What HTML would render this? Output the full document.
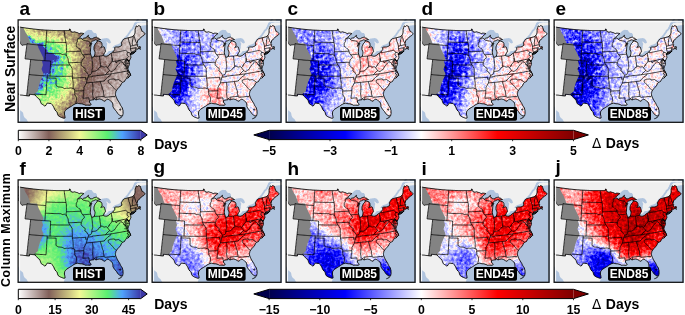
<!DOCTYPE html>
<html><head><meta charset="utf-8"><style>
html,body{margin:0;padding:0;background:#fff;width:685px;height:315px;overflow:hidden}
svg{display:block}
rect.fgc,.fg rect{width:1px;height:1px}
text{font-family:"Liberation Sans",Arial,sans-serif;font-weight:bold}
</style></head><body>
<svg width="685" height="315" viewBox="0 0 685 315"><defs><clipPath id="pclip"><rect x="0" y="0" width="130" height="104"/></clipPath>
<clipPath id="usclip"><path d="M-23.7 4.8 L-22.7 4.5 L-21.7 4.2 L-20.7 3.9 L-19.6 3.5 L-18.7 3.8 L-17.7 4.0 L-16.7 4.3 L-15.7 4.5 L-14.7 4.7 L-13.8 5.0 L-12.8 5.2 L-11.8 5.4 L-10.8 5.6 L-9.8 5.9 L-8.8 6.1 L-7.8 6.3 L-6.8 6.5 L-5.9 6.7 L-4.9 6.9 L-3.9 7.1 L-2.9 7.3 L-1.9 7.4 L-0.9 7.6 L0.1 7.8 L1.1 8.0 L2.1 8.1 L3.1 8.3 L4.1 8.5 L5.1 8.6 L6.1 8.8 L7.1 8.9 L8.1 9.1 L9.1 9.2 L10.1 9.3 L11.1 9.5 L12.1 9.6 L13.1 9.7 L14.1 9.8 L15.1 10.0 L16.1 10.1 L17.1 10.2 L18.1 10.3 L19.1 10.4 L20.1 10.5 L21.2 10.6 L22.2 10.7 L23.2 10.8 L24.2 10.8 L25.2 10.9 L26.2 11.0 L27.2 11.1 L28.2 11.1 L29.2 11.2 L30.2 11.2 L31.2 11.3 L32.2 11.3 L33.3 11.4 L34.3 11.4 L35.3 11.5 L36.3 11.5 L37.3 11.5 L38.3 11.6 L39.3 11.6 L40.3 11.6 L41.3 11.6 L42.4 11.6 L43.4 11.6 L44.4 11.6 L45.4 11.6 L46.4 11.6 L47.4 11.6 L48.4 11.6 L49.4 11.6 L50.4 11.5 L51.5 11.5 L51.4 10.0 L52.3 10.3 L52.6 11.4 L52.9 12.6 L53.9 12.9 L55.0 13.3 L55.7 13.0 L56.5 12.8 L57.4 13.1 L58.3 13.4 L59.0 13.5 L59.6 13.7 L60.4 14.2 L61.2 14.7 L62.0 14.4 L62.8 14.1 L63.7 14.2 L64.6 14.3 L65.2 14.4 L65.9 14.6 L65.1 15.2 L64.2 15.9 L63.3 16.7 L62.5 17.6 L61.7 18.2 L61.0 18.8 L60.4 19.3 L59.7 19.9 L60.5 19.8 L61.3 19.8 L62.1 19.3 L62.8 18.9 L63.6 19.6 L64.3 20.3 L64.9 19.8 L65.5 19.3 L66.3 19.1 L67.1 19.0 L67.9 18.9 L68.6 18.0 L69.3 17.2 L69.9 16.7 L70.5 16.3 L70.2 17.1 L69.9 17.9 L70.7 18.2 L71.5 18.5 L72.2 19.8 L72.9 19.8 L73.6 19.8 L74.3 19.8 L75.2 19.2 L76.1 18.7 L76.8 18.5 L77.6 18.3 L78.4 18.1 L79.0 18.6 L79.6 19.1 L80.2 18.8 L81.0 19.9 L81.7 20.2 L82.5 20.5 L81.7 20.7 L80.9 20.8 L80.2 21.1 L79.6 21.4 L78.5 21.1 L77.4 20.8 L76.8 21.2 L76.1 21.5 L75.4 21.8 L74.6 22.0 L74.1 22.4 L73.6 22.7 L72.9 23.9 L72.2 25.2 L71.8 26.3 L71.4 27.4 L71.8 26.8 L72.3 26.1 L73.0 25.2 L73.8 24.3 L73.3 25.5 L72.9 26.7 L72.8 27.6 L72.7 28.6 L72.6 29.8 L72.5 30.9 L72.4 32.0 L72.2 33.1 L72.4 34.1 L72.6 35.1 L73.0 36.2 L73.3 37.3 L73.9 38.3 L74.4 38.2 L75.0 38.1 L75.7 37.7 L76.3 37.2 L76.7 35.6 L76.9 34.6 L77.0 33.5 L76.8 32.7 L76.6 32.0 L76.2 31.1 L75.9 30.2 L76.0 29.2 L76.0 28.2 L76.2 27.3 L76.5 26.5 L77.0 25.4 L77.6 24.4 L78.3 23.7 L79.0 23.0 L79.4 21.7 L80.1 22.0 L80.8 22.2 L81.9 22.6 L83.1 23.0 L83.5 23.7 L83.9 24.5 L84.0 25.6 L84.1 26.8 L83.4 27.6 L82.8 28.5 L83.4 28.3 L84.1 28.1 L84.6 27.9 L85.1 27.6 L85.7 27.9 L86.3 28.2 L86.6 29.2 L86.9 30.2 L87.3 31.3 L87.4 32.8 L86.9 33.4 L86.4 33.9 L86.0 35.0 L85.2 36.5 L86.0 36.8 L86.9 37.1 L87.5 37.2 L88.1 37.3 L89.1 37.0 L90.2 36.6 L91.1 35.8 L92.0 35.0 L92.6 34.6 L93.3 34.2 L93.8 33.8 L94.3 33.4 L95.1 32.8 L96.0 31.6 L96.8 30.4 L97.0 30.0 L96.4 28.7 L97.1 28.4 L97.8 28.0 L98.6 28.0 L99.5 28.0 L100.3 28.0 L101.3 27.7 L102.2 27.4 L103.1 26.8 L103.9 26.2 L103.6 24.7 L103.1 23.9 L103.7 23.2 L104.2 22.4 L104.7 21.6 L105.2 20.7 L105.9 20.2 L106.6 19.7 L107.5 19.5 L108.4 19.3 L109.3 19.0 L110.2 18.8 L111.2 18.6 L112.1 18.3 L113.1 18.1 L114.0 17.8 L115.0 17.6 L115.4 16.9 L115.8 16.2 L116.4 15.6 L116.8 14.4 L117.1 13.2 L117.1 11.7 L117.1 10.2 L117.7 8.5 L118.3 6.9 L119.4 7.6 L120.0 7.1 L120.7 6.6 L121.5 6.9 L122.3 7.2 L122.7 8.6 L123.2 10.0 L123.6 11.3 L123.8 12.2 L124.8 12.3 L125.6 13.1 L126.3 13.9 L127.0 14.7 L126.6 15.6 L125.7 16.5 L125.0 16.9 L124.3 17.3 L123.7 17.7 L123.1 18.1 L122.5 19.0 L122.0 19.6 L121.4 20.2 L120.8 20.5 L120.2 20.9 L119.6 21.9 L119.3 23.2 L119.1 24.0 L119.0 24.8 L119.8 25.6 L119.3 25.9 L119.1 26.9 L120.0 27.3 L120.5 28.1 L121.0 28.7 L121.5 27.5 L121.9 27.3 L122.4 27.8 L122.4 28.8 L121.6 29.2 L120.8 29.6 L120.0 29.6 L119.5 30.2 L118.8 30.6 L118.3 31.0 L117.7 31.4 L117.1 31.6 L116.5 31.9 L115.6 32.3 L114.7 32.6 L113.9 33.2 L113.1 33.8 L112.5 34.5 L112.4 35.5 L112.7 36.6 L112.8 37.7 L112.9 38.7 L112.4 39.7 L111.9 40.7 L111.2 42.3 L110.4 41.4 L109.0 40.2 L109.6 41.2 L110.3 42.1 L110.9 42.9 L111.4 44.1 L111.3 45.0 L111.2 45.9 L110.5 47.6 L110.2 48.6 L109.8 49.5 L109.9 50.3 L110.0 50.4 L110.7 51.8 L111.3 53.0 L112.0 54.2 L112.4 55.2 L112.8 56.2 L112.1 56.6 L111.4 57.1 L110.8 58.0 L110.2 58.9 L109.3 59.2 L108.4 59.4 L107.8 60.3 L107.2 61.1 L106.5 62.5 L105.6 62.9 L104.7 63.2 L104.2 63.7 L103.7 64.3 L103.2 65.2 L102.8 66.2 L102.0 67.2 L101.2 68.2 L100.4 69.0 L99.6 69.8 L99.1 70.6 L98.5 71.3 L97.9 72.4 L97.7 73.4 L97.4 74.4 L97.5 75.5 L97.6 76.6 L98.1 77.7 L98.5 78.8 L99.0 79.8 L99.5 80.9 L100.3 82.1 L101.1 83.3 L101.5 84.0 L101.9 84.7 L102.3 85.6 L102.7 86.5 L103.5 87.7 L104.3 88.9 L104.6 90.2 L105.0 91.5 L105.0 92.9 L105.1 94.4 L104.9 95.4 L104.6 96.4 L103.8 96.7 L103.0 97.1 L101.8 96.3 L100.8 95.5 L99.8 94.7 L99.3 93.8 L98.8 92.9 L98.2 92.3 L97.6 91.6 L96.7 90.4 L95.8 89.2 L95.3 88.3 L94.9 87.4 L94.9 86.3 L94.8 85.1 L94.5 84.2 L94.2 83.3 L93.5 82.8 L92.8 82.4 L92.0 81.5 L91.2 80.7 L90.5 80.5 L89.8 80.2 L89.2 80.4 L88.5 80.7 L87.8 81.4 L87.1 82.0 L85.8 82.2 L85.0 81.2 L84.3 80.9 L83.6 80.6 L82.6 80.3 L81.6 80.0 L80.7 80.2 L79.9 80.3 L79.2 80.5 L78.4 80.8 L77.7 80.7 L77.0 80.5 L76.6 79.4 L76.3 80.2 L75.4 80.8 L74.1 80.9 L73.3 81.1 L72.5 81.3 L71.6 81.9 L71.3 83.0 L72.5 84.4 L73.2 85.6 L72.0 86.3 L71.0 86.2 L69.9 86.1 L69.3 86.2 L68.5 86.2 L67.6 86.3 L66.3 85.6 L65.1 85.2 L63.9 84.8 L62.9 84.8 L61.9 84.7 L60.8 84.5 L59.6 84.2 L58.8 84.4 L58.0 84.6 L57.3 84.8 L56.2 85.4 L55.1 86.0 L54.3 86.6 L53.5 87.2 L52.3 87.9 L51.2 88.6 L50.0 89.3 L48.9 90.1 L48.2 90.7 L47.5 91.3 L46.6 92.8 L46.5 93.9 L46.4 95.1 L46.7 96.2 L46.9 97.3 L47.0 98.2 L47.1 99.0 L45.9 99.3 L45.1 99.0 L44.2 98.7 L43.2 98.3 L42.2 97.9 L41.3 97.4 L40.5 96.9 L40.0 96.0 L39.5 95.0 L39.3 94.1 L39.1 93.1 L38.5 92.6 L37.8 92.0 L37.2 91.0 L36.5 90.1 L36.1 88.9 L35.6 87.8 L34.9 86.8 L34.3 85.8 L33.7 85.1 L33.0 84.4 L32.1 84.4 L30.9 84.3 L29.8 84.1 L28.8 84.5 L28.4 85.4 L28.0 86.3 L26.7 87.0 L25.9 86.4 L25.1 85.8 L24.2 85.3 L23.3 84.7 L22.9 83.8 L22.3 82.2 L22.1 81.5 L21.8 80.7 L21.0 80.1 L20.3 79.6 L19.1 78.2 L18.5 77.6 L17.9 77.1 L16.9 75.8 L15.8 75.7 L14.8 75.6 L13.7 75.5 L12.6 75.4 L11.5 75.3 L11.5 76.2 L11.4 77.0 L10.2 76.9 L9.1 76.8 L7.9 76.6 L6.8 76.5 L5.6 76.4 L4.5 76.2 L3.4 76.1 L2.2 76.0 L1.1 75.4 L-0.0 74.8 L-1.2 74.2 L-2.3 73.6 L-3.4 72.9 L-4.5 72.3 L-5.6 71.7 L-6.8 71.1 L-7.9 70.5 L-9.0 69.9 L-8.5 69.0 L-9.8 69.0 L-11.1 68.9 L-12.3 68.7 L-13.6 68.6 L-14.8 68.5 L-16.1 68.4 L-17.0 66.8 L-17.9 65.2 L-18.8 63.6 L-19.7 61.9 L-20.5 60.3 L-21.4 58.7 L-22.2 57.1 L-23.1 55.5 L-23.9 53.8 L-24.7 52.2 L-25.5 50.6 L-26.3 48.9 L-27.1 47.3 L-27.8 45.7 L-28.6 44.0 L-29.3 42.4 L-30.0 40.7 L-30.8 39.1 L-31.5 37.4 L-32.2 35.8Z"/></clipPath>
<g id="water" fill="#b0c4de"><path d="M47.1 99.0 L46.7 100.1 L46.3 101.2 L45.9 102.7 L45.6 104.2 L45.4 105.2 L45.2 106.3 L45.1 107.3 L45.0 108.5 L45.0 109.8 L45.0 111.0 L44.9 112.3 L44.9 113.7 L44.9 115.2 L44.9 116.6 L44.9 118.1 L44.9 119.5 L44.9 121.0 L44.9 122.4 L44.9 123.9 L44.9 125.3 L44.9 126.8 L44.9 128.3 L44.9 129.7 L46.4 130.0 L47.9 130.2 L49.4 130.4 L50.9 130.7 L52.4 130.9 L53.9 131.1 L55.4 131.3 L57.0 131.5 L58.5 131.7 L60.0 131.9 L61.5 132.0 L63.0 132.2 L64.5 132.4 L66.0 132.6 L67.5 132.7 L69.1 132.9 L70.6 133.0 L72.1 133.1 L73.6 133.3 L75.2 133.4 L76.7 133.5 L78.2 133.6 L79.8 133.7 L81.3 133.8 L82.8 133.9 L84.4 134.0 L85.9 134.1 L87.4 134.2 L89.0 134.2 L90.5 134.3 L92.0 134.4 L93.6 134.4 L95.1 134.0 L96.5 133.6 L98.0 133.2 L99.4 132.8 L100.9 132.3 L102.3 131.9 L103.8 131.5 L105.2 131.0 L106.7 130.6 L108.1 130.1 L109.5 129.7 L111.0 129.2 L112.4 128.7 L113.8 128.2 L115.3 127.8 L116.7 127.3 L118.1 126.8 L119.5 126.3 L121.0 125.8 L122.4 125.3 L123.8 124.8 L125.2 124.2 L126.6 123.7 L128.0 123.2 L129.4 122.6 L130.8 122.1 L132.2 121.6 L133.6 121.0 L135.0 120.5 L136.3 119.9 L137.7 119.3 L139.1 118.8 L140.5 118.2 L141.8 117.6 L143.2 117.0 L144.6 116.4 L145.9 115.8 L147.3 115.2 L148.3 113.4 L149.2 111.5 L150.2 109.6 L151.1 107.8 L152.0 105.9 L152.9 104.1 L153.8 102.2 L154.7 100.4 L155.5 98.5 L156.4 96.7 L157.2 94.8 L158.1 93.0 L158.9 91.1 L159.7 89.3 L160.5 87.4 L161.3 85.6 L162.0 83.7 L162.8 81.9 L163.5 80.0 L164.3 78.2 L165.0 76.3 L165.7 74.5 L166.4 72.6 L167.1 70.8 L167.8 68.9 L168.4 67.1 L169.1 65.3 L169.7 63.4 L170.3 61.6 L171.0 59.7 L171.6 57.9 L171.0 56.5 L170.4 55.1 L169.8 53.7 L169.2 52.4 L168.6 51.0 L168.1 49.6 L167.5 48.2 L166.9 46.9 L166.3 45.5 L165.7 44.1 L165.2 42.7 L164.6 41.4 L164.0 40.0 L163.4 38.6 L162.8 37.2 L162.2 35.8 L161.7 34.5 L161.1 33.1 L160.5 31.7 L159.9 30.3 L159.3 29.0 L158.8 27.6 L158.2 26.2 L157.6 24.8 L157.0 23.4 L156.4 22.1 L155.8 20.7 L155.2 19.3 L154.7 17.9 L154.1 16.5 L153.5 15.1 L152.9 13.7 L152.3 12.4 L151.7 11.0 L150.5 10.0 L149.2 9.1 L148.0 8.1 L146.7 7.1 L145.5 6.2 L144.3 5.2 L143.1 4.2 L142.1 4.4 L141.1 4.5 L140.1 4.7 L139.2 4.8 L138.2 5.0 L137.2 5.1 L136.2 5.2 L135.3 5.4 L134.3 5.5 L133.3 5.6 L132.3 5.8 L131.4 5.9 L130.4 6.0 L129.4 6.1 L128.5 6.2 L127.5 6.3 L126.6 6.3 L125.6 6.4 L124.8 6.6 L123.9 6.8 L123.1 7.0 L122.3 7.2 L122.7 8.6 L123.2 10.0 L123.6 11.3 L123.8 12.2 L124.8 12.3 L125.6 13.1 L126.3 13.9 L125.5 14.4 L124.7 15.0 L123.9 15.5 L123.0 16.1 L122.3 17.3 L121.6 18.6 L120.8 19.8 L120.1 21.0 L119.3 22.3 L118.5 23.5 L117.7 24.7 L117.0 25.9 L116.2 27.2 L115.2 27.8 L114.3 28.5 L113.4 29.2 L112.4 29.9 L111.5 30.6 L110.5 31.3 L109.6 32.0 L108.6 32.6 L107.6 33.3 L106.7 34.0 L105.7 34.7 L104.7 35.3 L103.7 36.0 L103.2 37.5 L102.6 39.1 L102.0 40.7 L101.4 42.3 L100.7 43.8 L100.1 45.4 L99.5 46.9 L98.8 48.5 L98.2 50.1 L97.5 51.6 L96.8 53.2 L96.1 54.7 L95.4 56.3 L94.7 57.8 L94.0 59.4 L93.3 60.9 L92.2 61.6 L91.1 62.2 L90.0 62.8 L88.9 63.4 L87.8 64.0 L86.7 64.6 L85.6 65.2 L84.5 65.8 L83.3 66.4 L82.2 67.0 L81.1 67.6 L80.0 68.2 L78.8 68.8 L77.7 69.4 L76.5 69.9 L75.4 70.5 L74.2 71.1 L73.1 71.6 L71.9 72.2 L70.7 72.7 L69.6 73.3 L68.4 74.1 L67.3 74.9 L66.2 75.6 L65.0 76.4 L63.9 77.2 L62.7 78.0 L61.5 78.8 L60.4 79.5 L59.2 80.3 L58.0 81.1 L56.8 81.8 L55.6 82.6 L54.4 83.3 L53.2 84.1 L52.0 84.8 L50.8 85.5 L50.1 86.9 L49.4 88.3 L48.7 89.6 L48.0 91.0 L47.3 92.3 L46.6 93.7 L45.9 95.1Z"/><path d="M113.9 10.5 L114.5 9.7 L115.1 8.9 L115.7 8.0 L116.5 7.0 L117.3 6.0 L118.0 5.4 L118.7 4.7 L119.4 4.1 L120.4 3.9 L121.3 3.7 L122.3 3.5 L123.2 3.3 L124.2 3.4 L125.1 3.4 L126.0 3.4 L127.0 3.4 L127.9 3.4 L128.9 3.3 L129.9 3.1 L130.9 2.9 L131.9 2.7 L132.9 2.5 L133.9 2.3 L134.9 2.1 L135.8 1.9 L136.8 1.7 L137.8 1.5 L138.7 1.3 L139.7 1.1 L140.7 0.8 L141.7 0.6 L141.1 -0.8 L140.5 -2.1 L140.0 -3.5 L139.4 -4.9 L138.9 -6.3 L138.3 -7.7 L137.8 -9.1 L137.2 -10.5 L136.7 -11.9 L136.1 -13.3 L135.5 -14.7 L135.0 -16.1 L134.4 -17.5 L133.6 -17.1 L132.7 -16.8 L131.8 -16.5 L131.0 -16.1 L130.1 -15.8 L129.2 -15.5 L128.3 -15.2 L127.5 -14.8 L126.6 -14.5 L125.7 -14.2 L124.8 -13.9 L124.0 -13.6 L123.1 -13.3 L122.2 -13.0 L121.3 -12.7 L120.4 -12.4 L119.6 -12.1 L120.0 -10.7 L120.5 -9.3 L120.9 -7.9 L121.4 -6.6 L121.8 -5.2 L122.3 -3.8 L122.7 -2.4 L123.1 -1.1 L123.6 0.3 L124.0 1.7 L123.0 1.7 L122.0 1.7 L121.0 1.7 L120.0 1.7 L119.3 2.1 L118.5 2.5 L117.7 2.9 L117.0 3.2 L116.4 4.3 L115.8 5.5 L115.3 6.6 L114.7 7.9 L114.1 9.3Z"/><path d="M59.7 19.9 L60.5 19.8 L61.3 19.8 L62.1 19.3 L62.8 18.9 L63.6 19.6 L64.3 20.3 L64.9 19.8 L65.5 19.3 L66.3 19.1 L67.1 19.0 L67.9 18.9 L68.6 18.0 L69.3 17.2 L69.9 16.7 L70.5 16.3 L70.2 17.1 L69.9 17.9 L70.7 18.2 L71.5 18.5 L72.2 19.8 L72.9 19.8 L73.6 19.8 L74.3 19.8 L75.2 19.2 L76.1 18.7 L76.8 18.5 L77.6 18.3 L78.4 18.1 L79.0 18.6 L79.6 19.1 L79.2 18.3 L78.8 17.5 L79.1 15.9 L78.5 15.0 L77.9 14.1 L76.8 13.9 L75.7 13.8 L74.6 12.4 L73.6 11.1 L72.7 11.0 L71.8 10.9 L71.0 10.8 L70.0 11.1 L69.0 11.4 L68.2 12.1 L67.4 12.7 L66.6 13.4 L65.9 14.6 L65.1 15.2 L64.2 15.9 L63.3 16.7 L62.5 17.6 L61.7 18.2 L61.0 18.8Z"/><path d="M79.4 21.7 L78.4 21.3 L77.4 20.8 L76.8 21.2 L76.1 21.5 L75.4 21.8 L74.6 22.0 L74.1 22.4 L73.6 22.7 L72.9 23.9 L72.2 25.2 L71.8 26.3 L71.4 27.4 L71.8 26.8 L72.3 26.1 L73.0 25.2 L73.8 24.3 L73.3 25.5 L72.9 26.7 L72.8 27.6 L72.7 28.6 L72.6 29.8 L72.5 30.9 L72.4 32.0 L72.2 33.1 L72.4 34.1 L72.6 35.1 L73.0 36.2 L73.3 37.3 L73.9 38.3 L74.4 38.2 L75.0 38.1 L75.7 37.7 L76.3 37.2 L76.7 35.6 L76.9 34.6 L77.0 33.5 L76.8 32.7 L76.6 32.0 L76.2 31.1 L75.9 30.2 L76.0 29.2 L76.0 28.2 L76.2 27.3 L76.5 26.5 L77.0 25.4 L77.6 24.4 L78.3 23.7 L79.0 23.0Z"/><path d="M79.6 21.4 L80.2 21.1 L80.9 20.8 L81.7 20.7 L82.5 20.5 L83.2 20.2 L84.0 19.8 L84.8 19.6 L85.7 19.4 L86.6 19.2 L87.5 19.2 L88.4 19.1 L89.4 19.2 L90.4 19.4 L91.2 20.3 L92.1 21.2 L92.5 22.3 L93.0 23.4 L92.4 24.0 L91.8 24.6 L91.1 24.3 L90.4 24.0 L89.6 23.3 L88.9 22.5 L88.2 22.7 L88.7 23.7 L89.3 24.8 L89.0 26.0 L88.7 27.2 L88.8 28.7 L88.1 30.4 L87.3 31.3 L86.9 30.2 L86.6 29.2 L86.3 28.2 L85.7 27.9 L85.1 27.6 L84.6 27.9 L84.1 28.1 L83.4 28.3 L82.8 28.5 L83.4 27.6 L84.1 26.8 L84.0 25.6 L83.9 24.5 L83.5 23.7 L83.1 23.0 L81.9 22.6 L80.8 22.2 L80.1 22.0 L79.4 21.7Z"/><path d="M85.2 36.5 L86.0 36.8 L86.9 37.1 L87.5 37.2 L88.1 37.3 L89.1 37.0 L90.2 36.6 L91.1 35.8 L92.0 35.0 L92.6 34.6 L93.3 34.2 L93.8 33.8 L94.3 33.4 L95.1 32.8 L96.0 31.6 L96.8 30.4 L97.0 30.0 L96.0 30.4 L95.1 30.9 L94.2 31.5 L93.5 31.7 L92.9 32.0 L91.8 32.0 L90.6 32.1 L90.1 32.9 L89.5 33.6 L88.6 34.4 L87.7 35.1 L86.9 35.1 L86.0 35.1Z"/><path d="M96.4 28.7 L97.1 28.4 L97.8 28.0 L98.6 28.0 L99.5 28.0 L100.3 28.0 L101.3 27.7 L102.2 27.4 L103.1 26.8 L103.9 26.2 L103.6 24.7 L103.1 23.9 L102.3 23.9 L101.5 24.4 L100.8 24.8 L100.0 25.2 L99.2 25.4 L98.3 25.7 L97.4 26.0 L96.6 26.5 L95.9 26.9 L95.2 27.4 L94.3 28.9 L95.0 29.0 L95.7 29.1Z"/><path d="M101.7 90.3 L102.3 90.0 L102.9 90.5 L102.6 91.1 L101.9 91.1Z"/><path d="M103.1 23.9 L103.7 23.2 L104.2 22.4 L104.7 21.6 L105.2 20.7 L105.9 20.2 L106.6 19.7 L107.4 18.9 L108.2 18.0 L108.7 17.5 L109.3 16.9 L110.0 16.0 L110.6 15.0 L111.3 14.0 L112.0 13.0 L112.6 11.9 L113.3 11.3 L114.0 10.6 L114.7 9.8 L115.4 8.9 L115.9 7.9 L116.4 6.8 L116.9 5.7 L117.4 4.5 L118.1 3.3 L118.8 2.1 L119.4 1.2 L120.0 0.4 L120.7 -0.5 L121.4 -1.0 L122.1 -1.5 L122.8 -2.0 L123.6 -2.4 L124.4 -2.7 L125.2 -3.0" fill="none" stroke="#b0c4de" stroke-width="1.8"/></g>
<path id="west" d="M-32.3 -12.5 L-31.4 -12.2 L-30.5 -11.9 L-29.6 -11.6 L-28.7 -11.3 L-27.7 -11.0 L-26.8 -10.7 L-25.9 -10.4 L-24.9 -10.1 L-24.0 -9.9 L-23.1 -9.6 L-22.1 -9.3 L-21.2 -9.1 L-20.3 -8.8 L-19.3 -8.6 L-18.4 -8.3 L-17.5 -8.1 L-16.5 -7.8 L-15.6 -7.6 L-14.7 -7.3 L-13.7 -7.1 L-12.8 -6.9 L-11.8 -6.7 L-10.9 -6.4 L-9.9 -6.2 L-9.0 -6.0 L-8.0 -5.8 L-7.1 -5.6 L-6.1 -5.4 L-5.2 -5.2 L-4.2 -5.0 L-3.3 -4.8 L-2.3 -4.6 L-1.4 -4.4 L-0.4 -4.3 L0.5 -4.1 L0.2 -2.6 L-0.0 -1.2 L-0.3 0.3 L-0.5 1.7 L-0.8 3.2 L-1.1 4.6 L-1.3 6.1 L-1.6 7.5 L-1.8 8.8 L-2.1 10.1 L-2.3 11.4 L-2.0 12.5 L-1.8 13.6 L-1.3 14.0 L-0.9 14.5 L-0.2 15.8 L0.5 17.1 L1.1 17.8 L0.6 19.2 L0.4 20.3 L0.1 21.3 L0.8 21.6 L1.5 21.9 L2.0 23.2 L2.5 24.4 L3.2 25.4 L4.0 26.4 L4.7 26.2 L5.4 26.0 L6.2 25.9 L7.1 25.8 L7.9 25.8 L9.0 24.7 L8.8 26.1 L8.6 27.5 L8.5 28.9 L8.3 30.2 L8.1 31.6 L7.9 33.0 L7.7 34.4 L7.6 35.7 L7.4 37.1 L7.2 38.5 L7.0 39.8 L8.0 39.9 L8.9 40.1 L9.9 40.2 L10.8 40.3 L11.7 40.4 L12.7 40.5 L12.5 42.0 L12.4 43.4 L12.2 44.9 L12.0 46.3 L11.9 47.8 L11.7 49.2 L11.6 50.7 L11.4 52.1 L11.2 53.6 L11.1 55.0 L10.9 56.5 L10.8 57.9 L10.6 59.4 L10.4 60.8 L10.3 62.3 L10.1 63.7 L10.0 65.1 L9.8 66.6 L9.6 68.0 L9.5 69.5 L9.3 70.9 L9.2 72.4 L9.0 73.8 L8.8 75.3 L8.7 76.7 L8.5 78.2 L8.4 79.7 L8.2 81.1 L8.0 82.6 L7.9 84.1 L7.7 85.5 L7.5 87.0 L7.4 88.5 L7.2 89.9 L7.1 91.4 L6.9 92.9 L6.7 94.4 L6.6 95.8 L6.4 97.3 L6.2 98.8 L6.1 100.3 L5.9 101.8 L5.7 103.2 L5.6 104.7 L5.4 106.2 L5.2 107.7 L5.1 109.2 L4.9 110.7 L4.8 112.2 L4.6 113.7 L4.4 115.2 L4.3 116.7 L4.1 118.2 L3.9 119.7 L2.5 119.6 L1.0 119.4 L-0.4 119.2 L-1.8 119.0 L-3.2 118.8 L-4.7 118.7 L-6.1 118.5 L-7.5 118.3 L-9.0 118.1 L-10.4 117.8 L-11.8 117.6 L-13.3 117.4 L-14.7 117.2 L-16.1 116.9 L-17.5 116.7 L-18.9 116.4 L-20.4 116.2 L-21.8 115.9 L-23.2 115.7 L-24.6 115.4 L-26.0 115.1 L-27.5 114.9 L-28.9 114.6 L-30.3 114.3 L-31.7 114.0 L-33.1 113.7 L-34.5 113.4 L-35.9 113.1 L-37.3 112.7 L-38.8 112.4 L-40.2 112.1 L-41.6 111.7 L-43.0 111.4 L-44.4 111.1 L-45.8 110.7 L-47.2 110.3 L-48.6 110.0 L-50.0 109.6 L-51.4 109.2 L-52.7 108.9 L-54.1 108.5 L-55.5 108.1 L-56.9 107.7 L-58.3 107.3 L-59.7 106.9 L-61.1 106.5 L-62.5 106.0 L-63.8 105.6 L-65.2 105.2 L-66.6 104.8 L-68.0 104.3 L-69.3 103.9 L-70.7 103.4Z" fill="#f0f0f0"/>
<path id="gulfcal" d="M-9.4 72.4 L-8.5 73.1 L-7.6 73.9 L-6.7 74.4 L-5.7 74.9 L-5.1 75.6 L-4.4 76.3 L-4.1 77.3 L-3.8 78.3 L-3.5 79.7 L-3.2 81.0 L-2.8 82.0 L-2.5 83.0 L-2.2 84.0 L-1.9 85.0 L-1.1 85.9 L-0.3 86.8 L0.4 87.8 L1.1 88.9 L1.6 90.1 L2.1 91.3 L3.1 92.1 L4.0 92.8 L4.9 93.6 L5.2 94.6 L5.4 95.6 L5.6 96.7 L6.3 98.3 L7.3 99.2 L8.4 100.1 L9.1 101.3 L9.8 102.5 L10.9 103.8 L12.1 105.0 L12.9 106.1 L13.7 107.2 L14.6 108.3 L15.1 109.9 L15.6 111.5 L16.1 113.1 L16.6 114.7 L17.1 116.3 L17.6 117.9 L18.1 119.5 L18.7 121.0 L17.2 120.9 L15.8 120.8 L14.3 120.7 L12.9 120.6 L11.5 120.5 L10.0 120.3 L8.6 120.2 L7.2 120.1 L5.7 119.9 L4.3 119.8 L2.9 119.6 L1.4 119.4 L-0.0 119.3 L-1.4 119.1 L-2.9 118.9 L-4.3 118.7 L-5.7 118.5 L-7.2 118.3 L-8.6 118.1 L-10.0 117.9 L-11.4 117.7 L-12.9 117.5 L-14.3 117.2 L-15.7 117.0 L-17.1 116.8 L-18.5 116.5 L-20.0 116.3 L-21.4 116.0 L-22.8 115.8 L-24.2 115.5 L-25.6 115.2 L-27.1 114.9 L-28.5 114.6 L-29.9 114.4 L-31.3 114.1 L-32.7 113.8 L-34.1 113.5 L-35.5 113.1 L-35.2 111.7 L-34.8 110.2 L-34.5 108.7 L-34.2 107.2 L-33.9 105.7 L-33.5 104.2 L-33.2 102.7 L-32.9 101.3 L-32.5 99.8 L-32.2 98.3 L-31.9 96.8 L-31.5 95.4 L-31.2 93.9 L-30.9 92.4 L-30.6 91.0 L-30.2 89.5 L-29.9 88.0 L-29.6 86.6 L-29.3 85.1 L-28.9 83.7 L-28.6 82.2 L-28.3 80.8 L-28.0 79.3 L-27.6 77.8 L-27.3 76.4 L-27.0 74.9 L-26.7 73.5 L-26.3 72.0 L-26.0 70.6 L-25.7 69.1 L-25.4 67.7 L-25.0 66.2 L-24.7 64.8Z" fill="#b0c4de"/>
<path id="mask" d="M5.2 0.0 L5.7 9.5 L7.6 13.5 L9.5 16.4 L11.0 20.2 L12.4 24.3 L19.0 24.6 L20.5 29.0 L22.9 33.8 L25.2 38.5 L25.5 40.5 L24.0 42.0 L25.0 46.0 L23.5 50.0 L25.5 55.0 L25.2 56.0 L21.9 63.5 L20.5 68.3 L20.0 72.0 L16.7 75.0 L16.0 75.9 L16.0 95.0 L-5.0 95.0 L-5.0 0.0Z" fill="#838383"/>
<path id="usoutline" d="M-23.7 4.8 L-22.7 4.5 L-21.7 4.2 L-20.7 3.9 L-19.6 3.5 L-18.7 3.8 L-17.7 4.0 L-16.7 4.3 L-15.7 4.5 L-14.7 4.7 L-13.8 5.0 L-12.8 5.2 L-11.8 5.4 L-10.8 5.6 L-9.8 5.9 L-8.8 6.1 L-7.8 6.3 L-6.8 6.5 L-5.9 6.7 L-4.9 6.9 L-3.9 7.1 L-2.9 7.3 L-1.9 7.4 L-0.9 7.6 L0.1 7.8 L1.1 8.0 L2.1 8.1 L3.1 8.3 L4.1 8.5 L5.1 8.6 L6.1 8.8 L7.1 8.9 L8.1 9.1 L9.1 9.2 L10.1 9.3 L11.1 9.5 L12.1 9.6 L13.1 9.7 L14.1 9.8 L15.1 10.0 L16.1 10.1 L17.1 10.2 L18.1 10.3 L19.1 10.4 L20.1 10.5 L21.2 10.6 L22.2 10.7 L23.2 10.8 L24.2 10.8 L25.2 10.9 L26.2 11.0 L27.2 11.1 L28.2 11.1 L29.2 11.2 L30.2 11.2 L31.2 11.3 L32.2 11.3 L33.3 11.4 L34.3 11.4 L35.3 11.5 L36.3 11.5 L37.3 11.5 L38.3 11.6 L39.3 11.6 L40.3 11.6 L41.3 11.6 L42.4 11.6 L43.4 11.6 L44.4 11.6 L45.4 11.6 L46.4 11.6 L47.4 11.6 L48.4 11.6 L49.4 11.6 L50.4 11.5 L51.5 11.5 L51.4 10.0 L52.3 10.3 L52.6 11.4 L52.9 12.6 L53.9 12.9 L55.0 13.3 L55.7 13.0 L56.5 12.8 L57.4 13.1 L58.3 13.4 L59.0 13.5 L59.6 13.7 L60.4 14.2 L61.2 14.7 L62.0 14.4 L62.8 14.1 L63.7 14.2 L64.6 14.3 L65.2 14.4 L65.9 14.6 L65.1 15.2 L64.2 15.9 L63.3 16.7 L62.5 17.6 L61.7 18.2 L61.0 18.8 L60.4 19.3 L59.7 19.9 L60.5 19.8 L61.3 19.8 L62.1 19.3 L62.8 18.9 L63.6 19.6 L64.3 20.3 L64.9 19.8 L65.5 19.3 L66.3 19.1 L67.1 19.0 L67.9 18.9 L68.6 18.0 L69.3 17.2 L69.9 16.7 L70.5 16.3 L70.2 17.1 L69.9 17.9 L70.7 18.2 L71.5 18.5 L72.2 19.8 L72.9 19.8 L73.6 19.8 L74.3 19.8 L75.2 19.2 L76.1 18.7 L76.8 18.5 L77.6 18.3 L78.4 18.1 L79.0 18.6 L79.6 19.1 L80.2 18.8 L81.0 19.9 L81.7 20.2 L82.5 20.5 L81.7 20.7 L80.9 20.8 L80.2 21.1 L79.6 21.4 L78.5 21.1 L77.4 20.8 L76.8 21.2 L76.1 21.5 L75.4 21.8 L74.6 22.0 L74.1 22.4 L73.6 22.7 L72.9 23.9 L72.2 25.2 L71.8 26.3 L71.4 27.4 L71.8 26.8 L72.3 26.1 L73.0 25.2 L73.8 24.3 L73.3 25.5 L72.9 26.7 L72.8 27.6 L72.7 28.6 L72.6 29.8 L72.5 30.9 L72.4 32.0 L72.2 33.1 L72.4 34.1 L72.6 35.1 L73.0 36.2 L73.3 37.3 L73.9 38.3 L74.4 38.2 L75.0 38.1 L75.7 37.7 L76.3 37.2 L76.7 35.6 L76.9 34.6 L77.0 33.5 L76.8 32.7 L76.6 32.0 L76.2 31.1 L75.9 30.2 L76.0 29.2 L76.0 28.2 L76.2 27.3 L76.5 26.5 L77.0 25.4 L77.6 24.4 L78.3 23.7 L79.0 23.0 L79.4 21.7 L80.1 22.0 L80.8 22.2 L81.9 22.6 L83.1 23.0 L83.5 23.7 L83.9 24.5 L84.0 25.6 L84.1 26.8 L83.4 27.6 L82.8 28.5 L83.4 28.3 L84.1 28.1 L84.6 27.9 L85.1 27.6 L85.7 27.9 L86.3 28.2 L86.6 29.2 L86.9 30.2 L87.3 31.3 L87.4 32.8 L86.9 33.4 L86.4 33.9 L86.0 35.0 L85.2 36.5 L86.0 36.8 L86.9 37.1 L87.5 37.2 L88.1 37.3 L89.1 37.0 L90.2 36.6 L91.1 35.8 L92.0 35.0 L92.6 34.6 L93.3 34.2 L93.8 33.8 L94.3 33.4 L95.1 32.8 L96.0 31.6 L96.8 30.4 L97.0 30.0 L96.4 28.7 L97.1 28.4 L97.8 28.0 L98.6 28.0 L99.5 28.0 L100.3 28.0 L101.3 27.7 L102.2 27.4 L103.1 26.8 L103.9 26.2 L103.6 24.7 L103.1 23.9 L103.7 23.2 L104.2 22.4 L104.7 21.6 L105.2 20.7 L105.9 20.2 L106.6 19.7 L107.5 19.5 L108.4 19.3 L109.3 19.0 L110.2 18.8 L111.2 18.6 L112.1 18.3 L113.1 18.1 L114.0 17.8 L115.0 17.6 L115.4 16.9 L115.8 16.2 L116.4 15.6 L116.8 14.4 L117.1 13.2 L117.1 11.7 L117.1 10.2 L117.7 8.5 L118.3 6.9 L119.4 7.6 L120.0 7.1 L120.7 6.6 L121.5 6.9 L122.3 7.2 L122.7 8.6 L123.2 10.0 L123.6 11.3 L123.8 12.2 L124.8 12.3 L125.6 13.1 L126.3 13.9 L127.0 14.7 L126.6 15.6 L125.7 16.5 L125.0 16.9 L124.3 17.3 L123.7 17.7 L123.1 18.1 L122.5 19.0 L122.0 19.6 L121.4 20.2 L120.8 20.5 L120.2 20.9 L119.6 21.9 L119.3 23.2 L119.1 24.0 L119.0 24.8 L119.8 25.6 L119.3 25.9 L119.1 26.9 L120.0 27.3 L120.5 28.1 L121.0 28.7 L121.5 27.5 L121.9 27.3 L122.4 27.8 L122.4 28.8 L121.6 29.2 L120.8 29.6 L120.0 29.6 L119.5 30.2 L118.8 30.6 L118.3 31.0 L117.7 31.4 L117.1 31.6 L116.5 31.9 L115.6 32.3 L114.7 32.6 L113.9 33.2 L113.1 33.8 L112.5 34.5 L112.4 35.5 L112.7 36.6 L112.8 37.7 L112.9 38.7 L112.4 39.7 L111.9 40.7 L111.2 42.3 L110.4 41.4 L109.0 40.2 L109.6 41.2 L110.3 42.1 L110.9 42.9 L111.4 44.1 L111.3 45.0 L111.2 45.9 L110.5 47.6 L110.2 48.6 L109.8 49.5 L109.9 50.3 L110.0 50.4 L110.7 51.8 L111.3 53.0 L112.0 54.2 L112.4 55.2 L112.8 56.2 L112.1 56.6 L111.4 57.1 L110.8 58.0 L110.2 58.9 L109.3 59.2 L108.4 59.4 L107.8 60.3 L107.2 61.1 L106.5 62.5 L105.6 62.9 L104.7 63.2 L104.2 63.7 L103.7 64.3 L103.2 65.2 L102.8 66.2 L102.0 67.2 L101.2 68.2 L100.4 69.0 L99.6 69.8 L99.1 70.6 L98.5 71.3 L97.9 72.4 L97.7 73.4 L97.4 74.4 L97.5 75.5 L97.6 76.6 L98.1 77.7 L98.5 78.8 L99.0 79.8 L99.5 80.9 L100.3 82.1 L101.1 83.3 L101.5 84.0 L101.9 84.7 L102.3 85.6 L102.7 86.5 L103.5 87.7 L104.3 88.9 L104.6 90.2 L105.0 91.5 L105.0 92.9 L105.1 94.4 L104.9 95.4 L104.6 96.4 L103.8 96.7 L103.0 97.1 L101.8 96.3 L100.8 95.5 L99.8 94.7 L99.3 93.8 L98.8 92.9 L98.2 92.3 L97.6 91.6 L96.7 90.4 L95.8 89.2 L95.3 88.3 L94.9 87.4 L94.9 86.3 L94.8 85.1 L94.5 84.2 L94.2 83.3 L93.5 82.8 L92.8 82.4 L92.0 81.5 L91.2 80.7 L90.5 80.5 L89.8 80.2 L89.2 80.4 L88.5 80.7 L87.8 81.4 L87.1 82.0 L85.8 82.2 L85.0 81.2 L84.3 80.9 L83.6 80.6 L82.6 80.3 L81.6 80.0 L80.7 80.2 L79.9 80.3 L79.2 80.5 L78.4 80.8 L77.7 80.7 L77.0 80.5 L76.6 79.4 L76.3 80.2 L75.4 80.8 L74.1 80.9 L73.3 81.1 L72.5 81.3 L71.6 81.9 L71.3 83.0 L72.5 84.4 L73.2 85.6 L72.0 86.3 L71.0 86.2 L69.9 86.1 L69.3 86.2 L68.5 86.2 L67.6 86.3 L66.3 85.6 L65.1 85.2 L63.9 84.8 L62.9 84.8 L61.9 84.7 L60.8 84.5 L59.6 84.2 L58.8 84.4 L58.0 84.6 L57.3 84.8 L56.2 85.4 L55.1 86.0 L54.3 86.6 L53.5 87.2 L52.3 87.9 L51.2 88.6 L50.0 89.3 L48.9 90.1 L48.2 90.7 L47.5 91.3 L46.6 92.8 L46.5 93.9 L46.4 95.1 L46.7 96.2 L46.9 97.3 L47.0 98.2 L47.1 99.0 L45.9 99.3 L45.1 99.0 L44.2 98.7 L43.2 98.3 L42.2 97.9 L41.3 97.4 L40.5 96.9 L40.0 96.0 L39.5 95.0 L39.3 94.1 L39.1 93.1 L38.5 92.6 L37.8 92.0 L37.2 91.0 L36.5 90.1 L36.1 88.9 L35.6 87.8 L34.9 86.8 L34.3 85.8 L33.7 85.1 L33.0 84.4 L32.1 84.4 L30.9 84.3 L29.8 84.1 L28.8 84.5 L28.4 85.4 L28.0 86.3 L26.7 87.0 L25.9 86.4 L25.1 85.8 L24.2 85.3 L23.3 84.7 L22.9 83.8 L22.3 82.2 L22.1 81.5 L21.8 80.7 L21.0 80.1 L20.3 79.6 L19.1 78.2 L18.5 77.6 L17.9 77.1 L16.9 75.8 L15.8 75.7 L14.8 75.6 L13.7 75.5 L12.6 75.4 L11.5 75.3 L11.5 76.2 L11.4 77.0 L10.2 76.9 L9.1 76.8 L7.9 76.6 L6.8 76.5 L5.6 76.4 L4.5 76.2 L3.4 76.1 L2.2 76.0 L1.1 75.4 L-0.0 74.8 L-1.2 74.2 L-2.3 73.6 L-3.4 72.9 L-4.5 72.3 L-5.6 71.7 L-6.8 71.1 L-7.9 70.5 L-9.0 69.9 L-8.5 69.0 L-9.8 69.0 L-11.1 68.9 L-12.3 68.7 L-13.6 68.6 L-14.8 68.5 L-16.1 68.4 L-17.0 66.8 L-17.9 65.2 L-18.8 63.6 L-19.7 61.9 L-20.5 60.3 L-21.4 58.7 L-22.2 57.1 L-23.1 55.5 L-23.9 53.8 L-24.7 52.2 L-25.5 50.6 L-26.3 48.9 L-27.1 47.3 L-27.8 45.7 L-28.6 44.0 L-29.3 42.4 L-30.0 40.7 L-30.8 39.1 L-31.5 37.4 L-32.2 35.8Z M112.4 35.5 L113.4 35.2 L114.3 34.9 L115.2 34.6 L116.1 33.9 L117.0 33.1 L117.8 32.3 L117.1 32.8 L116.3 33.2 L115.5 33.4 L114.6 33.7 L113.8 33.9 L112.9 34.6Z M101.7 90.3 L102.3 90.0 L102.9 90.5 L102.6 91.1 L101.9 91.1Z M104.7 96.6 L104.1 97.5 L103.2 98.4 L101.9 99.2 L101.1 99.5 L100.3 99.8"/>
<path id="coastx" d="M108.9 50.3 L108.4 49.2 L108.5 48.1 L108.0 46.6 L107.3 45.6 L107.4 44.5 L106.7 43.1 L107.1 41.8 L107.5 41.0 L107.8 40.9 L107.7 42.1 L107.7 42.8 L107.8 43.6 L108.3 44.5 L108.7 45.3 L109.3 46.4 L109.6 47.8 L109.7 49.4 L109.8 50.1 M108.1 46.6 L107.5 46.4 L106.8 46.1 L105.8 45.6 M108.9 50.3 L108.3 50.0 L107.6 49.8 L106.4 49.7 M108.2 48.1 L106.8 47.7 M111.1 42.9 L110.1 41.9 L109.0 40.6 L108.9 39.5 M111.2 42.3 L110.6 41.4 L109.6 40.9 M109.9 50.5 L109.3 52.1 L110.6 53.4 L109.7 54.0 L108.9 54.5 L110.0 55.1 L111.1 55.6 L110.4 56.3 L109.8 57.0 L109.2 57.8 L108.5 58.5 M110.5 51.9 L111.0 52.7 L111.4 53.6 L112.1 54.6 L112.4 55.4 L112.8 56.2 L112.1 56.6 L111.4 57.1 L110.8 58.0 L110.2 58.9 M112.4 35.5 L113.4 35.2 L114.3 34.9 L115.2 34.6 L116.1 33.9 L117.0 33.1 L117.8 32.3 L117.1 32.8 L116.3 33.2 L115.5 33.4 L114.6 33.7 L113.8 33.9 L112.9 34.6 L112.4 35.5 M120.8 29.6 L121.8 29.8 L122.8 30.0 L122.0 30.4"/>
<path id="borders" d="M28.8 11.2 L28.7 12.6 L28.6 14.0 L28.5 15.4 L28.4 16.8 L28.3 18.2 L28.3 19.6 L28.2 21.0 L28.1 22.4 L28.0 23.8 L27.9 25.2 L27.8 26.5 M27.8 26.5 L26.8 26.5 L25.7 26.4 L24.7 26.3 L23.6 26.3 L22.6 26.2 L21.5 26.1 L20.5 26.0 L19.4 25.9 L18.4 25.8 L17.4 25.7 L16.3 25.6 L15.3 25.5 L14.2 25.4 L13.2 25.3 L12.1 25.1 L11.1 25.0 L10.0 24.9 L9.0 24.7 M9.0 24.7 L7.9 25.8 L7.1 25.8 L6.2 25.9 L5.4 26.0 L4.7 26.2 L4.0 26.4 L3.2 25.4 L2.5 24.4 L2.0 23.2 L1.5 21.9 L0.8 21.6 L0.1 21.3 L0.4 20.3 L0.6 19.2 L1.1 17.8 L0.5 17.1 L-0.2 15.8 L-0.9 14.5 L-1.3 14.0 L-1.8 13.6 L-2.0 12.5 L-2.3 11.4 L-2.1 10.1 L-1.8 8.8 L-1.6 7.5 M27.8 26.5 L27.8 27.9 L27.7 29.3 L27.6 30.7 L27.5 32.1 L27.4 33.5 L27.3 34.8 L27.3 36.2 L27.2 37.6 L27.1 39.0 L27.0 40.4 L26.9 41.7 M26.9 41.7 L25.8 41.7 L24.7 41.6 L23.6 41.5 L22.5 41.4 L21.4 41.3 L20.3 41.3 L19.2 41.2 L18.1 41.1 L17.0 41.0 L15.8 40.8 L14.7 40.7 L13.6 40.6 L12.5 40.5 L11.4 40.4 L10.3 40.2 L9.2 40.1 L8.1 40.0 L7.0 39.8 L7.2 38.5 L7.4 37.1 L7.6 35.7 L7.7 34.4 L7.9 33.0 L8.1 31.6 L8.3 30.2 L8.5 28.9 L8.6 27.5 L8.8 26.1 L9.0 24.7 M28.1 23.0 L29.1 23.0 L30.2 23.1 L31.2 23.1 L32.3 23.2 L33.3 23.2 L34.4 23.3 L35.4 23.3 L36.5 23.3 L37.5 23.4 L38.6 23.4 L39.6 23.4 L40.7 23.4 L41.7 23.4 L42.8 23.4 L43.8 23.4 L44.9 23.4 L45.9 23.4 L47.0 23.4 L48.0 23.4 M48.0 23.4 L47.8 22.3 L47.5 21.3 L47.4 20.3 L47.2 19.3 L47.0 18.0 L46.8 16.6 L46.6 15.1 L46.4 13.6 L46.3 12.6 L46.2 11.6 M48.0 23.4 L48.2 24.6 L48.4 25.9 L48.4 27.2 L48.4 28.6 L48.4 30.0 L48.4 31.4 L48.5 32.7 M48.5 32.7 L48.3 33.7 L48.1 34.6 L48.3 35.6 L48.5 36.5 M27.4 34.2 L28.5 34.2 L29.6 34.3 L30.7 34.3 L31.8 34.4 L32.9 34.4 L34.0 34.5 L35.1 34.5 L36.2 34.6 L37.3 34.6 L38.4 34.6 L39.5 34.6 L40.6 34.6 L41.7 34.7 L42.8 34.7 L43.5 35.1 L44.2 35.6 L45.3 35.4 L46.4 35.2 L47.1 35.7 L47.8 36.2 L48.5 36.5 M48.5 36.5 L48.9 37.5 L49.3 38.4 L50.1 39.9 L50.2 41.1 L50.3 42.2 L50.5 43.0 L50.6 43.8 L51.3 44.8 L52.0 45.9 M52.0 45.9 L50.9 46.0 L49.7 46.0 L48.6 46.0 L47.4 46.0 L46.3 46.0 L45.1 46.0 L44.0 46.0 L42.8 46.0 L41.7 46.0 L40.5 46.0 L39.4 46.0 L38.2 46.0 L37.1 45.9 L35.9 45.9 L34.8 45.9 L33.6 45.8 L32.5 45.8 M32.5 45.8 L32.5 44.5 L32.6 43.3 L32.6 42.0 L31.7 42.0 L30.7 41.9 L29.8 41.9 L28.8 41.8 L27.9 41.8 L26.9 41.7 M32.5 45.8 L32.4 47.2 L32.4 48.6 L32.3 50.0 L32.2 51.5 L32.2 52.9 L32.1 54.3 L32.1 55.7 L32.0 57.1 M32.0 57.1 L33.2 57.1 L34.4 57.2 L35.5 57.2 L36.7 57.3 L37.9 57.3 L39.1 57.3 L40.2 57.3 L41.4 57.3 L42.6 57.3 L43.8 57.3 L44.9 57.3 L46.1 57.3 L47.3 57.3 L48.5 57.3 L49.7 57.3 L50.8 57.3 L52.0 57.2 L53.2 57.2 L54.4 57.2 M54.4 59.1 L54.4 58.1 L54.4 57.2 L54.3 55.9 L54.3 54.5 L54.3 53.2 L54.2 51.9 L54.2 50.6 L54.1 49.3 L53.2 47.8 L52.6 46.7 L52.0 45.9 M12.7 40.5 L12.5 41.9 L12.4 43.2 L12.2 44.6 L12.1 46.0 L11.9 47.3 L11.8 48.7 L11.6 50.1 L11.5 51.4 L11.3 52.8 L11.2 54.2 L11.0 55.5 L12.2 55.6 L13.4 55.8 L14.5 55.9 L15.7 56.0 L16.8 56.1 L18.0 56.2 L19.2 56.3 L20.3 56.4 L21.5 56.5 L22.7 56.6 L23.8 56.7 L25.0 56.7 L26.2 56.8 L27.3 56.9 L28.5 56.9 L29.7 57.0 L30.8 57.1 L32.0 57.1 M11.0 55.5 L10.9 56.9 L10.7 58.3 L10.6 59.8 L10.4 61.2 L10.2 62.6 L10.1 64.0 L9.9 65.4 L9.8 66.8 L9.6 68.2 L9.5 69.7 L9.3 71.1 L9.2 72.5 L9.0 73.9 L8.8 75.3 L8.7 76.7 M29.2 57.0 L29.1 57.9 L29.1 58.9 L29.0 60.3 L28.9 61.7 L28.8 63.1 L28.7 64.5 L28.6 65.9 L28.6 67.3 L28.5 68.7 L28.4 70.1 L28.3 71.5 L28.2 72.9 L28.1 74.3 L28.0 75.8 L26.8 75.7 L25.5 75.6 L24.2 75.5 L23.0 75.5 L21.7 75.4 L20.5 75.3 L19.2 75.2 L17.9 75.1 L16.7 75.0 L16.9 75.8 M29.1 58.9 L30.2 58.9 L31.3 59.0 L32.5 59.0 L33.6 59.0 L34.7 59.1 L35.9 59.1 L37.0 59.1 L38.1 59.2 L38.1 60.6 L38.1 62.1 L38.1 63.5 L38.0 65.0 L38.0 66.5 L38.6 66.8 L39.2 67.2 L40.5 67.9 L41.4 68.0 L42.3 68.1 L43.1 68.2 L43.9 68.3 L44.7 68.6 L45.4 69.0 L46.7 69.6 L47.6 69.4 L48.6 69.2 L49.5 69.2 L50.4 69.3 L51.2 69.2 L52.0 69.0 L52.8 69.0 L53.6 69.1 L54.4 69.4 L55.2 69.8 M55.2 69.8 L55.2 68.5 L55.2 67.1 L55.2 65.8 L55.2 64.5 L55.1 63.2 L54.9 61.8 L54.7 60.4 L54.4 59.1 M55.2 69.8 L55.9 69.9 L56.6 70.1 L56.7 71.5 L56.7 73.0 L56.8 74.5 L56.8 76.0 L57.7 77.0 L58.1 77.9 L58.5 78.9 L58.5 79.8 L58.5 80.8 L58.3 81.9 L58.1 83.0 L57.9 83.8 L57.8 84.6 M56.7 72.1 L57.8 72.0 L59.0 72.0 L60.1 71.9 L61.3 71.9 L62.4 71.8 L63.5 71.8 L64.7 71.7 L65.8 71.7 M59.7 19.9 L59.2 20.3 L59.3 21.3 L59.4 22.4 L58.8 23.4 L58.3 24.4 L58.3 25.5 L58.2 26.7 L58.4 27.6 L59.1 28.0 L59.7 28.3 L60.3 28.9 L61.0 29.6 L61.9 30.2 L62.7 30.8 L63.0 32.1 M63.0 32.1 L61.9 32.2 L60.9 32.3 L59.9 32.3 L58.8 32.4 L57.8 32.4 L56.8 32.5 L55.7 32.5 L54.7 32.6 L53.6 32.6 L52.6 32.6 L51.6 32.7 L50.5 32.7 L49.5 32.7 L48.5 32.7 M63.0 32.1 L63.2 33.1 L63.4 34.0 L64.1 34.9 L64.7 35.8 M64.7 35.8 L65.7 35.7 L66.7 35.7 L67.7 35.6 L68.7 35.5 L69.7 35.4 L70.7 35.3 L71.7 35.2 L72.6 35.1 M64.3 20.3 L65.1 21.0 L66.0 21.3 L66.9 21.5 L67.9 21.8 L68.8 21.9 L69.7 22.0 L70.6 22.1 L71.6 23.3 L71.9 24.3 L72.2 25.2 M64.7 35.8 L65.4 36.5 L66.1 37.2 L66.4 38.3 L65.5 39.6 L64.8 40.2 L64.1 40.8 L64.0 41.6 L63.9 42.3 L63.2 43.9 M63.2 43.9 L62.3 43.2 L61.2 43.3 L60.1 43.3 L59.1 43.4 L58.0 43.5 L57.0 43.5 L55.9 43.6 L54.8 43.6 L53.8 43.7 L52.7 43.7 L51.7 43.7 L50.6 43.8 M63.2 43.9 L63.1 45.4 L64.0 46.9 L64.7 47.6 L65.5 48.3 L66.3 48.8 L67.1 49.3 L67.2 50.4 L66.8 52.0 L67.8 52.6 L68.9 53.3 L69.2 54.2 L69.6 55.1 L70.8 56.2 M70.8 56.2 L70.2 57.7 L69.9 58.1 L69.7 59.1 L69.4 60.1 M54.4 59.1 L55.5 59.0 L56.7 59.0 L57.8 58.9 L58.9 58.9 L60.0 58.8 L61.2 58.7 L62.3 58.7 L63.4 58.6 L64.6 58.5 L65.7 58.5 L66.8 58.4 L67.9 58.3 L67.7 59.3 L67.4 60.2 L68.4 60.1 L69.4 60.1 M69.4 60.1 L69.1 61.0 L68.8 62.0 L68.7 63.0 L68.5 63.9 L67.8 65.1 L67.2 66.3 L66.6 67.3 L66.0 68.2 L66.0 69.4 L65.9 70.5 L65.8 71.7 L65.8 72.8 L65.8 73.9 L65.6 75.3 L65.3 76.6 L65.1 77.9 L64.9 79.3 L66.1 79.2 L67.3 79.1 L68.5 79.0 L69.7 78.9 L70.9 78.8 L71.0 80.3 L71.3 81.1 L71.6 81.9 M68.5 63.9 L69.7 63.8 L70.9 63.7 L72.1 63.6 L73.3 63.5 L74.5 63.4 L75.6 63.3 L76.8 63.1 L78.0 63.0 L79.2 62.9 L80.4 62.7 L81.6 62.6 L82.7 62.4 L83.9 62.3 L85.1 62.1 L86.3 62.0 M86.3 62.0 L87.0 60.7 L87.7 60.2 L88.4 59.6 L89.2 58.7 L90.0 57.8 L90.9 57.4 L91.7 57.0 L92.5 55.9 L93.2 54.8 M110.5 51.7 L109.3 51.9 L108.2 52.2 L107.0 52.4 L105.9 52.6 L104.8 52.8 L103.6 53.1 L102.5 53.3 L101.3 53.5 L100.2 53.7 L99.0 53.9 L97.9 54.1 L96.7 54.3 L95.5 54.5 L94.4 54.7 L93.2 54.8 L92.2 55.0 L91.2 55.2 L90.3 55.3 L89.3 55.5 L88.3 55.6 L87.3 55.8 M87.3 55.8 L86.1 55.9 L84.9 56.0 L83.7 56.2 L82.5 56.3 L81.3 56.4 L80.1 56.5 L78.9 56.6 L77.8 56.8 L76.6 56.9 L75.4 57.0 L74.2 57.1 L74.3 57.7 L73.2 57.8 L72.1 57.9 L71.0 58.0 L69.9 58.1 M70.8 56.2 L71.7 55.9 L72.7 55.6 L73.2 54.8 L73.7 54.0 L73.8 52.9 L74.4 52.6 L75.1 52.3 L75.9 52.3 L76.8 52.2 L77.4 52.1 L78.0 52.0 L78.8 51.4 L79.7 50.7 L80.5 50.2 L80.8 49.4 L81.2 48.6 L82.0 48.3 L82.9 48.0 L82.7 46.9 L83.5 47.1 L84.3 47.2 L85.2 47.7 L86.2 48.1 L87.2 47.9 L88.2 47.6 L88.8 48.1 L89.5 48.6 L90.1 49.4 L90.7 50.3 L91.8 51.5 L90.8 52.3 L89.9 53.1 L89.0 54.0 L88.2 54.9 L87.3 55.8 M73.7 37.8 L73.9 39.1 L74.0 40.4 L74.2 41.7 L74.3 43.0 L74.4 44.3 L74.6 45.6 L74.7 46.9 L74.7 47.7 L74.7 48.6 L74.3 49.8 L74.0 50.9 L73.9 51.9 L73.8 52.9 M75.7 37.6 L76.7 37.5 L77.6 37.4 L78.6 37.3 L79.5 37.3 L80.5 37.2 L81.4 37.1 L82.4 36.9 L83.3 36.8 L84.3 36.6 L85.2 36.5 M81.4 37.1 L81.6 38.5 L81.8 39.9 L82.0 41.3 L82.1 42.7 L82.3 44.1 L82.5 45.5 L82.7 46.9 M93.2 34.2 L93.5 35.6 L93.7 37.0 L94.0 38.5 L94.2 39.9 L94.5 41.3 L94.7 42.7 L95.7 42.5 L96.7 42.3 L97.7 42.1 M94.1 39.2 L94.1 40.5 L93.9 41.7 L93.8 42.9 L93.2 43.7 L92.7 44.4 L92.2 44.8 L91.6 45.2 L91.7 46.3 L90.7 46.5 L90.6 47.6 L89.5 48.6 M97.7 42.1 L97.9 43.1 L98.0 44.0 L98.6 43.5 L99.2 42.9 L100.0 42.4 L100.8 42.0 L101.6 41.8 L102.3 41.7 L103.0 42.6 M103.0 42.6 L102.1 43.6 L101.4 44.2 L100.8 44.9 L100.1 45.6 L99.1 46.9 L98.6 47.6 L98.2 48.2 L97.6 49.3 L97.0 50.4 L96.2 50.9 L95.4 51.4 L94.9 51.8 L94.3 52.2 L93.6 52.4 L92.9 52.6 L91.8 51.5 M103.0 42.6 L103.8 43.3 L104.4 43.5 L105.1 43.6 L105.5 44.1 L105.8 45.6 L106.4 45.8 L107.1 46.1 L108.2 46.8 M90.0 61.5 L91.1 60.9 L92.3 60.3 L93.2 60.2 L94.2 60.1 L95.1 60.0 L96.1 59.9 L96.6 60.0 L97.1 61.1 L98.2 60.9 L99.3 60.7 L100.4 60.5 L101.8 61.4 L103.2 62.3 L104.6 63.3 M90.0 61.5 L90.2 62.4 L90.5 63.3 L91.3 64.1 L92.1 64.9 L93.5 66.2 L94.7 67.6 L95.5 68.6 L96.3 69.6 L97.1 70.4 L97.9 71.2 L98.5 71.3 M82.3 62.5 L82.7 63.8 L83.1 65.1 L83.5 66.4 L83.9 67.7 L84.2 69.1 L84.6 70.4 L85.0 71.2 L85.4 72.0 L85.4 73.1 L85.4 74.3 L85.6 75.2 L85.9 76.2 L86.1 77.2 L86.7 78.3 L87.9 78.2 L89.2 78.1 L90.4 78.0 L91.6 77.9 L92.9 77.7 L94.1 77.6 L95.3 77.5 L95.9 77.3 L95.9 78.2 L96.8 77.5 L97.6 76.6 M86.1 77.2 L84.9 77.4 L83.7 77.5 L82.5 77.7 L81.3 77.8 L80.1 77.9 L79.0 78.1 L77.8 78.2 L78.4 79.6 L78.4 80.8 M74.4 63.4 L74.6 64.6 L74.8 65.9 L75.0 67.1 L75.0 68.4 L74.9 69.8 L74.8 71.1 L74.8 72.4 L74.7 73.8 L74.6 75.1 L74.8 76.5 L75.0 77.9 L75.2 79.3 L75.4 80.7 M97.7 42.1 L98.7 41.9 L99.8 41.7 L100.8 41.5 L101.9 41.3 L102.9 41.1 L104.0 40.9 L105.0 40.6 L106.1 40.4 L107.1 40.2 L108.2 40.0 L108.9 39.4 M108.2 40.0 L108.4 41.1 L108.7 42.3 L109.0 43.5 L109.2 44.6 L110.3 44.4 L111.4 44.1 M108.9 39.4 L109.4 38.9 L109.9 38.5 L110.7 37.5 L109.9 36.9 L109.1 36.3 L109.0 34.8 L109.8 33.2 L108.5 32.0 L107.5 31.3 L106.5 31.5 L105.5 31.7 L104.5 31.9 L103.4 32.2 L102.4 32.4 L101.4 32.6 L100.4 32.8 L99.4 33.0 L98.4 33.2 L97.4 33.4 L96.3 33.6 L95.3 33.8 L95.1 32.8 M109.8 33.2 L111.0 33.6 L112.1 34.1 L112.5 34.4 M113.1 33.8 L113.4 33.3 L113.1 32.2 L112.8 31.0 L112.5 29.9 L112.5 28.5 L112.5 27.1 L112.2 26.1 L111.9 25.0 L111.6 24.0 L111.0 22.6 L110.7 21.3 L110.4 20.1 L110.2 18.8 M112.5 29.9 L113.4 29.6 L114.4 29.4 L115.3 29.2 L116.2 29.0 L117.2 28.8 L117.4 30.1 L117.7 31.4 M117.2 28.8 L118.3 28.5 L118.7 29.6 L119.5 30.2 M112.5 27.1 L113.2 27.0 L114.0 26.8 L114.7 26.6 L115.7 26.4 L116.8 26.2 L117.9 25.9 L118.4 25.4 L119.0 24.9 M114.7 26.6 L114.5 25.6 L114.3 24.5 L114.4 23.3 L114.5 22.1 L114.7 20.5 L115.0 19.6 L115.3 18.7 L115.0 17.6 M119.1 24.0 L118.4 23.2 L117.7 22.4 L117.4 21.2 L117.0 19.9 L116.6 18.7 L116.2 17.4 L115.8 16.2"/><linearGradient id="gterr" x1="0" x2="1" y1="0" y2="0"><stop offset="0.0" stop-color="#ffffff"/><stop offset="0.025" stop-color="#f2efee"/><stop offset="0.05" stop-color="#e6dfde"/><stop offset="0.075" stop-color="#dacfce"/><stop offset="0.1" stop-color="#cdbfbd"/><stop offset="0.125" stop-color="#c0b0ac"/><stop offset="0.15" stop-color="#b4a09c"/><stop offset="0.175" stop-color="#a8908c"/><stop offset="0.2" stop-color="#9b807b"/><stop offset="0.225" stop-color="#8e706a"/><stop offset="0.25" stop-color="#82605a"/><stop offset="0.275" stop-color="#8d6f60"/><stop offset="0.3" stop-color="#987e66"/><stop offset="0.325" stop-color="#a48e6c"/><stop offset="0.35" stop-color="#af9d72"/><stop offset="0.375" stop-color="#baac78"/><stop offset="0.4" stop-color="#c5bb7e"/><stop offset="0.425" stop-color="#d0ca84"/><stop offset="0.45" stop-color="#dcda8a"/><stop offset="0.475" stop-color="#e7e990"/><stop offset="0.5" stop-color="#f2f896"/><stop offset="0.525" stop-color="#e1f792"/><stop offset="0.55" stop-color="#d1f68e"/><stop offset="0.575" stop-color="#c0f58a"/><stop offset="0.6" stop-color="#aff585"/><stop offset="0.625" stop-color="#9ef481"/><stop offset="0.65" stop-color="#8ef37d"/><stop offset="0.675" stop-color="#7df279"/><stop offset="0.7" stop-color="#6cf175"/><stop offset="0.725" stop-color="#5bf071"/><stop offset="0.75" stop-color="#57e389"/><stop offset="0.775" stop-color="#55d2a8"/><stop offset="0.8" stop-color="#53c2c7"/><stop offset="0.825" stop-color="#51b1e6"/><stop offset="0.85" stop-color="#4fa1fc"/><stop offset="0.875" stop-color="#4c8fee"/><stop offset="0.9" stop-color="#497ee0"/><stop offset="0.925" stop-color="#466cd2"/><stop offset="0.95" stop-color="#425bc4"/><stop offset="0.975" stop-color="#3f49b6"/><stop offset="1.0" stop-color="#3c38a8"/></linearGradient><linearGradient id="gseis" x1="0" x2="1" y1="0" y2="0"><stop offset="0.0" stop-color="#00004c"/><stop offset="0.05" stop-color="#000070"/><stop offset="0.1" stop-color="#000094"/><stop offset="0.15" stop-color="#0000b7"/><stop offset="0.2" stop-color="#0000db"/><stop offset="0.25" stop-color="#0000ff"/><stop offset="0.3" stop-color="#3333ff"/><stop offset="0.35" stop-color="#6666ff"/><stop offset="0.4" stop-color="#9999ff"/><stop offset="0.45" stop-color="#ccccff"/><stop offset="0.5" stop-color="#ffffff"/><stop offset="0.55" stop-color="#ffcccc"/><stop offset="0.6" stop-color="#ff9999"/><stop offset="0.65" stop-color="#ff6666"/><stop offset="0.7" stop-color="#ff3333"/><stop offset="0.75" stop-color="#ff0000"/><stop offset="0.8" stop-color="#e50000"/><stop offset="0.85" stop-color="#cc0000"/><stop offset="0.9" stop-color="#b20000"/><stop offset="0.95" stop-color="#990000"/><stop offset="1.0" stop-color="#7f0000"/></linearGradient><filter id="c0" x="-20" y="-20" width="170" height="144" filterUnits="userSpaceOnUse" color-interpolation-filters="sRGB"><feTurbulence type="fractalNoise" baseFrequency="0.35" numOctaves="2" seed="3" result="nz"/><feColorMatrix in="nz" type="matrix" values="1 0 0 0 0 1 0 0 0 0 1 0 0 0 0 0 0 0 0 1" result="ng"/><feComposite in="SourceGraphic" in2="ng" operator="arithmetic" k1="0.6000" k2="0.7000" k3="0.0800" k4="-0.0400" result="v"/><feComponentTransfer in="v"><feFuncR type="table" tableValues="1.000 0.939 0.877 0.816 0.755 0.694 0.632 0.571 0.510 0.565 0.620 0.675 0.729 0.784 0.839 0.894 0.949 0.867 0.785 0.703 0.621 0.539 0.457 0.375 0.340 0.331 0.323 0.314 0.299 0.283 0.267 0.251 0.235 0.235 0.235 0.235 0.235 0.235 0.235 0.235 0.235"/><feFuncG type="table" tableValues="1.000 0.922 0.844 0.766 0.688 0.610 0.532 0.454 0.376 0.451 0.525 0.600 0.675 0.749 0.824 0.898 0.973 0.968 0.964 0.960 0.955 0.951 0.947 0.943 0.889 0.808 0.727 0.646 0.561 0.476 0.390 0.305 0.220 0.220 0.220 0.220 0.220 0.220 0.220 0.220 0.220"/><feFuncB type="table" tableValues="1.000 0.919 0.838 0.757 0.676 0.596 0.515 0.434 0.353 0.382 0.412 0.441 0.471 0.500 0.529 0.559 0.588 0.568 0.548 0.527 0.507 0.487 0.467 0.447 0.537 0.689 0.842 0.994 0.934 0.865 0.796 0.728 0.659 0.659 0.659 0.659 0.659 0.659 0.659 0.659 0.659"/></feComponentTransfer></filter><filter id="c1" x="-20" y="-20" width="170" height="144" filterUnits="userSpaceOnUse" color-interpolation-filters="sRGB"><feTurbulence type="fractalNoise" baseFrequency="0.33" numOctaves="2" seed="11" result="nz"/><feColorMatrix in="nz" type="matrix" values="1 0 0 0 0 1 0 0 0 0 1 0 0 0 0 0 0 0 0 1" result="ng"/><feTurbulence type="fractalNoise" baseFrequency="0.33" numOctaves="2" seed="61" result="nz2"/><feColorMatrix in="nz2" type="matrix" values="1 0 0 0 0 1 0 0 0 0 1 0 0 0 0 0 0 0 0 1" result="ng2"/><feComposite in="SourceGraphic" in2="ng" operator="arithmetic" k1="2.0000" k2="0.0000" k3="-1.0000" k4="0.5000" result="p"/><feComposite in="p" in2="ng2" operator="arithmetic" k1="0" k2="1" k3="0.2200" k4="-0.1100" result="v"/><feComponentTransfer in="v"><feFuncR type="table" tableValues="0.000 0.000 0.000 0.000 0.000 0.000 0.000 0.000 0.000 0.000 0.000 0.000 0.000 0.125 0.250 0.375 0.500 0.625 0.750 0.875 1.000 1.000 1.000 1.000 1.000 1.000 1.000 1.000 1.000 0.937 0.875 0.812 0.749 0.686 0.624 0.561 0.498 0.498 0.498 0.498 0.498"/><feFuncG type="table" tableValues="0.000 0.000 0.000 0.000 0.000 0.000 0.000 0.000 0.000 0.000 0.000 0.000 0.000 0.125 0.250 0.375 0.500 0.625 0.750 0.875 1.000 0.875 0.750 0.625 0.500 0.375 0.250 0.125 0.000 0.000 0.000 0.000 0.000 0.000 0.000 0.000 0.000 0.000 0.000 0.000 0.000"/><feFuncB type="table" tableValues="0.298 0.298 0.298 0.298 0.298 0.386 0.474 0.561 0.649 0.737 0.825 0.912 1.000 1.000 1.000 1.000 1.000 1.000 1.000 1.000 1.000 0.875 0.750 0.625 0.500 0.375 0.250 0.125 0.000 0.000 0.000 0.000 0.000 0.000 0.000 0.000 0.000 0.000 0.000 0.000 0.000"/></feComponentTransfer></filter><filter id="c2" x="-20" y="-20" width="170" height="144" filterUnits="userSpaceOnUse" color-interpolation-filters="sRGB"><feTurbulence type="fractalNoise" baseFrequency="0.33" numOctaves="2" seed="12" result="nz"/><feColorMatrix in="nz" type="matrix" values="1 0 0 0 0 1 0 0 0 0 1 0 0 0 0 0 0 0 0 1" result="ng"/><feTurbulence type="fractalNoise" baseFrequency="0.33" numOctaves="2" seed="62" result="nz2"/><feColorMatrix in="nz2" type="matrix" values="1 0 0 0 0 1 0 0 0 0 1 0 0 0 0 0 0 0 0 1" result="ng2"/><feComposite in="SourceGraphic" in2="ng" operator="arithmetic" k1="2.0000" k2="0.0000" k3="-1.0000" k4="0.5000" result="p"/><feComposite in="p" in2="ng2" operator="arithmetic" k1="0" k2="1" k3="0.2200" k4="-0.1100" result="v"/><feComponentTransfer in="v"><feFuncR type="table" tableValues="0.000 0.000 0.000 0.000 0.000 0.000 0.000 0.000 0.000 0.000 0.000 0.000 0.000 0.125 0.250 0.375 0.500 0.625 0.750 0.875 1.000 1.000 1.000 1.000 1.000 1.000 1.000 1.000 1.000 0.937 0.875 0.812 0.749 0.686 0.624 0.561 0.498 0.498 0.498 0.498 0.498"/><feFuncG type="table" tableValues="0.000 0.000 0.000 0.000 0.000 0.000 0.000 0.000 0.000 0.000 0.000 0.000 0.000 0.125 0.250 0.375 0.500 0.625 0.750 0.875 1.000 0.875 0.750 0.625 0.500 0.375 0.250 0.125 0.000 0.000 0.000 0.000 0.000 0.000 0.000 0.000 0.000 0.000 0.000 0.000 0.000"/><feFuncB type="table" tableValues="0.298 0.298 0.298 0.298 0.298 0.386 0.474 0.561 0.649 0.737 0.825 0.912 1.000 1.000 1.000 1.000 1.000 1.000 1.000 1.000 1.000 0.875 0.750 0.625 0.500 0.375 0.250 0.125 0.000 0.000 0.000 0.000 0.000 0.000 0.000 0.000 0.000 0.000 0.000 0.000 0.000"/></feComponentTransfer></filter><filter id="c3" x="-20" y="-20" width="170" height="144" filterUnits="userSpaceOnUse" color-interpolation-filters="sRGB"><feTurbulence type="fractalNoise" baseFrequency="0.33" numOctaves="2" seed="13" result="nz"/><feColorMatrix in="nz" type="matrix" values="1 0 0 0 0 1 0 0 0 0 1 0 0 0 0 0 0 0 0 1" result="ng"/><feTurbulence type="fractalNoise" baseFrequency="0.33" numOctaves="2" seed="63" result="nz2"/><feColorMatrix in="nz2" type="matrix" values="1 0 0 0 0 1 0 0 0 0 1 0 0 0 0 0 0 0 0 1" result="ng2"/><feComposite in="SourceGraphic" in2="ng" operator="arithmetic" k1="2.0000" k2="0.0000" k3="-1.0000" k4="0.5000" result="p"/><feComposite in="p" in2="ng2" operator="arithmetic" k1="0" k2="1" k3="0.2200" k4="-0.1100" result="v"/><feComponentTransfer in="v"><feFuncR type="table" tableValues="0.000 0.000 0.000 0.000 0.000 0.000 0.000 0.000 0.000 0.000 0.000 0.000 0.000 0.125 0.250 0.375 0.500 0.625 0.750 0.875 1.000 1.000 1.000 1.000 1.000 1.000 1.000 1.000 1.000 0.937 0.875 0.812 0.749 0.686 0.624 0.561 0.498 0.498 0.498 0.498 0.498"/><feFuncG type="table" tableValues="0.000 0.000 0.000 0.000 0.000 0.000 0.000 0.000 0.000 0.000 0.000 0.000 0.000 0.125 0.250 0.375 0.500 0.625 0.750 0.875 1.000 0.875 0.750 0.625 0.500 0.375 0.250 0.125 0.000 0.000 0.000 0.000 0.000 0.000 0.000 0.000 0.000 0.000 0.000 0.000 0.000"/><feFuncB type="table" tableValues="0.298 0.298 0.298 0.298 0.298 0.386 0.474 0.561 0.649 0.737 0.825 0.912 1.000 1.000 1.000 1.000 1.000 1.000 1.000 1.000 1.000 0.875 0.750 0.625 0.500 0.375 0.250 0.125 0.000 0.000 0.000 0.000 0.000 0.000 0.000 0.000 0.000 0.000 0.000 0.000 0.000"/></feComponentTransfer></filter><filter id="c4" x="-20" y="-20" width="170" height="144" filterUnits="userSpaceOnUse" color-interpolation-filters="sRGB"><feTurbulence type="fractalNoise" baseFrequency="0.33" numOctaves="2" seed="14" result="nz"/><feColorMatrix in="nz" type="matrix" values="1 0 0 0 0 1 0 0 0 0 1 0 0 0 0 0 0 0 0 1" result="ng"/><feTurbulence type="fractalNoise" baseFrequency="0.33" numOctaves="2" seed="64" result="nz2"/><feColorMatrix in="nz2" type="matrix" values="1 0 0 0 0 1 0 0 0 0 1 0 0 0 0 0 0 0 0 1" result="ng2"/><feComposite in="SourceGraphic" in2="ng" operator="arithmetic" k1="2.0000" k2="0.0000" k3="-1.0000" k4="0.5000" result="p"/><feComposite in="p" in2="ng2" operator="arithmetic" k1="0" k2="1" k3="0.2200" k4="-0.1100" result="v"/><feComponentTransfer in="v"><feFuncR type="table" tableValues="0.000 0.000 0.000 0.000 0.000 0.000 0.000 0.000 0.000 0.000 0.000 0.000 0.000 0.125 0.250 0.375 0.500 0.625 0.750 0.875 1.000 1.000 1.000 1.000 1.000 1.000 1.000 1.000 1.000 0.937 0.875 0.812 0.749 0.686 0.624 0.561 0.498 0.498 0.498 0.498 0.498"/><feFuncG type="table" tableValues="0.000 0.000 0.000 0.000 0.000 0.000 0.000 0.000 0.000 0.000 0.000 0.000 0.000 0.125 0.250 0.375 0.500 0.625 0.750 0.875 1.000 0.875 0.750 0.625 0.500 0.375 0.250 0.125 0.000 0.000 0.000 0.000 0.000 0.000 0.000 0.000 0.000 0.000 0.000 0.000 0.000"/><feFuncB type="table" tableValues="0.298 0.298 0.298 0.298 0.298 0.386 0.474 0.561 0.649 0.737 0.825 0.912 1.000 1.000 1.000 1.000 1.000 1.000 1.000 1.000 1.000 0.875 0.750 0.625 0.500 0.375 0.250 0.125 0.000 0.000 0.000 0.000 0.000 0.000 0.000 0.000 0.000 0.000 0.000 0.000 0.000"/></feComponentTransfer></filter><filter id="c5" x="-20" y="-20" width="170" height="144" filterUnits="userSpaceOnUse" color-interpolation-filters="sRGB"><feTurbulence type="fractalNoise" baseFrequency="0.35" numOctaves="2" seed="5" result="nz"/><feColorMatrix in="nz" type="matrix" values="1 0 0 0 0 1 0 0 0 0 1 0 0 0 0 0 0 0 0 1" result="ng"/><feComposite in="SourceGraphic" in2="ng" operator="arithmetic" k1="0.1800" k2="0.9100" k3="0.0300" k4="-0.0150" result="v"/><feComponentTransfer in="v"><feFuncR type="table" tableValues="1.000 0.939 0.877 0.816 0.755 0.694 0.632 0.571 0.510 0.565 0.620 0.675 0.729 0.784 0.839 0.894 0.949 0.867 0.785 0.703 0.621 0.539 0.457 0.375 0.340 0.331 0.323 0.314 0.299 0.283 0.267 0.251 0.235 0.235 0.235 0.235 0.235 0.235 0.235 0.235 0.235"/><feFuncG type="table" tableValues="1.000 0.922 0.844 0.766 0.688 0.610 0.532 0.454 0.376 0.451 0.525 0.600 0.675 0.749 0.824 0.898 0.973 0.968 0.964 0.960 0.955 0.951 0.947 0.943 0.889 0.808 0.727 0.646 0.561 0.476 0.390 0.305 0.220 0.220 0.220 0.220 0.220 0.220 0.220 0.220 0.220"/><feFuncB type="table" tableValues="1.000 0.919 0.838 0.757 0.676 0.596 0.515 0.434 0.353 0.382 0.412 0.441 0.471 0.500 0.529 0.559 0.588 0.568 0.548 0.527 0.507 0.487 0.467 0.447 0.537 0.689 0.842 0.994 0.934 0.865 0.796 0.728 0.659 0.659 0.659 0.659 0.659 0.659 0.659 0.659 0.659"/></feComponentTransfer></filter><filter id="c6" x="-20" y="-20" width="170" height="144" filterUnits="userSpaceOnUse" color-interpolation-filters="sRGB"><feTurbulence type="fractalNoise" baseFrequency="0.35" numOctaves="2" seed="21" result="nz"/><feColorMatrix in="nz" type="matrix" values="1 0 0 0 0 1 0 0 0 0 1 0 0 0 0 0 0 0 0 1" result="ng"/><feTurbulence type="fractalNoise" baseFrequency="0.35" numOctaves="2" seed="71" result="nz2"/><feColorMatrix in="nz2" type="matrix" values="1 0 0 0 0 1 0 0 0 0 1 0 0 0 0 0 0 0 0 1" result="ng2"/><feComposite in="SourceGraphic" in2="ng" operator="arithmetic" k1="1.0000" k2="0.5000" k3="-0.5000" k4="0.2500" result="p"/><feComposite in="p" in2="ng2" operator="arithmetic" k1="0" k2="1" k3="0.2000" k4="-0.1000" result="v"/><feComponentTransfer in="v"><feFuncR type="table" tableValues="0.000 0.000 0.000 0.000 0.000 0.000 0.000 0.000 0.000 0.000 0.000 0.000 0.000 0.125 0.250 0.375 0.500 0.625 0.750 0.875 1.000 1.000 1.000 1.000 1.000 1.000 1.000 1.000 1.000 0.937 0.875 0.812 0.749 0.686 0.624 0.561 0.498 0.498 0.498 0.498 0.498"/><feFuncG type="table" tableValues="0.000 0.000 0.000 0.000 0.000 0.000 0.000 0.000 0.000 0.000 0.000 0.000 0.000 0.125 0.250 0.375 0.500 0.625 0.750 0.875 1.000 0.875 0.750 0.625 0.500 0.375 0.250 0.125 0.000 0.000 0.000 0.000 0.000 0.000 0.000 0.000 0.000 0.000 0.000 0.000 0.000"/><feFuncB type="table" tableValues="0.298 0.298 0.298 0.298 0.298 0.386 0.474 0.561 0.649 0.737 0.825 0.912 1.000 1.000 1.000 1.000 1.000 1.000 1.000 1.000 1.000 0.875 0.750 0.625 0.500 0.375 0.250 0.125 0.000 0.000 0.000 0.000 0.000 0.000 0.000 0.000 0.000 0.000 0.000 0.000 0.000"/></feComponentTransfer></filter><filter id="c7" x="-20" y="-20" width="170" height="144" filterUnits="userSpaceOnUse" color-interpolation-filters="sRGB"><feTurbulence type="fractalNoise" baseFrequency="0.35" numOctaves="2" seed="22" result="nz"/><feColorMatrix in="nz" type="matrix" values="1 0 0 0 0 1 0 0 0 0 1 0 0 0 0 0 0 0 0 1" result="ng"/><feTurbulence type="fractalNoise" baseFrequency="0.35" numOctaves="2" seed="72" result="nz2"/><feColorMatrix in="nz2" type="matrix" values="1 0 0 0 0 1 0 0 0 0 1 0 0 0 0 0 0 0 0 1" result="ng2"/><feComposite in="SourceGraphic" in2="ng" operator="arithmetic" k1="1.0000" k2="0.5000" k3="-0.5000" k4="0.2500" result="p"/><feComposite in="p" in2="ng2" operator="arithmetic" k1="0" k2="1" k3="0.2000" k4="-0.1000" result="v"/><feComponentTransfer in="v"><feFuncR type="table" tableValues="0.000 0.000 0.000 0.000 0.000 0.000 0.000 0.000 0.000 0.000 0.000 0.000 0.000 0.125 0.250 0.375 0.500 0.625 0.750 0.875 1.000 1.000 1.000 1.000 1.000 1.000 1.000 1.000 1.000 0.937 0.875 0.812 0.749 0.686 0.624 0.561 0.498 0.498 0.498 0.498 0.498"/><feFuncG type="table" tableValues="0.000 0.000 0.000 0.000 0.000 0.000 0.000 0.000 0.000 0.000 0.000 0.000 0.000 0.125 0.250 0.375 0.500 0.625 0.750 0.875 1.000 0.875 0.750 0.625 0.500 0.375 0.250 0.125 0.000 0.000 0.000 0.000 0.000 0.000 0.000 0.000 0.000 0.000 0.000 0.000 0.000"/><feFuncB type="table" tableValues="0.298 0.298 0.298 0.298 0.298 0.386 0.474 0.561 0.649 0.737 0.825 0.912 1.000 1.000 1.000 1.000 1.000 1.000 1.000 1.000 1.000 0.875 0.750 0.625 0.500 0.375 0.250 0.125 0.000 0.000 0.000 0.000 0.000 0.000 0.000 0.000 0.000 0.000 0.000 0.000 0.000"/></feComponentTransfer></filter><filter id="c8" x="-20" y="-20" width="170" height="144" filterUnits="userSpaceOnUse" color-interpolation-filters="sRGB"><feTurbulence type="fractalNoise" baseFrequency="0.35" numOctaves="2" seed="23" result="nz"/><feColorMatrix in="nz" type="matrix" values="1 0 0 0 0 1 0 0 0 0 1 0 0 0 0 0 0 0 0 1" result="ng"/><feTurbulence type="fractalNoise" baseFrequency="0.35" numOctaves="2" seed="73" result="nz2"/><feColorMatrix in="nz2" type="matrix" values="1 0 0 0 0 1 0 0 0 0 1 0 0 0 0 0 0 0 0 1" result="ng2"/><feComposite in="SourceGraphic" in2="ng" operator="arithmetic" k1="1.0000" k2="0.5000" k3="-0.5000" k4="0.2500" result="p"/><feComposite in="p" in2="ng2" operator="arithmetic" k1="0" k2="1" k3="0.2000" k4="-0.1000" result="v"/><feComponentTransfer in="v"><feFuncR type="table" tableValues="0.000 0.000 0.000 0.000 0.000 0.000 0.000 0.000 0.000 0.000 0.000 0.000 0.000 0.125 0.250 0.375 0.500 0.625 0.750 0.875 1.000 1.000 1.000 1.000 1.000 1.000 1.000 1.000 1.000 0.937 0.875 0.812 0.749 0.686 0.624 0.561 0.498 0.498 0.498 0.498 0.498"/><feFuncG type="table" tableValues="0.000 0.000 0.000 0.000 0.000 0.000 0.000 0.000 0.000 0.000 0.000 0.000 0.000 0.125 0.250 0.375 0.500 0.625 0.750 0.875 1.000 0.875 0.750 0.625 0.500 0.375 0.250 0.125 0.000 0.000 0.000 0.000 0.000 0.000 0.000 0.000 0.000 0.000 0.000 0.000 0.000"/><feFuncB type="table" tableValues="0.298 0.298 0.298 0.298 0.298 0.386 0.474 0.561 0.649 0.737 0.825 0.912 1.000 1.000 1.000 1.000 1.000 1.000 1.000 1.000 1.000 0.875 0.750 0.625 0.500 0.375 0.250 0.125 0.000 0.000 0.000 0.000 0.000 0.000 0.000 0.000 0.000 0.000 0.000 0.000 0.000"/></feComponentTransfer></filter><filter id="c9" x="-20" y="-20" width="170" height="144" filterUnits="userSpaceOnUse" color-interpolation-filters="sRGB"><feTurbulence type="fractalNoise" baseFrequency="0.35" numOctaves="2" seed="24" result="nz"/><feColorMatrix in="nz" type="matrix" values="1 0 0 0 0 1 0 0 0 0 1 0 0 0 0 0 0 0 0 1" result="ng"/><feTurbulence type="fractalNoise" baseFrequency="0.35" numOctaves="2" seed="74" result="nz2"/><feColorMatrix in="nz2" type="matrix" values="1 0 0 0 0 1 0 0 0 0 1 0 0 0 0 0 0 0 0 1" result="ng2"/><feComposite in="SourceGraphic" in2="ng" operator="arithmetic" k1="1.0000" k2="0.5000" k3="-0.5000" k4="0.2500" result="p"/><feComposite in="p" in2="ng2" operator="arithmetic" k1="0" k2="1" k3="0.2000" k4="-0.1000" result="v"/><feComponentTransfer in="v"><feFuncR type="table" tableValues="0.000 0.000 0.000 0.000 0.000 0.000 0.000 0.000 0.000 0.000 0.000 0.000 0.000 0.125 0.250 0.375 0.500 0.625 0.750 0.875 1.000 1.000 1.000 1.000 1.000 1.000 1.000 1.000 1.000 0.937 0.875 0.812 0.749 0.686 0.624 0.561 0.498 0.498 0.498 0.498 0.498"/><feFuncG type="table" tableValues="0.000 0.000 0.000 0.000 0.000 0.000 0.000 0.000 0.000 0.000 0.000 0.000 0.000 0.125 0.250 0.375 0.500 0.625 0.750 0.875 1.000 0.875 0.750 0.625 0.500 0.375 0.250 0.125 0.000 0.000 0.000 0.000 0.000 0.000 0.000 0.000 0.000 0.000 0.000 0.000 0.000"/><feFuncB type="table" tableValues="0.298 0.298 0.298 0.298 0.298 0.386 0.474 0.561 0.649 0.737 0.825 0.912 1.000 1.000 1.000 1.000 1.000 1.000 1.000 1.000 1.000 0.875 0.750 0.625 0.500 0.375 0.250 0.125 0.000 0.000 0.000 0.000 0.000 0.000 0.000 0.000 0.000 0.000 0.000 0.000 0.000"/></feComponentTransfer></filter><filter id="b1" x="-20" y="-20" width="170" height="144" filterUnits="userSpaceOnUse" color-interpolation-filters="sRGB"><feGaussianBlur stdDeviation="1"/></filter><filter id="b1.5" x="-20" y="-20" width="170" height="144" filterUnits="userSpaceOnUse" color-interpolation-filters="sRGB"><feGaussianBlur stdDeviation="1.5"/></filter><filter id="b2" x="-20" y="-20" width="170" height="144" filterUnits="userSpaceOnUse" color-interpolation-filters="sRGB"><feGaussianBlur stdDeviation="2"/></filter><filter id="b2.5" x="-20" y="-20" width="170" height="144" filterUnits="userSpaceOnUse" color-interpolation-filters="sRGB"><feGaussianBlur stdDeviation="2.5"/></filter><filter id="b3" x="-20" y="-20" width="170" height="144" filterUnits="userSpaceOnUse" color-interpolation-filters="sRGB"><feGaussianBlur stdDeviation="3"/></filter><filter id="b4" x="-20" y="-20" width="170" height="144" filterUnits="userSpaceOnUse" color-interpolation-filters="sRGB"><feGaussianBlur stdDeviation="4"/></filter><filter id="b5" x="-20" y="-20" width="170" height="144" filterUnits="userSpaceOnUse" color-interpolation-filters="sRGB"><feGaussianBlur stdDeviation="5"/></filter></defs>
<g transform="translate(18 19)"><g clip-path="url(#pclip)">
<rect width="130" height="104" fill="#f0f0f0"/>
<use href="#water"/>
<g clip-path="url(#usclip)"><g filter="url(#c0)"><g filter="url(#b4)"><g class="fg" transform="scale(10)"><rect x="-1" y="-1" width="1" height="1" fill="#666666"/><rect x="0" y="-1" width="1" height="1" fill="#666666"/><rect x="1" y="-1" width="1" height="1" fill="#5c5c5c"/><rect x="2" y="-1" width="1" height="1" fill="#4c4c4c"/><rect x="3" y="-1" width="1" height="1" fill="#4f4f4f"/><rect x="4" y="-1" width="1" height="1" fill="#454545"/><rect x="5" y="-1" width="1" height="1" fill="#424242"/><rect x="6" y="-1" width="1" height="1" fill="#3d3d3d"/><rect x="7" y="-1" width="1" height="1" fill="#333333"/><rect x="8" y="-1" width="1" height="1" fill="#333333"/><rect x="9" y="-1" width="1" height="1" fill="#333333"/><rect x="10" y="-1" width="1" height="1" fill="#141414"/><rect x="11" y="-1" width="1" height="1" fill="#141414"/><rect x="12" y="-1" width="1" height="1" fill="#141414"/><rect x="13" y="-1" width="1" height="1" fill="#141414"/><rect x="-1" y="0" width="1" height="1" fill="#666666"/><rect x="0" y="0" width="1" height="1" fill="#666666"/><rect x="1" y="0" width="1" height="1" fill="#5c5c5c"/><rect x="2" y="0" width="1" height="1" fill="#4c4c4c"/><rect x="3" y="0" width="1" height="1" fill="#4f4f4f"/><rect x="4" y="0" width="1" height="1" fill="#454545"/><rect x="5" y="0" width="1" height="1" fill="#424242"/><rect x="6" y="0" width="1" height="1" fill="#3d3d3d"/><rect x="7" y="0" width="1" height="1" fill="#333333"/><rect x="8" y="0" width="1" height="1" fill="#333333"/><rect x="9" y="0" width="1" height="1" fill="#333333"/><rect x="10" y="0" width="1" height="1" fill="#141414"/><rect x="11" y="0" width="1" height="1" fill="#141414"/><rect x="12" y="0" width="1" height="1" fill="#141414"/><rect x="13" y="0" width="1" height="1" fill="#141414"/><rect x="-1" y="1" width="1" height="1" fill="#666666"/><rect x="0" y="1" width="1" height="1" fill="#666666"/><rect x="1" y="1" width="1" height="1" fill="#5c5c5c"/><rect x="2" y="1" width="1" height="1" fill="#4c4c4c"/><rect x="3" y="1" width="1" height="1" fill="#4f4f4f"/><rect x="4" y="1" width="1" height="1" fill="#454545"/><rect x="5" y="1" width="1" height="1" fill="#424242"/><rect x="6" y="1" width="1" height="1" fill="#3d3d3d"/><rect x="7" y="1" width="1" height="1" fill="#333333"/><rect x="8" y="1" width="1" height="1" fill="#333333"/><rect x="9" y="1" width="1" height="1" fill="#1a1a1a"/><rect x="10" y="1" width="1" height="1" fill="#171717"/><rect x="11" y="1" width="1" height="1" fill="#141414"/><rect x="12" y="1" width="1" height="1" fill="#141414"/><rect x="13" y="1" width="1" height="1" fill="#141414"/><rect x="-1" y="2" width="1" height="1" fill="#666666"/><rect x="0" y="2" width="1" height="1" fill="#666666"/><rect x="1" y="2" width="1" height="1" fill="#7a7a7a"/><rect x="2" y="2" width="1" height="1" fill="#999999"/><rect x="3" y="2" width="1" height="1" fill="#8f8f8f"/><rect x="4" y="2" width="1" height="1" fill="#6e6e6e"/><rect x="5" y="2" width="1" height="1" fill="#4f4f4f"/><rect x="6" y="2" width="1" height="1" fill="#474747"/><rect x="7" y="2" width="1" height="1" fill="#333333"/><rect x="8" y="2" width="1" height="1" fill="#1a1a1a"/><rect x="9" y="2" width="1" height="1" fill="#1a1a1a"/><rect x="10" y="2" width="1" height="1" fill="#171717"/><rect x="11" y="2" width="1" height="1" fill="#141414"/><rect x="12" y="2" width="1" height="1" fill="#141414"/><rect x="13" y="2" width="1" height="1" fill="#141414"/><rect x="-1" y="3" width="1" height="1" fill="#7a7a7a"/><rect x="0" y="3" width="1" height="1" fill="#7a7a7a"/><rect x="1" y="3" width="1" height="1" fill="#7a7a7a"/><rect x="2" y="3" width="1" height="1" fill="#b2b2b2"/><rect x="3" y="3" width="1" height="1" fill="#999999"/><rect x="4" y="3" width="1" height="1" fill="#8c8c8c"/><rect x="5" y="3" width="1" height="1" fill="#5c5c5c"/><rect x="6" y="3" width="1" height="1" fill="#424242"/><rect x="7" y="3" width="1" height="1" fill="#2e2e2e"/><rect x="8" y="3" width="1" height="1" fill="#262626"/><rect x="9" y="3" width="1" height="1" fill="#1f1f1f"/><rect x="10" y="3" width="1" height="1" fill="#1a1a1a"/><rect x="11" y="3" width="1" height="1" fill="#141414"/><rect x="12" y="3" width="1" height="1" fill="#141414"/><rect x="13" y="3" width="1" height="1" fill="#141414"/><rect x="-1" y="4" width="1" height="1" fill="#bfbfbf"/><rect x="0" y="4" width="1" height="1" fill="#bfbfbf"/><rect x="1" y="4" width="1" height="1" fill="#bfbfbf"/><rect x="2" y="4" width="1" height="1" fill="#bfbfbf"/><rect x="3" y="4" width="1" height="1" fill="#a1a1a1"/><rect x="4" y="4" width="1" height="1" fill="#999999"/><rect x="5" y="4" width="1" height="1" fill="#5c5c5c"/><rect x="6" y="4" width="1" height="1" fill="#3d3d3d"/><rect x="7" y="4" width="1" height="1" fill="#303030"/><rect x="8" y="4" width="1" height="1" fill="#2b2b2b"/><rect x="9" y="4" width="1" height="1" fill="#242424"/><rect x="10" y="4" width="1" height="1" fill="#1c1c1c"/><rect x="11" y="4" width="1" height="1" fill="#171717"/><rect x="12" y="4" width="1" height="1" fill="#171717"/><rect x="13" y="4" width="1" height="1" fill="#171717"/><rect x="-1" y="5" width="1" height="1" fill="#b2b2b2"/><rect x="0" y="5" width="1" height="1" fill="#b2b2b2"/><rect x="1" y="5" width="1" height="1" fill="#b2b2b2"/><rect x="2" y="5" width="1" height="1" fill="#b2b2b2"/><rect x="3" y="5" width="1" height="1" fill="#9e9e9e"/><rect x="4" y="5" width="1" height="1" fill="#949494"/><rect x="5" y="5" width="1" height="1" fill="#575757"/><rect x="6" y="5" width="1" height="1" fill="#383838"/><rect x="7" y="5" width="1" height="1" fill="#2e2e2e"/><rect x="8" y="5" width="1" height="1" fill="#292929"/><rect x="9" y="5" width="1" height="1" fill="#1f1f1f"/><rect x="10" y="5" width="1" height="1" fill="#1a1a1a"/><rect x="11" y="5" width="1" height="1" fill="#1a1a1a"/><rect x="12" y="5" width="1" height="1" fill="#171717"/><rect x="13" y="5" width="1" height="1" fill="#171717"/><rect x="-1" y="6" width="1" height="1" fill="#737373"/><rect x="0" y="6" width="1" height="1" fill="#737373"/><rect x="1" y="6" width="1" height="1" fill="#737373"/><rect x="2" y="6" width="1" height="1" fill="#999999"/><rect x="3" y="6" width="1" height="1" fill="#999999"/><rect x="4" y="6" width="1" height="1" fill="#8a8a8a"/><rect x="5" y="6" width="1" height="1" fill="#575757"/><rect x="6" y="6" width="1" height="1" fill="#363636"/><rect x="7" y="6" width="1" height="1" fill="#303030"/><rect x="8" y="6" width="1" height="1" fill="#242424"/><rect x="9" y="6" width="1" height="1" fill="#1c1c1c"/><rect x="10" y="6" width="1" height="1" fill="#1a1a1a"/><rect x="11" y="6" width="1" height="1" fill="#1a1a1a"/><rect x="12" y="6" width="1" height="1" fill="#1a1a1a"/><rect x="13" y="6" width="1" height="1" fill="#1a1a1a"/><rect x="-1" y="7" width="1" height="1" fill="#737373"/><rect x="0" y="7" width="1" height="1" fill="#737373"/><rect x="1" y="7" width="1" height="1" fill="#737373"/><rect x="2" y="7" width="1" height="1" fill="#858585"/><rect x="3" y="7" width="1" height="1" fill="#858585"/><rect x="4" y="7" width="1" height="1" fill="#6e6e6e"/><rect x="5" y="7" width="1" height="1" fill="#4a4a4a"/><rect x="6" y="7" width="1" height="1" fill="#333333"/><rect x="7" y="7" width="1" height="1" fill="#292929"/><rect x="8" y="7" width="1" height="1" fill="#1c1c1c"/><rect x="9" y="7" width="1" height="1" fill="#171717"/><rect x="10" y="7" width="1" height="1" fill="#171717"/><rect x="11" y="7" width="1" height="1" fill="#1a1a1a"/><rect x="12" y="7" width="1" height="1" fill="#1a1a1a"/><rect x="13" y="7" width="1" height="1" fill="#1a1a1a"/><rect x="-1" y="8" width="1" height="1" fill="#737373"/><rect x="0" y="8" width="1" height="1" fill="#737373"/><rect x="1" y="8" width="1" height="1" fill="#737373"/><rect x="2" y="8" width="1" height="1" fill="#737373"/><rect x="3" y="8" width="1" height="1" fill="#666666"/><rect x="4" y="8" width="1" height="1" fill="#4c4c4c"/><rect x="5" y="8" width="1" height="1" fill="#3b3b3b"/><rect x="6" y="8" width="1" height="1" fill="#303030"/><rect x="7" y="8" width="1" height="1" fill="#212121"/><rect x="8" y="8" width="1" height="1" fill="#141414"/><rect x="9" y="8" width="1" height="1" fill="#0f0f0f"/><rect x="10" y="8" width="1" height="1" fill="#0f0f0f"/><rect x="11" y="8" width="1" height="1" fill="#0a0a0a"/><rect x="12" y="8" width="1" height="1" fill="#0a0a0a"/><rect x="13" y="8" width="1" height="1" fill="#0a0a0a"/><rect x="-1" y="9" width="1" height="1" fill="#737373"/><rect x="0" y="9" width="1" height="1" fill="#737373"/><rect x="1" y="9" width="1" height="1" fill="#737373"/><rect x="2" y="9" width="1" height="1" fill="#737373"/><rect x="3" y="9" width="1" height="1" fill="#666666"/><rect x="4" y="9" width="1" height="1" fill="#383838"/><rect x="5" y="9" width="1" height="1" fill="#333333"/><rect x="6" y="9" width="1" height="1" fill="#333333"/><rect x="7" y="9" width="1" height="1" fill="#212121"/><rect x="8" y="9" width="1" height="1" fill="#141414"/><rect x="9" y="9" width="1" height="1" fill="#0b0b0b"/><rect x="10" y="9" width="1" height="1" fill="#0a0a0a"/><rect x="11" y="9" width="1" height="1" fill="#0a0a0a"/><rect x="12" y="9" width="1" height="1" fill="#0a0a0a"/><rect x="13" y="9" width="1" height="1" fill="#0a0a0a"/><rect x="-1" y="10" width="1" height="1" fill="#737373"/><rect x="0" y="10" width="1" height="1" fill="#737373"/><rect x="1" y="10" width="1" height="1" fill="#737373"/><rect x="2" y="10" width="1" height="1" fill="#737373"/><rect x="3" y="10" width="1" height="1" fill="#383838"/><rect x="4" y="10" width="1" height="1" fill="#383838"/><rect x="5" y="10" width="1" height="1" fill="#333333"/><rect x="6" y="10" width="1" height="1" fill="#333333"/><rect x="7" y="10" width="1" height="1" fill="#333333"/><rect x="8" y="10" width="1" height="1" fill="#0b0b0b"/><rect x="9" y="10" width="1" height="1" fill="#0b0b0b"/><rect x="10" y="10" width="1" height="1" fill="#0a0a0a"/><rect x="11" y="10" width="1" height="1" fill="#0a0a0a"/><rect x="12" y="10" width="1" height="1" fill="#0a0a0a"/><rect x="13" y="10" width="1" height="1" fill="#0a0a0a"/><rect x="-1" y="11" width="1" height="1" fill="#737373"/><rect x="0" y="11" width="1" height="1" fill="#737373"/><rect x="1" y="11" width="1" height="1" fill="#737373"/><rect x="2" y="11" width="1" height="1" fill="#737373"/><rect x="3" y="11" width="1" height="1" fill="#383838"/><rect x="4" y="11" width="1" height="1" fill="#383838"/><rect x="5" y="11" width="1" height="1" fill="#333333"/><rect x="6" y="11" width="1" height="1" fill="#333333"/><rect x="7" y="11" width="1" height="1" fill="#333333"/><rect x="8" y="11" width="1" height="1" fill="#0b0b0b"/><rect x="9" y="11" width="1" height="1" fill="#0b0b0b"/><rect x="10" y="11" width="1" height="1" fill="#0a0a0a"/><rect x="11" y="11" width="1" height="1" fill="#0a0a0a"/><rect x="12" y="11" width="1" height="1" fill="#0a0a0a"/><rect x="13" y="11" width="1" height="1" fill="#0a0a0a"/></g></g><g filter="url(#b1.5)"><path d="M6 15 11 16 16 21 19 24.5 14 25.5 9 22 5 19Z" fill="#b2b2b2"/></g><g filter="url(#b1.5)"><path d="M17 24.5 24 25 27 29 28 34 33 35 39 37 40 41 34 43 32 48 32 55 24 55 21 45 22 40 19 33 15 28Z" fill="#ffffff"/></g><g filter="url(#b1.5)"><path d="M24 55 31 55 28 62 25 70 21 75 16 75 18 68 20 60 22 55Z" fill="#b2b2b2"/></g></g><use href="#mask"/></g>
<use href="#west"/><use href="#gulfcal"/>
<use href="#borders" fill="none" stroke="#000" stroke-width="0.75"/>
<use href="#usoutline" fill="none" stroke="#000" stroke-width="0.9"/>
<use href="#coastx" fill="none" stroke="#000" stroke-width="0.8"/>
</g>
<path d="M1.6 2.2V102.4M1.1 2.7H128.2" stroke="#fff" stroke-width="1"/>
<rect x="0.1" y="0.9" width="128.9" height="102.4" fill="none" stroke="#111" stroke-width="1.25"/>
<rect x="55.0" y="88.1" width="32.0" height="13.6" rx="1.6" fill="#000"/>
<text x="57.0" y="99" font-size="12" fill="#fff">HIST</text>
</g>
<text x="19.4" y="14.6" font-size="19" fill="#000">a</text>
<g transform="translate(152 19)"><g clip-path="url(#pclip)">
<rect width="130" height="104" fill="#f0f0f0"/>
<use href="#water"/>
<g clip-path="url(#usclip)"><g filter="url(#c1)"><g filter="url(#b4)"><g class="fg" transform="scale(10)"><rect x="-1" y="-1" width="1" height="1" fill="#838383"/><rect x="0" y="-1" width="1" height="1" fill="#838383"/><rect x="1" y="-1" width="1" height="1" fill="#757575"/><rect x="2" y="-1" width="1" height="1" fill="#6b6b6b"/><rect x="3" y="-1" width="1" height="1" fill="#656565"/><rect x="4" y="-1" width="1" height="1" fill="#6f6f6f"/><rect x="5" y="-1" width="1" height="1" fill="#797979"/><rect x="6" y="-1" width="1" height="1" fill="#757575"/><rect x="7" y="-1" width="1" height="1" fill="#828282"/><rect x="8" y="-1" width="1" height="1" fill="#828282"/><rect x="9" y="-1" width="1" height="1" fill="#828282"/><rect x="10" y="-1" width="1" height="1" fill="#838383"/><rect x="11" y="-1" width="1" height="1" fill="#838383"/><rect x="12" y="-1" width="1" height="1" fill="#838383"/><rect x="13" y="-1" width="1" height="1" fill="#838383"/><rect x="-1" y="0" width="1" height="1" fill="#838383"/><rect x="0" y="0" width="1" height="1" fill="#838383"/><rect x="1" y="0" width="1" height="1" fill="#757575"/><rect x="2" y="0" width="1" height="1" fill="#6b6b6b"/><rect x="3" y="0" width="1" height="1" fill="#656565"/><rect x="4" y="0" width="1" height="1" fill="#6f6f6f"/><rect x="5" y="0" width="1" height="1" fill="#797979"/><rect x="6" y="0" width="1" height="1" fill="#757575"/><rect x="7" y="0" width="1" height="1" fill="#828282"/><rect x="8" y="0" width="1" height="1" fill="#828282"/><rect x="9" y="0" width="1" height="1" fill="#828282"/><rect x="10" y="0" width="1" height="1" fill="#838383"/><rect x="11" y="0" width="1" height="1" fill="#838383"/><rect x="12" y="0" width="1" height="1" fill="#838383"/><rect x="13" y="0" width="1" height="1" fill="#838383"/><rect x="-1" y="1" width="1" height="1" fill="#838383"/><rect x="0" y="1" width="1" height="1" fill="#838383"/><rect x="1" y="1" width="1" height="1" fill="#757575"/><rect x="2" y="1" width="1" height="1" fill="#6b6b6b"/><rect x="3" y="1" width="1" height="1" fill="#656565"/><rect x="4" y="1" width="1" height="1" fill="#6f6f6f"/><rect x="5" y="1" width="1" height="1" fill="#797979"/><rect x="6" y="1" width="1" height="1" fill="#757575"/><rect x="7" y="1" width="1" height="1" fill="#828282"/><rect x="8" y="1" width="1" height="1" fill="#828282"/><rect x="9" y="1" width="1" height="1" fill="#8b8b8b"/><rect x="10" y="1" width="1" height="1" fill="#848484"/><rect x="11" y="1" width="1" height="1" fill="#838383"/><rect x="12" y="1" width="1" height="1" fill="#838383"/><rect x="13" y="1" width="1" height="1" fill="#838383"/><rect x="-1" y="2" width="1" height="1" fill="#838383"/><rect x="0" y="2" width="1" height="1" fill="#838383"/><rect x="1" y="2" width="1" height="1" fill="#797979"/><rect x="2" y="2" width="1" height="1" fill="#6f6f6f"/><rect x="3" y="2" width="1" height="1" fill="#616161"/><rect x="4" y="2" width="1" height="1" fill="#6b6b6b"/><rect x="5" y="2" width="1" height="1" fill="#6f6f6f"/><rect x="6" y="2" width="1" height="1" fill="#737373"/><rect x="7" y="2" width="1" height="1" fill="#808080"/><rect x="8" y="2" width="1" height="1" fill="#8b8b8b"/><rect x="9" y="2" width="1" height="1" fill="#8b8b8b"/><rect x="10" y="2" width="1" height="1" fill="#848484"/><rect x="11" y="2" width="1" height="1" fill="#838383"/><rect x="12" y="2" width="1" height="1" fill="#838383"/><rect x="13" y="2" width="1" height="1" fill="#838383"/><rect x="-1" y="3" width="1" height="1" fill="#797979"/><rect x="0" y="3" width="1" height="1" fill="#797979"/><rect x="1" y="3" width="1" height="1" fill="#797979"/><rect x="2" y="3" width="1" height="1" fill="#616161"/><rect x="3" y="3" width="1" height="1" fill="#656565"/><rect x="4" y="3" width="1" height="1" fill="#6b6b6b"/><rect x="5" y="3" width="1" height="1" fill="#6f6f6f"/><rect x="6" y="3" width="1" height="1" fill="#828282"/><rect x="7" y="3" width="1" height="1" fill="#828282"/><rect x="8" y="3" width="1" height="1" fill="#7b7b7b"/><rect x="9" y="3" width="1" height="1" fill="#797979"/><rect x="10" y="3" width="1" height="1" fill="#838383"/><rect x="11" y="3" width="1" height="1" fill="#838383"/><rect x="12" y="3" width="1" height="1" fill="#838383"/><rect x="13" y="3" width="1" height="1" fill="#838383"/><rect x="-1" y="4" width="1" height="1" fill="#383838"/><rect x="0" y="4" width="1" height="1" fill="#383838"/><rect x="1" y="4" width="1" height="1" fill="#383838"/><rect x="2" y="4" width="1" height="1" fill="#383838"/><rect x="3" y="4" width="1" height="1" fill="#535353"/><rect x="4" y="4" width="1" height="1" fill="#676767"/><rect x="5" y="4" width="1" height="1" fill="#737373"/><rect x="6" y="4" width="1" height="1" fill="#828282"/><rect x="7" y="4" width="1" height="1" fill="#808080"/><rect x="8" y="4" width="1" height="1" fill="#7d7d7d"/><rect x="9" y="4" width="1" height="1" fill="#838383"/><rect x="10" y="4" width="1" height="1" fill="#838383"/><rect x="11" y="4" width="1" height="1" fill="#838383"/><rect x="12" y="4" width="1" height="1" fill="#838383"/><rect x="13" y="4" width="1" height="1" fill="#838383"/><rect x="-1" y="5" width="1" height="1" fill="#383838"/><rect x="0" y="5" width="1" height="1" fill="#383838"/><rect x="1" y="5" width="1" height="1" fill="#383838"/><rect x="2" y="5" width="1" height="1" fill="#383838"/><rect x="3" y="5" width="1" height="1" fill="#535353"/><rect x="4" y="5" width="1" height="1" fill="#6b6b6b"/><rect x="5" y="5" width="1" height="1" fill="#818181"/><rect x="6" y="5" width="1" height="1" fill="#868686"/><rect x="7" y="5" width="1" height="1" fill="#7b7b7b"/><rect x="8" y="5" width="1" height="1" fill="#838383"/><rect x="9" y="5" width="1" height="1" fill="#848484"/><rect x="10" y="5" width="1" height="1" fill="#838383"/><rect x="11" y="5" width="1" height="1" fill="#838383"/><rect x="12" y="5" width="1" height="1" fill="#838383"/><rect x="13" y="5" width="1" height="1" fill="#838383"/><rect x="-1" y="6" width="1" height="1" fill="#4c4c4c"/><rect x="0" y="6" width="1" height="1" fill="#4c4c4c"/><rect x="1" y="6" width="1" height="1" fill="#4c4c4c"/><rect x="2" y="6" width="1" height="1" fill="#2e2e2e"/><rect x="3" y="6" width="1" height="1" fill="#4c4c4c"/><rect x="4" y="6" width="1" height="1" fill="#717171"/><rect x="5" y="6" width="1" height="1" fill="#808080"/><rect x="6" y="6" width="1" height="1" fill="#848484"/><rect x="7" y="6" width="1" height="1" fill="#7d7d7d"/><rect x="8" y="6" width="1" height="1" fill="#828282"/><rect x="9" y="6" width="1" height="1" fill="#848484"/><rect x="10" y="6" width="1" height="1" fill="#848484"/><rect x="11" y="6" width="1" height="1" fill="#838383"/><rect x="12" y="6" width="1" height="1" fill="#838383"/><rect x="13" y="6" width="1" height="1" fill="#838383"/><rect x="-1" y="7" width="1" height="1" fill="#4c4c4c"/><rect x="0" y="7" width="1" height="1" fill="#4c4c4c"/><rect x="1" y="7" width="1" height="1" fill="#4c4c4c"/><rect x="2" y="7" width="1" height="1" fill="#424242"/><rect x="3" y="7" width="1" height="1" fill="#616161"/><rect x="4" y="7" width="1" height="1" fill="#808080"/><rect x="5" y="7" width="1" height="1" fill="#8c8c8c"/><rect x="6" y="7" width="1" height="1" fill="#a7a7a7"/><rect x="7" y="7" width="1" height="1" fill="#828282"/><rect x="8" y="7" width="1" height="1" fill="#828282"/><rect x="9" y="7" width="1" height="1" fill="#828282"/><rect x="10" y="7" width="1" height="1" fill="#828282"/><rect x="11" y="7" width="1" height="1" fill="#828282"/><rect x="12" y="7" width="1" height="1" fill="#838383"/><rect x="13" y="7" width="1" height="1" fill="#838383"/><rect x="-1" y="8" width="1" height="1" fill="#4c4c4c"/><rect x="0" y="8" width="1" height="1" fill="#4c4c4c"/><rect x="1" y="8" width="1" height="1" fill="#4c4c4c"/><rect x="2" y="8" width="1" height="1" fill="#575757"/><rect x="3" y="8" width="1" height="1" fill="#6b6b6b"/><rect x="4" y="8" width="1" height="1" fill="#7b7b7b"/><rect x="5" y="8" width="1" height="1" fill="#838383"/><rect x="6" y="8" width="1" height="1" fill="#8c8c8c"/><rect x="7" y="8" width="1" height="1" fill="#828282"/><rect x="8" y="8" width="1" height="1" fill="#818181"/><rect x="9" y="8" width="1" height="1" fill="#818181"/><rect x="10" y="8" width="1" height="1" fill="#818181"/><rect x="11" y="8" width="1" height="1" fill="#808080"/><rect x="12" y="8" width="1" height="1" fill="#808080"/><rect x="13" y="8" width="1" height="1" fill="#808080"/><rect x="-1" y="9" width="1" height="1" fill="#4c4c4c"/><rect x="0" y="9" width="1" height="1" fill="#4c4c4c"/><rect x="1" y="9" width="1" height="1" fill="#575757"/><rect x="2" y="9" width="1" height="1" fill="#575757"/><rect x="3" y="9" width="1" height="1" fill="#6b6b6b"/><rect x="4" y="9" width="1" height="1" fill="#797979"/><rect x="5" y="9" width="1" height="1" fill="#818181"/><rect x="6" y="9" width="1" height="1" fill="#818181"/><rect x="7" y="9" width="1" height="1" fill="#828282"/><rect x="8" y="9" width="1" height="1" fill="#818181"/><rect x="9" y="9" width="1" height="1" fill="#808080"/><rect x="10" y="9" width="1" height="1" fill="#808080"/><rect x="11" y="9" width="1" height="1" fill="#808080"/><rect x="12" y="9" width="1" height="1" fill="#808080"/><rect x="13" y="9" width="1" height="1" fill="#808080"/><rect x="-1" y="10" width="1" height="1" fill="#575757"/><rect x="0" y="10" width="1" height="1" fill="#575757"/><rect x="1" y="10" width="1" height="1" fill="#575757"/><rect x="2" y="10" width="1" height="1" fill="#575757"/><rect x="3" y="10" width="1" height="1" fill="#797979"/><rect x="4" y="10" width="1" height="1" fill="#797979"/><rect x="5" y="10" width="1" height="1" fill="#818181"/><rect x="6" y="10" width="1" height="1" fill="#818181"/><rect x="7" y="10" width="1" height="1" fill="#818181"/><rect x="8" y="10" width="1" height="1" fill="#808080"/><rect x="9" y="10" width="1" height="1" fill="#808080"/><rect x="10" y="10" width="1" height="1" fill="#808080"/><rect x="11" y="10" width="1" height="1" fill="#808080"/><rect x="12" y="10" width="1" height="1" fill="#808080"/><rect x="13" y="10" width="1" height="1" fill="#808080"/><rect x="-1" y="11" width="1" height="1" fill="#575757"/><rect x="0" y="11" width="1" height="1" fill="#575757"/><rect x="1" y="11" width="1" height="1" fill="#575757"/><rect x="2" y="11" width="1" height="1" fill="#575757"/><rect x="3" y="11" width="1" height="1" fill="#797979"/><rect x="4" y="11" width="1" height="1" fill="#797979"/><rect x="5" y="11" width="1" height="1" fill="#818181"/><rect x="6" y="11" width="1" height="1" fill="#818181"/><rect x="7" y="11" width="1" height="1" fill="#818181"/><rect x="8" y="11" width="1" height="1" fill="#808080"/><rect x="9" y="11" width="1" height="1" fill="#808080"/><rect x="10" y="11" width="1" height="1" fill="#808080"/><rect x="11" y="11" width="1" height="1" fill="#808080"/><rect x="12" y="11" width="1" height="1" fill="#808080"/><rect x="13" y="11" width="1" height="1" fill="#808080"/></g></g></g><use href="#mask"/></g>
<use href="#west"/><use href="#gulfcal"/>
<use href="#borders" fill="none" stroke="#000" stroke-width="0.75"/>
<use href="#usoutline" fill="none" stroke="#000" stroke-width="0.9"/>
<use href="#coastx" fill="none" stroke="#000" stroke-width="0.8"/>
</g>
<path d="M1.6 2.2V102.4M1.1 2.7H128.2" stroke="#fff" stroke-width="1"/>
<rect x="0.1" y="0.9" width="128.9" height="102.4" fill="none" stroke="#111" stroke-width="1.25"/>
<rect x="54.0" y="88.1" width="39.6" height="13.6" rx="1.6" fill="#000"/>
<text x="55.7" y="99" font-size="12" fill="#fff">MID45</text>
</g>
<text x="153.4" y="14.6" font-size="19" fill="#000">b</text>
<g transform="translate(286 19)"><g clip-path="url(#pclip)">
<rect width="130" height="104" fill="#f0f0f0"/>
<use href="#water"/>
<g clip-path="url(#usclip)"><g filter="url(#c2)"><g filter="url(#b4)"><g class="fg" transform="scale(10)"><rect x="-1" y="-1" width="1" height="1" fill="#727272"/><rect x="0" y="-1" width="1" height="1" fill="#727272"/><rect x="1" y="-1" width="1" height="1" fill="#656565"/><rect x="2" y="-1" width="1" height="1" fill="#6c6c6c"/><rect x="3" y="-1" width="1" height="1" fill="#6c6c6c"/><rect x="4" y="-1" width="1" height="1" fill="#727272"/><rect x="5" y="-1" width="1" height="1" fill="#787878"/><rect x="6" y="-1" width="1" height="1" fill="#7c7c7c"/><rect x="7" y="-1" width="1" height="1" fill="#858585"/><rect x="8" y="-1" width="1" height="1" fill="#858585"/><rect x="9" y="-1" width="1" height="1" fill="#858585"/><rect x="10" y="-1" width="1" height="1" fill="#838383"/><rect x="11" y="-1" width="1" height="1" fill="#838383"/><rect x="12" y="-1" width="1" height="1" fill="#838383"/><rect x="13" y="-1" width="1" height="1" fill="#838383"/><rect x="-1" y="0" width="1" height="1" fill="#727272"/><rect x="0" y="0" width="1" height="1" fill="#727272"/><rect x="1" y="0" width="1" height="1" fill="#656565"/><rect x="2" y="0" width="1" height="1" fill="#6c6c6c"/><rect x="3" y="0" width="1" height="1" fill="#6c6c6c"/><rect x="4" y="0" width="1" height="1" fill="#727272"/><rect x="5" y="0" width="1" height="1" fill="#787878"/><rect x="6" y="0" width="1" height="1" fill="#7c7c7c"/><rect x="7" y="0" width="1" height="1" fill="#858585"/><rect x="8" y="0" width="1" height="1" fill="#858585"/><rect x="9" y="0" width="1" height="1" fill="#858585"/><rect x="10" y="0" width="1" height="1" fill="#838383"/><rect x="11" y="0" width="1" height="1" fill="#838383"/><rect x="12" y="0" width="1" height="1" fill="#838383"/><rect x="13" y="0" width="1" height="1" fill="#838383"/><rect x="-1" y="1" width="1" height="1" fill="#727272"/><rect x="0" y="1" width="1" height="1" fill="#727272"/><rect x="1" y="1" width="1" height="1" fill="#656565"/><rect x="2" y="1" width="1" height="1" fill="#6c6c6c"/><rect x="3" y="1" width="1" height="1" fill="#6c6c6c"/><rect x="4" y="1" width="1" height="1" fill="#727272"/><rect x="5" y="1" width="1" height="1" fill="#787878"/><rect x="6" y="1" width="1" height="1" fill="#7c7c7c"/><rect x="7" y="1" width="1" height="1" fill="#858585"/><rect x="8" y="1" width="1" height="1" fill="#858585"/><rect x="9" y="1" width="1" height="1" fill="#949494"/><rect x="10" y="1" width="1" height="1" fill="#858585"/><rect x="11" y="1" width="1" height="1" fill="#838383"/><rect x="12" y="1" width="1" height="1" fill="#838383"/><rect x="13" y="1" width="1" height="1" fill="#838383"/><rect x="-1" y="2" width="1" height="1" fill="#727272"/><rect x="0" y="2" width="1" height="1" fill="#727272"/><rect x="1" y="2" width="1" height="1" fill="#6c6c6c"/><rect x="2" y="2" width="1" height="1" fill="#656565"/><rect x="3" y="2" width="1" height="1" fill="#656565"/><rect x="4" y="2" width="1" height="1" fill="#6c6c6c"/><rect x="5" y="2" width="1" height="1" fill="#787878"/><rect x="6" y="2" width="1" height="1" fill="#858585"/><rect x="7" y="2" width="1" height="1" fill="#858585"/><rect x="8" y="2" width="1" height="1" fill="#949494"/><rect x="9" y="2" width="1" height="1" fill="#949494"/><rect x="10" y="2" width="1" height="1" fill="#858585"/><rect x="11" y="2" width="1" height="1" fill="#858585"/><rect x="12" y="2" width="1" height="1" fill="#858585"/><rect x="13" y="2" width="1" height="1" fill="#858585"/><rect x="-1" y="3" width="1" height="1" fill="#6c6c6c"/><rect x="0" y="3" width="1" height="1" fill="#6c6c6c"/><rect x="1" y="3" width="1" height="1" fill="#6c6c6c"/><rect x="2" y="3" width="1" height="1" fill="#656565"/><rect x="3" y="3" width="1" height="1" fill="#5e5e5e"/><rect x="4" y="3" width="1" height="1" fill="#656565"/><rect x="5" y="3" width="1" height="1" fill="#757575"/><rect x="6" y="3" width="1" height="1" fill="#808080"/><rect x="7" y="3" width="1" height="1" fill="#8a8a8a"/><rect x="8" y="3" width="1" height="1" fill="#8d8d8d"/><rect x="9" y="3" width="1" height="1" fill="#888888"/><rect x="10" y="3" width="1" height="1" fill="#858585"/><rect x="11" y="3" width="1" height="1" fill="#858585"/><rect x="12" y="3" width="1" height="1" fill="#858585"/><rect x="13" y="3" width="1" height="1" fill="#858585"/><rect x="-1" y="4" width="1" height="1" fill="#444444"/><rect x="0" y="4" width="1" height="1" fill="#444444"/><rect x="1" y="4" width="1" height="1" fill="#444444"/><rect x="2" y="4" width="1" height="1" fill="#444444"/><rect x="3" y="4" width="1" height="1" fill="#515151"/><rect x="4" y="4" width="1" height="1" fill="#5e5e5e"/><rect x="5" y="4" width="1" height="1" fill="#707070"/><rect x="6" y="4" width="1" height="1" fill="#858585"/><rect x="7" y="4" width="1" height="1" fill="#8c8c8c"/><rect x="8" y="4" width="1" height="1" fill="#8a8a8a"/><rect x="9" y="4" width="1" height="1" fill="#868686"/><rect x="10" y="4" width="1" height="1" fill="#858585"/><rect x="11" y="4" width="1" height="1" fill="#838383"/><rect x="12" y="4" width="1" height="1" fill="#838383"/><rect x="13" y="4" width="1" height="1" fill="#838383"/><rect x="-1" y="5" width="1" height="1" fill="#444444"/><rect x="0" y="5" width="1" height="1" fill="#444444"/><rect x="1" y="5" width="1" height="1" fill="#444444"/><rect x="2" y="5" width="1" height="1" fill="#444444"/><rect x="3" y="5" width="1" height="1" fill="#515151"/><rect x="4" y="5" width="1" height="1" fill="#5e5e5e"/><rect x="5" y="5" width="1" height="1" fill="#747474"/><rect x="6" y="5" width="1" height="1" fill="#838383"/><rect x="7" y="5" width="1" height="1" fill="#888888"/><rect x="8" y="5" width="1" height="1" fill="#888888"/><rect x="9" y="5" width="1" height="1" fill="#868686"/><rect x="10" y="5" width="1" height="1" fill="#838383"/><rect x="11" y="5" width="1" height="1" fill="#838383"/><rect x="12" y="5" width="1" height="1" fill="#838383"/><rect x="13" y="5" width="1" height="1" fill="#838383"/><rect x="-1" y="6" width="1" height="1" fill="#4a4a4a"/><rect x="0" y="6" width="1" height="1" fill="#4a4a4a"/><rect x="1" y="6" width="1" height="1" fill="#4a4a4a"/><rect x="2" y="6" width="1" height="1" fill="#444444"/><rect x="3" y="6" width="1" height="1" fill="#4a4a4a"/><rect x="4" y="6" width="1" height="1" fill="#5e5e5e"/><rect x="5" y="6" width="1" height="1" fill="#757575"/><rect x="6" y="6" width="1" height="1" fill="#838383"/><rect x="7" y="6" width="1" height="1" fill="#838383"/><rect x="8" y="6" width="1" height="1" fill="#868686"/><rect x="9" y="6" width="1" height="1" fill="#868686"/><rect x="10" y="6" width="1" height="1" fill="#868686"/><rect x="11" y="6" width="1" height="1" fill="#838383"/><rect x="12" y="6" width="1" height="1" fill="#838383"/><rect x="13" y="6" width="1" height="1" fill="#838383"/><rect x="-1" y="7" width="1" height="1" fill="#4a4a4a"/><rect x="0" y="7" width="1" height="1" fill="#4a4a4a"/><rect x="1" y="7" width="1" height="1" fill="#4a4a4a"/><rect x="2" y="7" width="1" height="1" fill="#4a4a4a"/><rect x="3" y="7" width="1" height="1" fill="#555555"/><rect x="4" y="7" width="1" height="1" fill="#6a6a6a"/><rect x="5" y="7" width="1" height="1" fill="#787878"/><rect x="6" y="7" width="1" height="1" fill="#808080"/><rect x="7" y="7" width="1" height="1" fill="#838383"/><rect x="8" y="7" width="1" height="1" fill="#858585"/><rect x="9" y="7" width="1" height="1" fill="#838383"/><rect x="10" y="7" width="1" height="1" fill="#838383"/><rect x="11" y="7" width="1" height="1" fill="#838383"/><rect x="12" y="7" width="1" height="1" fill="#838383"/><rect x="13" y="7" width="1" height="1" fill="#838383"/><rect x="-1" y="8" width="1" height="1" fill="#4a4a4a"/><rect x="0" y="8" width="1" height="1" fill="#4a4a4a"/><rect x="1" y="8" width="1" height="1" fill="#4a4a4a"/><rect x="2" y="8" width="1" height="1" fill="#515151"/><rect x="3" y="8" width="1" height="1" fill="#626262"/><rect x="4" y="8" width="1" height="1" fill="#707070"/><rect x="5" y="8" width="1" height="1" fill="#7a7a7a"/><rect x="6" y="8" width="1" height="1" fill="#808080"/><rect x="7" y="8" width="1" height="1" fill="#838383"/><rect x="8" y="8" width="1" height="1" fill="#818181"/><rect x="9" y="8" width="1" height="1" fill="#808080"/><rect x="10" y="8" width="1" height="1" fill="#808080"/><rect x="11" y="8" width="1" height="1" fill="#808080"/><rect x="12" y="8" width="1" height="1" fill="#808080"/><rect x="13" y="8" width="1" height="1" fill="#808080"/><rect x="-1" y="9" width="1" height="1" fill="#4a4a4a"/><rect x="0" y="9" width="1" height="1" fill="#4a4a4a"/><rect x="1" y="9" width="1" height="1" fill="#515151"/><rect x="2" y="9" width="1" height="1" fill="#515151"/><rect x="3" y="9" width="1" height="1" fill="#626262"/><rect x="4" y="9" width="1" height="1" fill="#787878"/><rect x="5" y="9" width="1" height="1" fill="#7c7c7c"/><rect x="6" y="9" width="1" height="1" fill="#7c7c7c"/><rect x="7" y="9" width="1" height="1" fill="#838383"/><rect x="8" y="9" width="1" height="1" fill="#818181"/><rect x="9" y="9" width="1" height="1" fill="#808080"/><rect x="10" y="9" width="1" height="1" fill="#808080"/><rect x="11" y="9" width="1" height="1" fill="#808080"/><rect x="12" y="9" width="1" height="1" fill="#808080"/><rect x="13" y="9" width="1" height="1" fill="#808080"/><rect x="-1" y="10" width="1" height="1" fill="#515151"/><rect x="0" y="10" width="1" height="1" fill="#515151"/><rect x="1" y="10" width="1" height="1" fill="#515151"/><rect x="2" y="10" width="1" height="1" fill="#515151"/><rect x="3" y="10" width="1" height="1" fill="#787878"/><rect x="4" y="10" width="1" height="1" fill="#787878"/><rect x="5" y="10" width="1" height="1" fill="#7c7c7c"/><rect x="6" y="10" width="1" height="1" fill="#7c7c7c"/><rect x="7" y="10" width="1" height="1" fill="#7c7c7c"/><rect x="8" y="10" width="1" height="1" fill="#808080"/><rect x="9" y="10" width="1" height="1" fill="#808080"/><rect x="10" y="10" width="1" height="1" fill="#808080"/><rect x="11" y="10" width="1" height="1" fill="#808080"/><rect x="12" y="10" width="1" height="1" fill="#808080"/><rect x="13" y="10" width="1" height="1" fill="#808080"/><rect x="-1" y="11" width="1" height="1" fill="#515151"/><rect x="0" y="11" width="1" height="1" fill="#515151"/><rect x="1" y="11" width="1" height="1" fill="#515151"/><rect x="2" y="11" width="1" height="1" fill="#515151"/><rect x="3" y="11" width="1" height="1" fill="#787878"/><rect x="4" y="11" width="1" height="1" fill="#787878"/><rect x="5" y="11" width="1" height="1" fill="#7c7c7c"/><rect x="6" y="11" width="1" height="1" fill="#7c7c7c"/><rect x="7" y="11" width="1" height="1" fill="#7c7c7c"/><rect x="8" y="11" width="1" height="1" fill="#808080"/><rect x="9" y="11" width="1" height="1" fill="#808080"/><rect x="10" y="11" width="1" height="1" fill="#808080"/><rect x="11" y="11" width="1" height="1" fill="#808080"/><rect x="12" y="11" width="1" height="1" fill="#808080"/><rect x="13" y="11" width="1" height="1" fill="#808080"/></g></g></g><use href="#mask"/></g>
<use href="#west"/><use href="#gulfcal"/>
<use href="#borders" fill="none" stroke="#000" stroke-width="0.75"/>
<use href="#usoutline" fill="none" stroke="#000" stroke-width="0.9"/>
<use href="#coastx" fill="none" stroke="#000" stroke-width="0.8"/>
</g>
<path d="M1.6 2.2V102.4M1.1 2.7H128.2" stroke="#fff" stroke-width="1"/>
<rect x="0.1" y="0.9" width="128.9" height="102.4" fill="none" stroke="#111" stroke-width="1.25"/>
<rect x="54.0" y="88.1" width="39.6" height="13.6" rx="1.6" fill="#000"/>
<text x="55.7" y="99" font-size="12" fill="#fff">MID85</text>
</g>
<text x="287.4" y="14.6" font-size="19" fill="#000">c</text>
<g transform="translate(420 19)"><g clip-path="url(#pclip)">
<rect width="130" height="104" fill="#f0f0f0"/>
<use href="#water"/>
<g clip-path="url(#usclip)"><g filter="url(#c3)"><g filter="url(#b4)"><g class="fg" transform="scale(10)"><rect x="-1" y="-1" width="1" height="1" fill="#898989"/><rect x="0" y="-1" width="1" height="1" fill="#898989"/><rect x="1" y="-1" width="1" height="1" fill="#7b7b7b"/><rect x="2" y="-1" width="1" height="1" fill="#717171"/><rect x="3" y="-1" width="1" height="1" fill="#696969"/><rect x="4" y="-1" width="1" height="1" fill="#6d6d6d"/><rect x="5" y="-1" width="1" height="1" fill="#737373"/><rect x="6" y="-1" width="1" height="1" fill="#787878"/><rect x="7" y="-1" width="1" height="1" fill="#858585"/><rect x="8" y="-1" width="1" height="1" fill="#858585"/><rect x="9" y="-1" width="1" height="1" fill="#858585"/><rect x="10" y="-1" width="1" height="1" fill="#898989"/><rect x="11" y="-1" width="1" height="1" fill="#898989"/><rect x="12" y="-1" width="1" height="1" fill="#898989"/><rect x="13" y="-1" width="1" height="1" fill="#898989"/><rect x="-1" y="0" width="1" height="1" fill="#898989"/><rect x="0" y="0" width="1" height="1" fill="#898989"/><rect x="1" y="0" width="1" height="1" fill="#7b7b7b"/><rect x="2" y="0" width="1" height="1" fill="#717171"/><rect x="3" y="0" width="1" height="1" fill="#696969"/><rect x="4" y="0" width="1" height="1" fill="#6d6d6d"/><rect x="5" y="0" width="1" height="1" fill="#737373"/><rect x="6" y="0" width="1" height="1" fill="#787878"/><rect x="7" y="0" width="1" height="1" fill="#858585"/><rect x="8" y="0" width="1" height="1" fill="#858585"/><rect x="9" y="0" width="1" height="1" fill="#858585"/><rect x="10" y="0" width="1" height="1" fill="#898989"/><rect x="11" y="0" width="1" height="1" fill="#898989"/><rect x="12" y="0" width="1" height="1" fill="#898989"/><rect x="13" y="0" width="1" height="1" fill="#898989"/><rect x="-1" y="1" width="1" height="1" fill="#898989"/><rect x="0" y="1" width="1" height="1" fill="#898989"/><rect x="1" y="1" width="1" height="1" fill="#7b7b7b"/><rect x="2" y="1" width="1" height="1" fill="#717171"/><rect x="3" y="1" width="1" height="1" fill="#696969"/><rect x="4" y="1" width="1" height="1" fill="#6d6d6d"/><rect x="5" y="1" width="1" height="1" fill="#737373"/><rect x="6" y="1" width="1" height="1" fill="#787878"/><rect x="7" y="1" width="1" height="1" fill="#858585"/><rect x="8" y="1" width="1" height="1" fill="#858585"/><rect x="9" y="1" width="1" height="1" fill="#8b8b8b"/><rect x="10" y="1" width="1" height="1" fill="#898989"/><rect x="11" y="1" width="1" height="1" fill="#898989"/><rect x="12" y="1" width="1" height="1" fill="#898989"/><rect x="13" y="1" width="1" height="1" fill="#898989"/><rect x="-1" y="2" width="1" height="1" fill="#898989"/><rect x="0" y="2" width="1" height="1" fill="#898989"/><rect x="1" y="2" width="1" height="1" fill="#7b7b7b"/><rect x="2" y="2" width="1" height="1" fill="#6e6e6e"/><rect x="3" y="2" width="1" height="1" fill="#4e4e4e"/><rect x="4" y="2" width="1" height="1" fill="#5c5c5c"/><rect x="5" y="2" width="1" height="1" fill="#6e6e6e"/><rect x="6" y="2" width="1" height="1" fill="#787878"/><rect x="7" y="2" width="1" height="1" fill="#808080"/><rect x="8" y="2" width="1" height="1" fill="#8b8b8b"/><rect x="9" y="2" width="1" height="1" fill="#8b8b8b"/><rect x="10" y="2" width="1" height="1" fill="#898989"/><rect x="11" y="2" width="1" height="1" fill="#898989"/><rect x="12" y="2" width="1" height="1" fill="#898989"/><rect x="13" y="2" width="1" height="1" fill="#898989"/><rect x="-1" y="3" width="1" height="1" fill="#7b7b7b"/><rect x="0" y="3" width="1" height="1" fill="#7b7b7b"/><rect x="1" y="3" width="1" height="1" fill="#7b7b7b"/><rect x="2" y="3" width="1" height="1" fill="#636363"/><rect x="3" y="3" width="1" height="1" fill="#4e4e4e"/><rect x="4" y="3" width="1" height="1" fill="#555555"/><rect x="5" y="3" width="1" height="1" fill="#6a6a6a"/><rect x="6" y="3" width="1" height="1" fill="#777777"/><rect x="7" y="3" width="1" height="1" fill="#808080"/><rect x="8" y="3" width="1" height="1" fill="#878787"/><rect x="9" y="3" width="1" height="1" fill="#898989"/><rect x="10" y="3" width="1" height="1" fill="#898989"/><rect x="11" y="3" width="1" height="1" fill="#898989"/><rect x="12" y="3" width="1" height="1" fill="#898989"/><rect x="13" y="3" width="1" height="1" fill="#898989"/><rect x="-1" y="4" width="1" height="1" fill="#3f3f3f"/><rect x="0" y="4" width="1" height="1" fill="#3f3f3f"/><rect x="1" y="4" width="1" height="1" fill="#3f3f3f"/><rect x="2" y="4" width="1" height="1" fill="#3f3f3f"/><rect x="3" y="4" width="1" height="1" fill="#464646"/><rect x="4" y="4" width="1" height="1" fill="#555555"/><rect x="5" y="4" width="1" height="1" fill="#6d6d6d"/><rect x="6" y="4" width="1" height="1" fill="#767676"/><rect x="7" y="4" width="1" height="1" fill="#7d7d7d"/><rect x="8" y="4" width="1" height="1" fill="#838383"/><rect x="9" y="4" width="1" height="1" fill="#878787"/><rect x="10" y="4" width="1" height="1" fill="#858585"/><rect x="11" y="4" width="1" height="1" fill="#858585"/><rect x="12" y="4" width="1" height="1" fill="#858585"/><rect x="13" y="4" width="1" height="1" fill="#858585"/><rect x="-1" y="5" width="1" height="1" fill="#3f3f3f"/><rect x="0" y="5" width="1" height="1" fill="#3f3f3f"/><rect x="1" y="5" width="1" height="1" fill="#3f3f3f"/><rect x="2" y="5" width="1" height="1" fill="#3f3f3f"/><rect x="3" y="5" width="1" height="1" fill="#4e4e4e"/><rect x="4" y="5" width="1" height="1" fill="#5c5c5c"/><rect x="5" y="5" width="1" height="1" fill="#777777"/><rect x="6" y="5" width="1" height="1" fill="#767676"/><rect x="7" y="5" width="1" height="1" fill="#7b7b7b"/><rect x="8" y="5" width="1" height="1" fill="#858585"/><rect x="9" y="5" width="1" height="1" fill="#898989"/><rect x="10" y="5" width="1" height="1" fill="#858585"/><rect x="11" y="5" width="1" height="1" fill="#858585"/><rect x="12" y="5" width="1" height="1" fill="#858585"/><rect x="13" y="5" width="1" height="1" fill="#858585"/><rect x="-1" y="6" width="1" height="1" fill="#4e4e4e"/><rect x="0" y="6" width="1" height="1" fill="#4e4e4e"/><rect x="1" y="6" width="1" height="1" fill="#4e4e4e"/><rect x="2" y="6" width="1" height="1" fill="#464646"/><rect x="3" y="6" width="1" height="1" fill="#4e4e4e"/><rect x="4" y="6" width="1" height="1" fill="#6a6a6a"/><rect x="5" y="6" width="1" height="1" fill="#838383"/><rect x="6" y="6" width="1" height="1" fill="#7b7b7b"/><rect x="7" y="6" width="1" height="1" fill="#838383"/><rect x="8" y="6" width="1" height="1" fill="#878787"/><rect x="9" y="6" width="1" height="1" fill="#898989"/><rect x="10" y="6" width="1" height="1" fill="#898989"/><rect x="11" y="6" width="1" height="1" fill="#858585"/><rect x="12" y="6" width="1" height="1" fill="#858585"/><rect x="13" y="6" width="1" height="1" fill="#858585"/><rect x="-1" y="7" width="1" height="1" fill="#4e4e4e"/><rect x="0" y="7" width="1" height="1" fill="#4e4e4e"/><rect x="1" y="7" width="1" height="1" fill="#4e4e4e"/><rect x="2" y="7" width="1" height="1" fill="#4e4e4e"/><rect x="3" y="7" width="1" height="1" fill="#555555"/><rect x="4" y="7" width="1" height="1" fill="#6e6e6e"/><rect x="5" y="7" width="1" height="1" fill="#8b8b8b"/><rect x="6" y="7" width="1" height="1" fill="#898989"/><rect x="7" y="7" width="1" height="1" fill="#898989"/><rect x="8" y="7" width="1" height="1" fill="#898989"/><rect x="9" y="7" width="1" height="1" fill="#858585"/><rect x="10" y="7" width="1" height="1" fill="#858585"/><rect x="11" y="7" width="1" height="1" fill="#858585"/><rect x="12" y="7" width="1" height="1" fill="#858585"/><rect x="13" y="7" width="1" height="1" fill="#858585"/><rect x="-1" y="8" width="1" height="1" fill="#4e4e4e"/><rect x="0" y="8" width="1" height="1" fill="#4e4e4e"/><rect x="1" y="8" width="1" height="1" fill="#4e4e4e"/><rect x="2" y="8" width="1" height="1" fill="#555555"/><rect x="3" y="8" width="1" height="1" fill="#5c5c5c"/><rect x="4" y="8" width="1" height="1" fill="#747474"/><rect x="5" y="8" width="1" height="1" fill="#898989"/><rect x="6" y="8" width="1" height="1" fill="#898989"/><rect x="7" y="8" width="1" height="1" fill="#898989"/><rect x="8" y="8" width="1" height="1" fill="#858585"/><rect x="9" y="8" width="1" height="1" fill="#858585"/><rect x="10" y="8" width="1" height="1" fill="#858585"/><rect x="11" y="8" width="1" height="1" fill="#838383"/><rect x="12" y="8" width="1" height="1" fill="#838383"/><rect x="13" y="8" width="1" height="1" fill="#838383"/><rect x="-1" y="9" width="1" height="1" fill="#4e4e4e"/><rect x="0" y="9" width="1" height="1" fill="#4e4e4e"/><rect x="1" y="9" width="1" height="1" fill="#555555"/><rect x="2" y="9" width="1" height="1" fill="#555555"/><rect x="3" y="9" width="1" height="1" fill="#5c5c5c"/><rect x="4" y="9" width="1" height="1" fill="#787878"/><rect x="5" y="9" width="1" height="1" fill="#808080"/><rect x="6" y="9" width="1" height="1" fill="#808080"/><rect x="7" y="9" width="1" height="1" fill="#898989"/><rect x="8" y="9" width="1" height="1" fill="#858585"/><rect x="9" y="9" width="1" height="1" fill="#858585"/><rect x="10" y="9" width="1" height="1" fill="#838383"/><rect x="11" y="9" width="1" height="1" fill="#838383"/><rect x="12" y="9" width="1" height="1" fill="#838383"/><rect x="13" y="9" width="1" height="1" fill="#838383"/><rect x="-1" y="10" width="1" height="1" fill="#555555"/><rect x="0" y="10" width="1" height="1" fill="#555555"/><rect x="1" y="10" width="1" height="1" fill="#555555"/><rect x="2" y="10" width="1" height="1" fill="#555555"/><rect x="3" y="10" width="1" height="1" fill="#787878"/><rect x="4" y="10" width="1" height="1" fill="#787878"/><rect x="5" y="10" width="1" height="1" fill="#808080"/><rect x="6" y="10" width="1" height="1" fill="#808080"/><rect x="7" y="10" width="1" height="1" fill="#808080"/><rect x="8" y="10" width="1" height="1" fill="#858585"/><rect x="9" y="10" width="1" height="1" fill="#858585"/><rect x="10" y="10" width="1" height="1" fill="#838383"/><rect x="11" y="10" width="1" height="1" fill="#838383"/><rect x="12" y="10" width="1" height="1" fill="#838383"/><rect x="13" y="10" width="1" height="1" fill="#838383"/><rect x="-1" y="11" width="1" height="1" fill="#555555"/><rect x="0" y="11" width="1" height="1" fill="#555555"/><rect x="1" y="11" width="1" height="1" fill="#555555"/><rect x="2" y="11" width="1" height="1" fill="#555555"/><rect x="3" y="11" width="1" height="1" fill="#787878"/><rect x="4" y="11" width="1" height="1" fill="#787878"/><rect x="5" y="11" width="1" height="1" fill="#808080"/><rect x="6" y="11" width="1" height="1" fill="#808080"/><rect x="7" y="11" width="1" height="1" fill="#808080"/><rect x="8" y="11" width="1" height="1" fill="#858585"/><rect x="9" y="11" width="1" height="1" fill="#858585"/><rect x="10" y="11" width="1" height="1" fill="#838383"/><rect x="11" y="11" width="1" height="1" fill="#838383"/><rect x="12" y="11" width="1" height="1" fill="#838383"/><rect x="13" y="11" width="1" height="1" fill="#838383"/></g></g></g><use href="#mask"/></g>
<use href="#west"/><use href="#gulfcal"/>
<use href="#borders" fill="none" stroke="#000" stroke-width="0.75"/>
<use href="#usoutline" fill="none" stroke="#000" stroke-width="0.9"/>
<use href="#coastx" fill="none" stroke="#000" stroke-width="0.8"/>
</g>
<path d="M1.6 2.2V102.4M1.1 2.7H128.2" stroke="#fff" stroke-width="1"/>
<rect x="0.1" y="0.9" width="128.9" height="102.4" fill="none" stroke="#111" stroke-width="1.25"/>
<rect x="54.0" y="88.1" width="43.0" height="13.6" rx="1.6" fill="#000"/>
<text x="55.7" y="99" font-size="12" fill="#fff">END45</text>
</g>
<text x="421.4" y="14.6" font-size="19" fill="#000">d</text>
<g transform="translate(554 19)"><g clip-path="url(#pclip)">
<rect width="130" height="104" fill="#f0f0f0"/>
<use href="#water"/>
<g clip-path="url(#usclip)"><g filter="url(#c4)"><g filter="url(#b4)"><g class="fg" transform="scale(10)"><rect x="-1" y="-1" width="1" height="1" fill="#636363"/><rect x="0" y="-1" width="1" height="1" fill="#636363"/><rect x="1" y="-1" width="1" height="1" fill="#5c5c5c"/><rect x="2" y="-1" width="1" height="1" fill="#5c5c5c"/><rect x="3" y="-1" width="1" height="1" fill="#636363"/><rect x="4" y="-1" width="1" height="1" fill="#6a6a6a"/><rect x="5" y="-1" width="1" height="1" fill="#717171"/><rect x="6" y="-1" width="1" height="1" fill="#787878"/><rect x="7" y="-1" width="1" height="1" fill="#808080"/><rect x="8" y="-1" width="1" height="1" fill="#808080"/><rect x="9" y="-1" width="1" height="1" fill="#808080"/><rect x="10" y="-1" width="1" height="1" fill="#818181"/><rect x="11" y="-1" width="1" height="1" fill="#818181"/><rect x="12" y="-1" width="1" height="1" fill="#818181"/><rect x="13" y="-1" width="1" height="1" fill="#818181"/><rect x="-1" y="0" width="1" height="1" fill="#636363"/><rect x="0" y="0" width="1" height="1" fill="#636363"/><rect x="1" y="0" width="1" height="1" fill="#5c5c5c"/><rect x="2" y="0" width="1" height="1" fill="#5c5c5c"/><rect x="3" y="0" width="1" height="1" fill="#636363"/><rect x="4" y="0" width="1" height="1" fill="#6a6a6a"/><rect x="5" y="0" width="1" height="1" fill="#717171"/><rect x="6" y="0" width="1" height="1" fill="#787878"/><rect x="7" y="0" width="1" height="1" fill="#808080"/><rect x="8" y="0" width="1" height="1" fill="#808080"/><rect x="9" y="0" width="1" height="1" fill="#808080"/><rect x="10" y="0" width="1" height="1" fill="#818181"/><rect x="11" y="0" width="1" height="1" fill="#818181"/><rect x="12" y="0" width="1" height="1" fill="#818181"/><rect x="13" y="0" width="1" height="1" fill="#818181"/><rect x="-1" y="1" width="1" height="1" fill="#636363"/><rect x="0" y="1" width="1" height="1" fill="#636363"/><rect x="1" y="1" width="1" height="1" fill="#5c5c5c"/><rect x="2" y="1" width="1" height="1" fill="#5c5c5c"/><rect x="3" y="1" width="1" height="1" fill="#636363"/><rect x="4" y="1" width="1" height="1" fill="#6a6a6a"/><rect x="5" y="1" width="1" height="1" fill="#717171"/><rect x="6" y="1" width="1" height="1" fill="#787878"/><rect x="7" y="1" width="1" height="1" fill="#808080"/><rect x="8" y="1" width="1" height="1" fill="#808080"/><rect x="9" y="1" width="1" height="1" fill="#838383"/><rect x="10" y="1" width="1" height="1" fill="#818181"/><rect x="11" y="1" width="1" height="1" fill="#818181"/><rect x="12" y="1" width="1" height="1" fill="#818181"/><rect x="13" y="1" width="1" height="1" fill="#818181"/><rect x="-1" y="2" width="1" height="1" fill="#636363"/><rect x="0" y="2" width="1" height="1" fill="#636363"/><rect x="1" y="2" width="1" height="1" fill="#5c5c5c"/><rect x="2" y="2" width="1" height="1" fill="#4e4e4e"/><rect x="3" y="2" width="1" height="1" fill="#555555"/><rect x="4" y="2" width="1" height="1" fill="#636363"/><rect x="5" y="2" width="1" height="1" fill="#6e6e6e"/><rect x="6" y="2" width="1" height="1" fill="#7b7b7b"/><rect x="7" y="2" width="1" height="1" fill="#808080"/><rect x="8" y="2" width="1" height="1" fill="#838383"/><rect x="9" y="2" width="1" height="1" fill="#838383"/><rect x="10" y="2" width="1" height="1" fill="#818181"/><rect x="11" y="2" width="1" height="1" fill="#818181"/><rect x="12" y="2" width="1" height="1" fill="#818181"/><rect x="13" y="2" width="1" height="1" fill="#818181"/><rect x="-1" y="3" width="1" height="1" fill="#5c5c5c"/><rect x="0" y="3" width="1" height="1" fill="#5c5c5c"/><rect x="1" y="3" width="1" height="1" fill="#5c5c5c"/><rect x="2" y="3" width="1" height="1" fill="#464646"/><rect x="3" y="3" width="1" height="1" fill="#4e4e4e"/><rect x="4" y="3" width="1" height="1" fill="#5c5c5c"/><rect x="5" y="3" width="1" height="1" fill="#6c6c6c"/><rect x="6" y="3" width="1" height="1" fill="#747474"/><rect x="7" y="3" width="1" height="1" fill="#7d7d7d"/><rect x="8" y="3" width="1" height="1" fill="#818181"/><rect x="9" y="3" width="1" height="1" fill="#818181"/><rect x="10" y="3" width="1" height="1" fill="#818181"/><rect x="11" y="3" width="1" height="1" fill="#808080"/><rect x="12" y="3" width="1" height="1" fill="#808080"/><rect x="13" y="3" width="1" height="1" fill="#808080"/><rect x="-1" y="4" width="1" height="1" fill="#383838"/><rect x="0" y="4" width="1" height="1" fill="#383838"/><rect x="1" y="4" width="1" height="1" fill="#383838"/><rect x="2" y="4" width="1" height="1" fill="#383838"/><rect x="3" y="4" width="1" height="1" fill="#3f3f3f"/><rect x="4" y="4" width="1" height="1" fill="#5c5c5c"/><rect x="5" y="4" width="1" height="1" fill="#6d6d6d"/><rect x="6" y="4" width="1" height="1" fill="#747474"/><rect x="7" y="4" width="1" height="1" fill="#787878"/><rect x="8" y="4" width="1" height="1" fill="#7d7d7d"/><rect x="9" y="4" width="1" height="1" fill="#808080"/><rect x="10" y="4" width="1" height="1" fill="#808080"/><rect x="11" y="4" width="1" height="1" fill="#808080"/><rect x="12" y="4" width="1" height="1" fill="#808080"/><rect x="13" y="4" width="1" height="1" fill="#808080"/><rect x="-1" y="5" width="1" height="1" fill="#383838"/><rect x="0" y="5" width="1" height="1" fill="#383838"/><rect x="1" y="5" width="1" height="1" fill="#383838"/><rect x="2" y="5" width="1" height="1" fill="#383838"/><rect x="3" y="5" width="1" height="1" fill="#3f3f3f"/><rect x="4" y="5" width="1" height="1" fill="#5c5c5c"/><rect x="5" y="5" width="1" height="1" fill="#6d6d6d"/><rect x="6" y="5" width="1" height="1" fill="#747474"/><rect x="7" y="5" width="1" height="1" fill="#787878"/><rect x="8" y="5" width="1" height="1" fill="#7d7d7d"/><rect x="9" y="5" width="1" height="1" fill="#818181"/><rect x="10" y="5" width="1" height="1" fill="#808080"/><rect x="11" y="5" width="1" height="1" fill="#808080"/><rect x="12" y="5" width="1" height="1" fill="#808080"/><rect x="13" y="5" width="1" height="1" fill="#808080"/><rect x="-1" y="6" width="1" height="1" fill="#464646"/><rect x="0" y="6" width="1" height="1" fill="#464646"/><rect x="1" y="6" width="1" height="1" fill="#464646"/><rect x="2" y="6" width="1" height="1" fill="#3f3f3f"/><rect x="3" y="6" width="1" height="1" fill="#464646"/><rect x="4" y="6" width="1" height="1" fill="#5c5c5c"/><rect x="5" y="6" width="1" height="1" fill="#717171"/><rect x="6" y="6" width="1" height="1" fill="#767676"/><rect x="7" y="6" width="1" height="1" fill="#787878"/><rect x="8" y="6" width="1" height="1" fill="#7b7b7b"/><rect x="9" y="6" width="1" height="1" fill="#808080"/><rect x="10" y="6" width="1" height="1" fill="#808080"/><rect x="11" y="6" width="1" height="1" fill="#808080"/><rect x="12" y="6" width="1" height="1" fill="#808080"/><rect x="13" y="6" width="1" height="1" fill="#808080"/><rect x="-1" y="7" width="1" height="1" fill="#464646"/><rect x="0" y="7" width="1" height="1" fill="#464646"/><rect x="1" y="7" width="1" height="1" fill="#464646"/><rect x="2" y="7" width="1" height="1" fill="#3f3f3f"/><rect x="3" y="7" width="1" height="1" fill="#4e4e4e"/><rect x="4" y="7" width="1" height="1" fill="#5c5c5c"/><rect x="5" y="7" width="1" height="1" fill="#737373"/><rect x="6" y="7" width="1" height="1" fill="#777777"/><rect x="7" y="7" width="1" height="1" fill="#787878"/><rect x="8" y="7" width="1" height="1" fill="#7b7b7b"/><rect x="9" y="7" width="1" height="1" fill="#7e7e7e"/><rect x="10" y="7" width="1" height="1" fill="#7e7e7e"/><rect x="11" y="7" width="1" height="1" fill="#7e7e7e"/><rect x="12" y="7" width="1" height="1" fill="#808080"/><rect x="13" y="7" width="1" height="1" fill="#808080"/><rect x="-1" y="8" width="1" height="1" fill="#464646"/><rect x="0" y="8" width="1" height="1" fill="#464646"/><rect x="1" y="8" width="1" height="1" fill="#464646"/><rect x="2" y="8" width="1" height="1" fill="#464646"/><rect x="3" y="8" width="1" height="1" fill="#4e4e4e"/><rect x="4" y="8" width="1" height="1" fill="#636363"/><rect x="5" y="8" width="1" height="1" fill="#767676"/><rect x="6" y="8" width="1" height="1" fill="#787878"/><rect x="7" y="8" width="1" height="1" fill="#7a7a7a"/><rect x="8" y="8" width="1" height="1" fill="#7d7d7d"/><rect x="9" y="8" width="1" height="1" fill="#7e7e7e"/><rect x="10" y="8" width="1" height="1" fill="#7e7e7e"/><rect x="11" y="8" width="1" height="1" fill="#7e7e7e"/><rect x="12" y="8" width="1" height="1" fill="#7e7e7e"/><rect x="13" y="8" width="1" height="1" fill="#7e7e7e"/><rect x="-1" y="9" width="1" height="1" fill="#464646"/><rect x="0" y="9" width="1" height="1" fill="#464646"/><rect x="1" y="9" width="1" height="1" fill="#464646"/><rect x="2" y="9" width="1" height="1" fill="#464646"/><rect x="3" y="9" width="1" height="1" fill="#4e4e4e"/><rect x="4" y="9" width="1" height="1" fill="#6a6a6a"/><rect x="5" y="9" width="1" height="1" fill="#747474"/><rect x="6" y="9" width="1" height="1" fill="#747474"/><rect x="7" y="9" width="1" height="1" fill="#7a7a7a"/><rect x="8" y="9" width="1" height="1" fill="#7d7d7d"/><rect x="9" y="9" width="1" height="1" fill="#7e7e7e"/><rect x="10" y="9" width="1" height="1" fill="#7e7e7e"/><rect x="11" y="9" width="1" height="1" fill="#7e7e7e"/><rect x="12" y="9" width="1" height="1" fill="#7e7e7e"/><rect x="13" y="9" width="1" height="1" fill="#7e7e7e"/><rect x="-1" y="10" width="1" height="1" fill="#464646"/><rect x="0" y="10" width="1" height="1" fill="#464646"/><rect x="1" y="10" width="1" height="1" fill="#464646"/><rect x="2" y="10" width="1" height="1" fill="#464646"/><rect x="3" y="10" width="1" height="1" fill="#6a6a6a"/><rect x="4" y="10" width="1" height="1" fill="#6a6a6a"/><rect x="5" y="10" width="1" height="1" fill="#747474"/><rect x="6" y="10" width="1" height="1" fill="#747474"/><rect x="7" y="10" width="1" height="1" fill="#747474"/><rect x="8" y="10" width="1" height="1" fill="#7e7e7e"/><rect x="9" y="10" width="1" height="1" fill="#7e7e7e"/><rect x="10" y="10" width="1" height="1" fill="#7e7e7e"/><rect x="11" y="10" width="1" height="1" fill="#7e7e7e"/><rect x="12" y="10" width="1" height="1" fill="#7e7e7e"/><rect x="13" y="10" width="1" height="1" fill="#7e7e7e"/><rect x="-1" y="11" width="1" height="1" fill="#464646"/><rect x="0" y="11" width="1" height="1" fill="#464646"/><rect x="1" y="11" width="1" height="1" fill="#464646"/><rect x="2" y="11" width="1" height="1" fill="#464646"/><rect x="3" y="11" width="1" height="1" fill="#6a6a6a"/><rect x="4" y="11" width="1" height="1" fill="#6a6a6a"/><rect x="5" y="11" width="1" height="1" fill="#747474"/><rect x="6" y="11" width="1" height="1" fill="#747474"/><rect x="7" y="11" width="1" height="1" fill="#747474"/><rect x="8" y="11" width="1" height="1" fill="#7e7e7e"/><rect x="9" y="11" width="1" height="1" fill="#7e7e7e"/><rect x="10" y="11" width="1" height="1" fill="#7e7e7e"/><rect x="11" y="11" width="1" height="1" fill="#7e7e7e"/><rect x="12" y="11" width="1" height="1" fill="#7e7e7e"/><rect x="13" y="11" width="1" height="1" fill="#7e7e7e"/></g></g></g><use href="#mask"/></g>
<use href="#west"/><use href="#gulfcal"/>
<use href="#borders" fill="none" stroke="#000" stroke-width="0.75"/>
<use href="#usoutline" fill="none" stroke="#000" stroke-width="0.9"/>
<use href="#coastx" fill="none" stroke="#000" stroke-width="0.8"/>
</g>
<path d="M1.6 2.2V102.4M1.1 2.7H128.2" stroke="#fff" stroke-width="1"/>
<rect x="0.1" y="0.9" width="128.9" height="102.4" fill="none" stroke="#111" stroke-width="1.25"/>
<rect x="54.0" y="88.1" width="43.0" height="13.6" rx="1.6" fill="#000"/>
<text x="55.7" y="99" font-size="12" fill="#fff">END85</text>
</g>
<text x="555.4" y="14.6" font-size="19" fill="#000">e</text>
<g transform="translate(18 179)"><g clip-path="url(#pclip)">
<rect width="130" height="104" fill="#f0f0f0"/>
<use href="#water"/>
<g clip-path="url(#usclip)"><g filter="url(#c5)"><g filter="url(#b4)"><g class="fg" transform="scale(10)"><rect x="-1" y="-1" width="1" height="1" fill="#2d2d2d"/><rect x="0" y="-1" width="1" height="1" fill="#2d2d2d"/><rect x="1" y="-1" width="1" height="1" fill="#3d3d3d"/><rect x="2" y="-1" width="1" height="1" fill="#5a5a5a"/><rect x="3" y="-1" width="1" height="1" fill="#666666"/><rect x="4" y="-1" width="1" height="1" fill="#6e6e6e"/><rect x="5" y="-1" width="1" height="1" fill="#7a7a7a"/><rect x="6" y="-1" width="1" height="1" fill="#7e7e7e"/><rect x="7" y="-1" width="1" height="1" fill="#7a7a7a"/><rect x="8" y="-1" width="1" height="1" fill="#7a7a7a"/><rect x="9" y="-1" width="1" height="1" fill="#7a7a7a"/><rect x="10" y="-1" width="1" height="1" fill="#313131"/><rect x="11" y="-1" width="1" height="1" fill="#313131"/><rect x="12" y="-1" width="1" height="1" fill="#313131"/><rect x="13" y="-1" width="1" height="1" fill="#313131"/><rect x="-1" y="0" width="1" height="1" fill="#2d2d2d"/><rect x="0" y="0" width="1" height="1" fill="#2d2d2d"/><rect x="1" y="0" width="1" height="1" fill="#3d3d3d"/><rect x="2" y="0" width="1" height="1" fill="#5a5a5a"/><rect x="3" y="0" width="1" height="1" fill="#666666"/><rect x="4" y="0" width="1" height="1" fill="#6e6e6e"/><rect x="5" y="0" width="1" height="1" fill="#7a7a7a"/><rect x="6" y="0" width="1" height="1" fill="#7e7e7e"/><rect x="7" y="0" width="1" height="1" fill="#7a7a7a"/><rect x="8" y="0" width="1" height="1" fill="#7a7a7a"/><rect x="9" y="0" width="1" height="1" fill="#7a7a7a"/><rect x="10" y="0" width="1" height="1" fill="#313131"/><rect x="11" y="0" width="1" height="1" fill="#313131"/><rect x="12" y="0" width="1" height="1" fill="#313131"/><rect x="13" y="0" width="1" height="1" fill="#313131"/><rect x="-1" y="1" width="1" height="1" fill="#2d2d2d"/><rect x="0" y="1" width="1" height="1" fill="#2d2d2d"/><rect x="1" y="1" width="1" height="1" fill="#3d3d3d"/><rect x="2" y="1" width="1" height="1" fill="#5a5a5a"/><rect x="3" y="1" width="1" height="1" fill="#666666"/><rect x="4" y="1" width="1" height="1" fill="#6e6e6e"/><rect x="5" y="1" width="1" height="1" fill="#7a7a7a"/><rect x="6" y="1" width="1" height="1" fill="#7e7e7e"/><rect x="7" y="1" width="1" height="1" fill="#7a7a7a"/><rect x="8" y="1" width="1" height="1" fill="#7a7a7a"/><rect x="9" y="1" width="1" height="1" fill="#7a7a7a"/><rect x="10" y="1" width="1" height="1" fill="#525252"/><rect x="11" y="1" width="1" height="1" fill="#313131"/><rect x="12" y="1" width="1" height="1" fill="#313131"/><rect x="13" y="1" width="1" height="1" fill="#313131"/><rect x="-1" y="2" width="1" height="1" fill="#2d2d2d"/><rect x="0" y="2" width="1" height="1" fill="#2d2d2d"/><rect x="1" y="2" width="1" height="1" fill="#565656"/><rect x="2" y="2" width="1" height="1" fill="#6a6a6a"/><rect x="3" y="2" width="1" height="1" fill="#8f8f8f"/><rect x="4" y="2" width="1" height="1" fill="#8f8f8f"/><rect x="5" y="2" width="1" height="1" fill="#8f8f8f"/><rect x="6" y="2" width="1" height="1" fill="#8f8f8f"/><rect x="7" y="2" width="1" height="1" fill="#878787"/><rect x="8" y="2" width="1" height="1" fill="#7a7a7a"/><rect x="9" y="2" width="1" height="1" fill="#7a7a7a"/><rect x="10" y="2" width="1" height="1" fill="#525252"/><rect x="11" y="2" width="1" height="1" fill="#393939"/><rect x="12" y="2" width="1" height="1" fill="#353535"/><rect x="13" y="2" width="1" height="1" fill="#353535"/><rect x="-1" y="3" width="1" height="1" fill="#565656"/><rect x="0" y="3" width="1" height="1" fill="#565656"/><rect x="1" y="3" width="1" height="1" fill="#565656"/><rect x="2" y="3" width="1" height="1" fill="#878787"/><rect x="3" y="3" width="1" height="1" fill="#979797"/><rect x="4" y="3" width="1" height="1" fill="#979797"/><rect x="5" y="3" width="1" height="1" fill="#9b9b9b"/><rect x="6" y="3" width="1" height="1" fill="#979797"/><rect x="7" y="3" width="1" height="1" fill="#939393"/><rect x="8" y="3" width="1" height="1" fill="#878787"/><rect x="9" y="3" width="1" height="1" fill="#727272"/><rect x="10" y="3" width="1" height="1" fill="#5e5e5e"/><rect x="11" y="3" width="1" height="1" fill="#494949"/><rect x="12" y="3" width="1" height="1" fill="#494949"/><rect x="13" y="3" width="1" height="1" fill="#494949"/><rect x="-1" y="4" width="1" height="1" fill="#a3a3a3"/><rect x="0" y="4" width="1" height="1" fill="#a3a3a3"/><rect x="1" y="4" width="1" height="1" fill="#a3a3a3"/><rect x="2" y="4" width="1" height="1" fill="#a3a3a3"/><rect x="3" y="4" width="1" height="1" fill="#939393"/><rect x="4" y="4" width="1" height="1" fill="#979797"/><rect x="5" y="4" width="1" height="1" fill="#a3a3a3"/><rect x="6" y="4" width="1" height="1" fill="#9b9b9b"/><rect x="7" y="4" width="1" height="1" fill="#9b9b9b"/><rect x="8" y="4" width="1" height="1" fill="#979797"/><rect x="9" y="4" width="1" height="1" fill="#8f8f8f"/><rect x="10" y="4" width="1" height="1" fill="#838383"/><rect x="11" y="4" width="1" height="1" fill="#7a7a7a"/><rect x="12" y="4" width="1" height="1" fill="#7a7a7a"/><rect x="13" y="4" width="1" height="1" fill="#7a7a7a"/><rect x="-1" y="5" width="1" height="1" fill="#a3a3a3"/><rect x="0" y="5" width="1" height="1" fill="#a3a3a3"/><rect x="1" y="5" width="1" height="1" fill="#a3a3a3"/><rect x="2" y="5" width="1" height="1" fill="#a3a3a3"/><rect x="3" y="5" width="1" height="1" fill="#939393"/><rect x="4" y="5" width="1" height="1" fill="#9f9f9f"/><rect x="5" y="5" width="1" height="1" fill="#afafaf"/><rect x="6" y="5" width="1" height="1" fill="#ababab"/><rect x="7" y="5" width="1" height="1" fill="#ababab"/><rect x="8" y="5" width="1" height="1" fill="#9f9f9f"/><rect x="9" y="5" width="1" height="1" fill="#979797"/><rect x="10" y="5" width="1" height="1" fill="#8f8f8f"/><rect x="11" y="5" width="1" height="1" fill="#8f8f8f"/><rect x="12" y="5" width="1" height="1" fill="#7a7a7a"/><rect x="13" y="5" width="1" height="1" fill="#7a7a7a"/><rect x="-1" y="6" width="1" height="1" fill="#878787"/><rect x="0" y="6" width="1" height="1" fill="#878787"/><rect x="1" y="6" width="1" height="1" fill="#878787"/><rect x="2" y="6" width="1" height="1" fill="#979797"/><rect x="3" y="6" width="1" height="1" fill="#8b8b8b"/><rect x="4" y="6" width="1" height="1" fill="#a3a3a3"/><rect x="5" y="6" width="1" height="1" fill="#b8b8b8"/><rect x="6" y="6" width="1" height="1" fill="#b8b8b8"/><rect x="7" y="6" width="1" height="1" fill="#b4b4b4"/><rect x="8" y="6" width="1" height="1" fill="#a7a7a7"/><rect x="9" y="6" width="1" height="1" fill="#a3a3a3"/><rect x="10" y="6" width="1" height="1" fill="#a3a3a3"/><rect x="11" y="6" width="1" height="1" fill="#8f8f8f"/><rect x="12" y="6" width="1" height="1" fill="#8f8f8f"/><rect x="13" y="6" width="1" height="1" fill="#8f8f8f"/><rect x="-1" y="7" width="1" height="1" fill="#878787"/><rect x="0" y="7" width="1" height="1" fill="#878787"/><rect x="1" y="7" width="1" height="1" fill="#878787"/><rect x="2" y="7" width="1" height="1" fill="#838383"/><rect x="3" y="7" width="1" height="1" fill="#8b8b8b"/><rect x="4" y="7" width="1" height="1" fill="#9b9b9b"/><rect x="5" y="7" width="1" height="1" fill="#bcbcbc"/><rect x="6" y="7" width="1" height="1" fill="#c4c4c4"/><rect x="7" y="7" width="1" height="1" fill="#c0c0c0"/><rect x="8" y="7" width="1" height="1" fill="#afafaf"/><rect x="9" y="7" width="1" height="1" fill="#ababab"/><rect x="10" y="7" width="1" height="1" fill="#ababab"/><rect x="11" y="7" width="1" height="1" fill="#ababab"/><rect x="12" y="7" width="1" height="1" fill="#8f8f8f"/><rect x="13" y="7" width="1" height="1" fill="#8f8f8f"/><rect x="-1" y="8" width="1" height="1" fill="#878787"/><rect x="0" y="8" width="1" height="1" fill="#878787"/><rect x="1" y="8" width="1" height="1" fill="#878787"/><rect x="2" y="8" width="1" height="1" fill="#7a7a7a"/><rect x="3" y="8" width="1" height="1" fill="#838383"/><rect x="4" y="8" width="1" height="1" fill="#9f9f9f"/><rect x="5" y="8" width="1" height="1" fill="#c0c0c0"/><rect x="6" y="8" width="1" height="1" fill="#c8c8c8"/><rect x="7" y="8" width="1" height="1" fill="#c4c4c4"/><rect x="8" y="8" width="1" height="1" fill="#c0c0c0"/><rect x="9" y="8" width="1" height="1" fill="#bcbcbc"/><rect x="10" y="8" width="1" height="1" fill="#bcbcbc"/><rect x="11" y="8" width="1" height="1" fill="#c4c4c4"/><rect x="12" y="8" width="1" height="1" fill="#c4c4c4"/><rect x="13" y="8" width="1" height="1" fill="#c4c4c4"/><rect x="-1" y="9" width="1" height="1" fill="#878787"/><rect x="0" y="9" width="1" height="1" fill="#878787"/><rect x="1" y="9" width="1" height="1" fill="#7a7a7a"/><rect x="2" y="9" width="1" height="1" fill="#7a7a7a"/><rect x="3" y="9" width="1" height="1" fill="#838383"/><rect x="4" y="9" width="1" height="1" fill="#7e7e7e"/><rect x="5" y="9" width="1" height="1" fill="#a3a3a3"/><rect x="6" y="9" width="1" height="1" fill="#a3a3a3"/><rect x="7" y="9" width="1" height="1" fill="#c4c4c4"/><rect x="8" y="9" width="1" height="1" fill="#c0c0c0"/><rect x="9" y="9" width="1" height="1" fill="#c4c4c4"/><rect x="10" y="9" width="1" height="1" fill="#c4c4c4"/><rect x="11" y="9" width="1" height="1" fill="#c4c4c4"/><rect x="12" y="9" width="1" height="1" fill="#c4c4c4"/><rect x="13" y="9" width="1" height="1" fill="#c4c4c4"/><rect x="-1" y="10" width="1" height="1" fill="#7a7a7a"/><rect x="0" y="10" width="1" height="1" fill="#7a7a7a"/><rect x="1" y="10" width="1" height="1" fill="#7a7a7a"/><rect x="2" y="10" width="1" height="1" fill="#7a7a7a"/><rect x="3" y="10" width="1" height="1" fill="#7e7e7e"/><rect x="4" y="10" width="1" height="1" fill="#7e7e7e"/><rect x="5" y="10" width="1" height="1" fill="#a3a3a3"/><rect x="6" y="10" width="1" height="1" fill="#a3a3a3"/><rect x="7" y="10" width="1" height="1" fill="#a3a3a3"/><rect x="8" y="10" width="1" height="1" fill="#c4c4c4"/><rect x="9" y="10" width="1" height="1" fill="#c4c4c4"/><rect x="10" y="10" width="1" height="1" fill="#c4c4c4"/><rect x="11" y="10" width="1" height="1" fill="#c4c4c4"/><rect x="12" y="10" width="1" height="1" fill="#c4c4c4"/><rect x="13" y="10" width="1" height="1" fill="#c4c4c4"/><rect x="-1" y="11" width="1" height="1" fill="#7a7a7a"/><rect x="0" y="11" width="1" height="1" fill="#7a7a7a"/><rect x="1" y="11" width="1" height="1" fill="#7a7a7a"/><rect x="2" y="11" width="1" height="1" fill="#7a7a7a"/><rect x="3" y="11" width="1" height="1" fill="#7e7e7e"/><rect x="4" y="11" width="1" height="1" fill="#7e7e7e"/><rect x="5" y="11" width="1" height="1" fill="#a3a3a3"/><rect x="6" y="11" width="1" height="1" fill="#a3a3a3"/><rect x="7" y="11" width="1" height="1" fill="#a3a3a3"/><rect x="8" y="11" width="1" height="1" fill="#c4c4c4"/><rect x="9" y="11" width="1" height="1" fill="#c4c4c4"/><rect x="10" y="11" width="1" height="1" fill="#c4c4c4"/><rect x="11" y="11" width="1" height="1" fill="#c4c4c4"/><rect x="12" y="11" width="1" height="1" fill="#c4c4c4"/><rect x="13" y="11" width="1" height="1" fill="#c4c4c4"/></g></g><g filter="url(#b2.5)"><path d="M18 36 27 38 30 45 30 55 27 62 24 70 18 72 20 60 21 50 20 42Z" fill="#ababab"/></g></g><use href="#mask"/></g>
<use href="#west"/><use href="#gulfcal"/>
<use href="#borders" fill="none" stroke="#000" stroke-width="0.75"/>
<use href="#usoutline" fill="none" stroke="#000" stroke-width="0.9"/>
<use href="#coastx" fill="none" stroke="#000" stroke-width="0.8"/>
</g>
<path d="M1.6 2.2V102.4M1.1 2.7H128.2" stroke="#fff" stroke-width="1"/>
<rect x="0.1" y="0.9" width="128.9" height="102.4" fill="none" stroke="#111" stroke-width="1.25"/>
<rect x="55.0" y="88.1" width="32.0" height="13.6" rx="1.6" fill="#000"/>
<text x="57.0" y="99" font-size="12" fill="#fff">HIST</text>
</g>
<text x="19.4" y="174.6" font-size="19" fill="#000">f</text>
<g transform="translate(152 179)"><g clip-path="url(#pclip)">
<rect width="130" height="104" fill="#f0f0f0"/>
<use href="#water"/>
<g clip-path="url(#usclip)"><g filter="url(#c6)"><g filter="url(#b4)"><g class="fg" transform="scale(10)"><rect x="-1" y="-1" width="1" height="1" fill="#949494"/><rect x="0" y="-1" width="1" height="1" fill="#949494"/><rect x="1" y="-1" width="1" height="1" fill="#909090"/><rect x="2" y="-1" width="1" height="1" fill="#909090"/><rect x="3" y="-1" width="1" height="1" fill="#949494"/><rect x="4" y="-1" width="1" height="1" fill="#909090"/><rect x="5" y="-1" width="1" height="1" fill="#8d8d8d"/><rect x="6" y="-1" width="1" height="1" fill="#8d8d8d"/><rect x="7" y="-1" width="1" height="1" fill="#949494"/><rect x="8" y="-1" width="1" height="1" fill="#949494"/><rect x="9" y="-1" width="1" height="1" fill="#949494"/><rect x="10" y="-1" width="1" height="1" fill="#a2a2a2"/><rect x="11" y="-1" width="1" height="1" fill="#a2a2a2"/><rect x="12" y="-1" width="1" height="1" fill="#a2a2a2"/><rect x="13" y="-1" width="1" height="1" fill="#a2a2a2"/><rect x="-1" y="0" width="1" height="1" fill="#949494"/><rect x="0" y="0" width="1" height="1" fill="#949494"/><rect x="1" y="0" width="1" height="1" fill="#909090"/><rect x="2" y="0" width="1" height="1" fill="#909090"/><rect x="3" y="0" width="1" height="1" fill="#949494"/><rect x="4" y="0" width="1" height="1" fill="#909090"/><rect x="5" y="0" width="1" height="1" fill="#8d8d8d"/><rect x="6" y="0" width="1" height="1" fill="#8d8d8d"/><rect x="7" y="0" width="1" height="1" fill="#949494"/><rect x="8" y="0" width="1" height="1" fill="#949494"/><rect x="9" y="0" width="1" height="1" fill="#949494"/><rect x="10" y="0" width="1" height="1" fill="#a2a2a2"/><rect x="11" y="0" width="1" height="1" fill="#a2a2a2"/><rect x="12" y="0" width="1" height="1" fill="#a2a2a2"/><rect x="13" y="0" width="1" height="1" fill="#a2a2a2"/><rect x="-1" y="1" width="1" height="1" fill="#949494"/><rect x="0" y="1" width="1" height="1" fill="#949494"/><rect x="1" y="1" width="1" height="1" fill="#909090"/><rect x="2" y="1" width="1" height="1" fill="#909090"/><rect x="3" y="1" width="1" height="1" fill="#949494"/><rect x="4" y="1" width="1" height="1" fill="#909090"/><rect x="5" y="1" width="1" height="1" fill="#8d8d8d"/><rect x="6" y="1" width="1" height="1" fill="#8d8d8d"/><rect x="7" y="1" width="1" height="1" fill="#949494"/><rect x="8" y="1" width="1" height="1" fill="#949494"/><rect x="9" y="1" width="1" height="1" fill="#9b9b9b"/><rect x="10" y="1" width="1" height="1" fill="#afafaf"/><rect x="11" y="1" width="1" height="1" fill="#a2a2a2"/><rect x="12" y="1" width="1" height="1" fill="#a2a2a2"/><rect x="13" y="1" width="1" height="1" fill="#a2a2a2"/><rect x="-1" y="2" width="1" height="1" fill="#949494"/><rect x="0" y="2" width="1" height="1" fill="#949494"/><rect x="1" y="2" width="1" height="1" fill="#909090"/><rect x="2" y="2" width="1" height="1" fill="#909090"/><rect x="3" y="2" width="1" height="1" fill="#757575"/><rect x="4" y="2" width="1" height="1" fill="#7c7c7c"/><rect x="5" y="2" width="1" height="1" fill="#757575"/><rect x="6" y="2" width="1" height="1" fill="#949494"/><rect x="7" y="2" width="1" height="1" fill="#949494"/><rect x="8" y="2" width="1" height="1" fill="#9b9b9b"/><rect x="9" y="2" width="1" height="1" fill="#9b9b9b"/><rect x="10" y="2" width="1" height="1" fill="#afafaf"/><rect x="11" y="2" width="1" height="1" fill="#a8a8a8"/><rect x="12" y="2" width="1" height="1" fill="#a8a8a8"/><rect x="13" y="2" width="1" height="1" fill="#a8a8a8"/><rect x="-1" y="3" width="1" height="1" fill="#909090"/><rect x="0" y="3" width="1" height="1" fill="#909090"/><rect x="1" y="3" width="1" height="1" fill="#909090"/><rect x="2" y="3" width="1" height="1" fill="#909090"/><rect x="3" y="3" width="1" height="1" fill="#8a8a8a"/><rect x="4" y="3" width="1" height="1" fill="#868686"/><rect x="5" y="3" width="1" height="1" fill="#868686"/><rect x="6" y="3" width="1" height="1" fill="#9b9b9b"/><rect x="7" y="3" width="1" height="1" fill="#a8a8a8"/><rect x="8" y="3" width="1" height="1" fill="#afafaf"/><rect x="9" y="3" width="1" height="1" fill="#b2b2b2"/><rect x="10" y="3" width="1" height="1" fill="#afafaf"/><rect x="11" y="3" width="1" height="1" fill="#a8a8a8"/><rect x="12" y="3" width="1" height="1" fill="#a8a8a8"/><rect x="13" y="3" width="1" height="1" fill="#a8a8a8"/><rect x="-1" y="4" width="1" height="1" fill="#797979"/><rect x="0" y="4" width="1" height="1" fill="#797979"/><rect x="1" y="4" width="1" height="1" fill="#797979"/><rect x="2" y="4" width="1" height="1" fill="#797979"/><rect x="3" y="4" width="1" height="1" fill="#838383"/><rect x="4" y="4" width="1" height="1" fill="#949494"/><rect x="5" y="4" width="1" height="1" fill="#9e9e9e"/><rect x="6" y="4" width="1" height="1" fill="#acacac"/><rect x="7" y="4" width="1" height="1" fill="#b6b6b6"/><rect x="8" y="4" width="1" height="1" fill="#b6b6b6"/><rect x="9" y="4" width="1" height="1" fill="#b2b2b2"/><rect x="10" y="4" width="1" height="1" fill="#a8a8a8"/><rect x="11" y="4" width="1" height="1" fill="#a8a8a8"/><rect x="12" y="4" width="1" height="1" fill="#a8a8a8"/><rect x="13" y="4" width="1" height="1" fill="#a8a8a8"/><rect x="-1" y="5" width="1" height="1" fill="#6b6b6b"/><rect x="0" y="5" width="1" height="1" fill="#6b6b6b"/><rect x="1" y="5" width="1" height="1" fill="#6b6b6b"/><rect x="2" y="5" width="1" height="1" fill="#6b6b6b"/><rect x="3" y="5" width="1" height="1" fill="#868686"/><rect x="4" y="5" width="1" height="1" fill="#8d8d8d"/><rect x="5" y="5" width="1" height="1" fill="#acacac"/><rect x="6" y="5" width="1" height="1" fill="#afafaf"/><rect x="7" y="5" width="1" height="1" fill="#b9b9b9"/><rect x="8" y="5" width="1" height="1" fill="#b6b6b6"/><rect x="9" y="5" width="1" height="1" fill="#a8a8a8"/><rect x="10" y="5" width="1" height="1" fill="#a2a2a2"/><rect x="11" y="5" width="1" height="1" fill="#a2a2a2"/><rect x="12" y="5" width="1" height="1" fill="#a8a8a8"/><rect x="13" y="5" width="1" height="1" fill="#a8a8a8"/><rect x="-1" y="6" width="1" height="1" fill="#757575"/><rect x="0" y="6" width="1" height="1" fill="#757575"/><rect x="1" y="6" width="1" height="1" fill="#757575"/><rect x="2" y="6" width="1" height="1" fill="#646464"/><rect x="3" y="6" width="1" height="1" fill="#797979"/><rect x="4" y="6" width="1" height="1" fill="#838383"/><rect x="5" y="6" width="1" height="1" fill="#a8a8a8"/><rect x="6" y="6" width="1" height="1" fill="#afafaf"/><rect x="7" y="6" width="1" height="1" fill="#afafaf"/><rect x="8" y="6" width="1" height="1" fill="#a8a8a8"/><rect x="9" y="6" width="1" height="1" fill="#9b9b9b"/><rect x="10" y="6" width="1" height="1" fill="#9b9b9b"/><rect x="11" y="6" width="1" height="1" fill="#a2a2a2"/><rect x="12" y="6" width="1" height="1" fill="#a2a2a2"/><rect x="13" y="6" width="1" height="1" fill="#a2a2a2"/><rect x="-1" y="7" width="1" height="1" fill="#757575"/><rect x="0" y="7" width="1" height="1" fill="#757575"/><rect x="1" y="7" width="1" height="1" fill="#757575"/><rect x="2" y="7" width="1" height="1" fill="#6b6b6b"/><rect x="3" y="7" width="1" height="1" fill="#646464"/><rect x="4" y="7" width="1" height="1" fill="#6e6e6e"/><rect x="5" y="7" width="1" height="1" fill="#868686"/><rect x="6" y="7" width="1" height="1" fill="#a5a5a5"/><rect x="7" y="7" width="1" height="1" fill="#949494"/><rect x="8" y="7" width="1" height="1" fill="#8d8d8d"/><rect x="9" y="7" width="1" height="1" fill="#8d8d8d"/><rect x="10" y="7" width="1" height="1" fill="#8d8d8d"/><rect x="11" y="7" width="1" height="1" fill="#8d8d8d"/><rect x="12" y="7" width="1" height="1" fill="#a2a2a2"/><rect x="13" y="7" width="1" height="1" fill="#a2a2a2"/><rect x="-1" y="8" width="1" height="1" fill="#757575"/><rect x="0" y="8" width="1" height="1" fill="#757575"/><rect x="1" y="8" width="1" height="1" fill="#757575"/><rect x="2" y="8" width="1" height="1" fill="#6e6e6e"/><rect x="3" y="8" width="1" height="1" fill="#646464"/><rect x="4" y="8" width="1" height="1" fill="#686868"/><rect x="5" y="8" width="1" height="1" fill="#797979"/><rect x="6" y="8" width="1" height="1" fill="#9b9b9b"/><rect x="7" y="8" width="1" height="1" fill="#8d8d8d"/><rect x="8" y="8" width="1" height="1" fill="#838383"/><rect x="9" y="8" width="1" height="1" fill="#797979"/><rect x="10" y="8" width="1" height="1" fill="#797979"/><rect x="11" y="8" width="1" height="1" fill="#6b6b6b"/><rect x="12" y="8" width="1" height="1" fill="#6b6b6b"/><rect x="13" y="8" width="1" height="1" fill="#6b6b6b"/><rect x="-1" y="9" width="1" height="1" fill="#757575"/><rect x="0" y="9" width="1" height="1" fill="#757575"/><rect x="1" y="9" width="1" height="1" fill="#6e6e6e"/><rect x="2" y="9" width="1" height="1" fill="#6e6e6e"/><rect x="3" y="9" width="1" height="1" fill="#646464"/><rect x="4" y="9" width="1" height="1" fill="#646464"/><rect x="5" y="9" width="1" height="1" fill="#727272"/><rect x="6" y="9" width="1" height="1" fill="#727272"/><rect x="7" y="9" width="1" height="1" fill="#8d8d8d"/><rect x="8" y="9" width="1" height="1" fill="#838383"/><rect x="9" y="9" width="1" height="1" fill="#686868"/><rect x="10" y="9" width="1" height="1" fill="#6b6b6b"/><rect x="11" y="9" width="1" height="1" fill="#6b6b6b"/><rect x="12" y="9" width="1" height="1" fill="#6b6b6b"/><rect x="13" y="9" width="1" height="1" fill="#6b6b6b"/><rect x="-1" y="10" width="1" height="1" fill="#6e6e6e"/><rect x="0" y="10" width="1" height="1" fill="#6e6e6e"/><rect x="1" y="10" width="1" height="1" fill="#6e6e6e"/><rect x="2" y="10" width="1" height="1" fill="#6e6e6e"/><rect x="3" y="10" width="1" height="1" fill="#646464"/><rect x="4" y="10" width="1" height="1" fill="#646464"/><rect x="5" y="10" width="1" height="1" fill="#727272"/><rect x="6" y="10" width="1" height="1" fill="#727272"/><rect x="7" y="10" width="1" height="1" fill="#727272"/><rect x="8" y="10" width="1" height="1" fill="#686868"/><rect x="9" y="10" width="1" height="1" fill="#686868"/><rect x="10" y="10" width="1" height="1" fill="#6b6b6b"/><rect x="11" y="10" width="1" height="1" fill="#6b6b6b"/><rect x="12" y="10" width="1" height="1" fill="#6b6b6b"/><rect x="13" y="10" width="1" height="1" fill="#6b6b6b"/><rect x="-1" y="11" width="1" height="1" fill="#6e6e6e"/><rect x="0" y="11" width="1" height="1" fill="#6e6e6e"/><rect x="1" y="11" width="1" height="1" fill="#6e6e6e"/><rect x="2" y="11" width="1" height="1" fill="#6e6e6e"/><rect x="3" y="11" width="1" height="1" fill="#646464"/><rect x="4" y="11" width="1" height="1" fill="#646464"/><rect x="5" y="11" width="1" height="1" fill="#727272"/><rect x="6" y="11" width="1" height="1" fill="#727272"/><rect x="7" y="11" width="1" height="1" fill="#727272"/><rect x="8" y="11" width="1" height="1" fill="#686868"/><rect x="9" y="11" width="1" height="1" fill="#686868"/><rect x="10" y="11" width="1" height="1" fill="#6b6b6b"/><rect x="11" y="11" width="1" height="1" fill="#6b6b6b"/><rect x="12" y="11" width="1" height="1" fill="#6b6b6b"/><rect x="13" y="11" width="1" height="1" fill="#6b6b6b"/></g></g></g><use href="#mask"/></g>
<use href="#west"/><use href="#gulfcal"/>
<use href="#borders" fill="none" stroke="#000" stroke-width="0.75"/>
<use href="#usoutline" fill="none" stroke="#000" stroke-width="0.9"/>
<use href="#coastx" fill="none" stroke="#000" stroke-width="0.8"/>
</g>
<path d="M1.6 2.2V102.4M1.1 2.7H128.2" stroke="#fff" stroke-width="1"/>
<rect x="0.1" y="0.9" width="128.9" height="102.4" fill="none" stroke="#111" stroke-width="1.25"/>
<rect x="54.0" y="88.1" width="39.6" height="13.6" rx="1.6" fill="#000"/>
<text x="55.7" y="99" font-size="12" fill="#fff">MID45</text>
</g>
<text x="153.4" y="172.8" font-size="19" fill="#000">g</text>
<g transform="translate(286 179)"><g clip-path="url(#pclip)">
<rect width="130" height="104" fill="#f0f0f0"/>
<use href="#water"/>
<g clip-path="url(#usclip)"><g filter="url(#c7)"><g filter="url(#b4)"><g class="fg" transform="scale(10)"><rect x="-1" y="-1" width="1" height="1" fill="#8d8d8d"/><rect x="0" y="-1" width="1" height="1" fill="#8d8d8d"/><rect x="1" y="-1" width="1" height="1" fill="#8a8a8a"/><rect x="2" y="-1" width="1" height="1" fill="#8a8a8a"/><rect x="3" y="-1" width="1" height="1" fill="#9b9b9b"/><rect x="4" y="-1" width="1" height="1" fill="#949494"/><rect x="5" y="-1" width="1" height="1" fill="#909090"/><rect x="6" y="-1" width="1" height="1" fill="#949494"/><rect x="7" y="-1" width="1" height="1" fill="#9b9b9b"/><rect x="8" y="-1" width="1" height="1" fill="#9b9b9b"/><rect x="9" y="-1" width="1" height="1" fill="#9b9b9b"/><rect x="10" y="-1" width="1" height="1" fill="#afafaf"/><rect x="11" y="-1" width="1" height="1" fill="#afafaf"/><rect x="12" y="-1" width="1" height="1" fill="#afafaf"/><rect x="13" y="-1" width="1" height="1" fill="#afafaf"/><rect x="-1" y="0" width="1" height="1" fill="#8d8d8d"/><rect x="0" y="0" width="1" height="1" fill="#8d8d8d"/><rect x="1" y="0" width="1" height="1" fill="#8a8a8a"/><rect x="2" y="0" width="1" height="1" fill="#8a8a8a"/><rect x="3" y="0" width="1" height="1" fill="#9b9b9b"/><rect x="4" y="0" width="1" height="1" fill="#949494"/><rect x="5" y="0" width="1" height="1" fill="#909090"/><rect x="6" y="0" width="1" height="1" fill="#949494"/><rect x="7" y="0" width="1" height="1" fill="#9b9b9b"/><rect x="8" y="0" width="1" height="1" fill="#9b9b9b"/><rect x="9" y="0" width="1" height="1" fill="#9b9b9b"/><rect x="10" y="0" width="1" height="1" fill="#afafaf"/><rect x="11" y="0" width="1" height="1" fill="#afafaf"/><rect x="12" y="0" width="1" height="1" fill="#afafaf"/><rect x="13" y="0" width="1" height="1" fill="#afafaf"/><rect x="-1" y="1" width="1" height="1" fill="#8d8d8d"/><rect x="0" y="1" width="1" height="1" fill="#8d8d8d"/><rect x="1" y="1" width="1" height="1" fill="#8a8a8a"/><rect x="2" y="1" width="1" height="1" fill="#8a8a8a"/><rect x="3" y="1" width="1" height="1" fill="#9b9b9b"/><rect x="4" y="1" width="1" height="1" fill="#949494"/><rect x="5" y="1" width="1" height="1" fill="#909090"/><rect x="6" y="1" width="1" height="1" fill="#949494"/><rect x="7" y="1" width="1" height="1" fill="#9b9b9b"/><rect x="8" y="1" width="1" height="1" fill="#9b9b9b"/><rect x="9" y="1" width="1" height="1" fill="#a8a8a8"/><rect x="10" y="1" width="1" height="1" fill="#b6b6b6"/><rect x="11" y="1" width="1" height="1" fill="#afafaf"/><rect x="12" y="1" width="1" height="1" fill="#afafaf"/><rect x="13" y="1" width="1" height="1" fill="#afafaf"/><rect x="-1" y="2" width="1" height="1" fill="#8d8d8d"/><rect x="0" y="2" width="1" height="1" fill="#8d8d8d"/><rect x="1" y="2" width="1" height="1" fill="#8a8a8a"/><rect x="2" y="2" width="1" height="1" fill="#8d8d8d"/><rect x="3" y="2" width="1" height="1" fill="#8a8a8a"/><rect x="4" y="2" width="1" height="1" fill="#838383"/><rect x="5" y="2" width="1" height="1" fill="#838383"/><rect x="6" y="2" width="1" height="1" fill="#9b9b9b"/><rect x="7" y="2" width="1" height="1" fill="#9b9b9b"/><rect x="8" y="2" width="1" height="1" fill="#a8a8a8"/><rect x="9" y="2" width="1" height="1" fill="#a8a8a8"/><rect x="10" y="2" width="1" height="1" fill="#b6b6b6"/><rect x="11" y="2" width="1" height="1" fill="#b6b6b6"/><rect x="12" y="2" width="1" height="1" fill="#b6b6b6"/><rect x="13" y="2" width="1" height="1" fill="#b6b6b6"/><rect x="-1" y="3" width="1" height="1" fill="#8a8a8a"/><rect x="0" y="3" width="1" height="1" fill="#8a8a8a"/><rect x="1" y="3" width="1" height="1" fill="#8a8a8a"/><rect x="2" y="3" width="1" height="1" fill="#8d8d8d"/><rect x="3" y="3" width="1" height="1" fill="#949494"/><rect x="4" y="3" width="1" height="1" fill="#949494"/><rect x="5" y="3" width="1" height="1" fill="#a2a2a2"/><rect x="6" y="3" width="1" height="1" fill="#9b9b9b"/><rect x="7" y="3" width="1" height="1" fill="#afafaf"/><rect x="8" y="3" width="1" height="1" fill="#b6b6b6"/><rect x="9" y="3" width="1" height="1" fill="#b9b9b9"/><rect x="10" y="3" width="1" height="1" fill="#b6b6b6"/><rect x="11" y="3" width="1" height="1" fill="#afafaf"/><rect x="12" y="3" width="1" height="1" fill="#afafaf"/><rect x="13" y="3" width="1" height="1" fill="#afafaf"/><rect x="-1" y="4" width="1" height="1" fill="#6e6e6e"/><rect x="0" y="4" width="1" height="1" fill="#6e6e6e"/><rect x="1" y="4" width="1" height="1" fill="#6e6e6e"/><rect x="2" y="4" width="1" height="1" fill="#6e6e6e"/><rect x="3" y="4" width="1" height="1" fill="#8a8a8a"/><rect x="4" y="4" width="1" height="1" fill="#979797"/><rect x="5" y="4" width="1" height="1" fill="#979797"/><rect x="6" y="4" width="1" height="1" fill="#a5a5a5"/><rect x="7" y="4" width="1" height="1" fill="#bdbdbd"/><rect x="8" y="4" width="1" height="1" fill="#c0c0c0"/><rect x="9" y="4" width="1" height="1" fill="#b6b6b6"/><rect x="10" y="4" width="1" height="1" fill="#a8a8a8"/><rect x="11" y="4" width="1" height="1" fill="#a8a8a8"/><rect x="12" y="4" width="1" height="1" fill="#a8a8a8"/><rect x="13" y="4" width="1" height="1" fill="#a8a8a8"/><rect x="-1" y="5" width="1" height="1" fill="#5e5e5e"/><rect x="0" y="5" width="1" height="1" fill="#5e5e5e"/><rect x="1" y="5" width="1" height="1" fill="#5e5e5e"/><rect x="2" y="5" width="1" height="1" fill="#5e5e5e"/><rect x="3" y="5" width="1" height="1" fill="#6b6b6b"/><rect x="4" y="5" width="1" height="1" fill="#868686"/><rect x="5" y="5" width="1" height="1" fill="#8d8d8d"/><rect x="6" y="5" width="1" height="1" fill="#9b9b9b"/><rect x="7" y="5" width="1" height="1" fill="#bdbdbd"/><rect x="8" y="5" width="1" height="1" fill="#b6b6b6"/><rect x="9" y="5" width="1" height="1" fill="#a2a2a2"/><rect x="10" y="5" width="1" height="1" fill="#9b9b9b"/><rect x="11" y="5" width="1" height="1" fill="#9b9b9b"/><rect x="12" y="5" width="1" height="1" fill="#a8a8a8"/><rect x="13" y="5" width="1" height="1" fill="#a8a8a8"/><rect x="-1" y="6" width="1" height="1" fill="#6b6b6b"/><rect x="0" y="6" width="1" height="1" fill="#6b6b6b"/><rect x="1" y="6" width="1" height="1" fill="#6b6b6b"/><rect x="2" y="6" width="1" height="1" fill="#5e5e5e"/><rect x="3" y="6" width="1" height="1" fill="#646464"/><rect x="4" y="6" width="1" height="1" fill="#646464"/><rect x="5" y="6" width="1" height="1" fill="#727272"/><rect x="6" y="6" width="1" height="1" fill="#949494"/><rect x="7" y="6" width="1" height="1" fill="#a2a2a2"/><rect x="8" y="6" width="1" height="1" fill="#9b9b9b"/><rect x="9" y="6" width="1" height="1" fill="#8d8d8d"/><rect x="10" y="6" width="1" height="1" fill="#8d8d8d"/><rect x="11" y="6" width="1" height="1" fill="#9b9b9b"/><rect x="12" y="6" width="1" height="1" fill="#9b9b9b"/><rect x="13" y="6" width="1" height="1" fill="#9b9b9b"/><rect x="-1" y="7" width="1" height="1" fill="#6b6b6b"/><rect x="0" y="7" width="1" height="1" fill="#6b6b6b"/><rect x="1" y="7" width="1" height="1" fill="#6b6b6b"/><rect x="2" y="7" width="1" height="1" fill="#575757"/><rect x="3" y="7" width="1" height="1" fill="#494949"/><rect x="4" y="7" width="1" height="1" fill="#464646"/><rect x="5" y="7" width="1" height="1" fill="#505050"/><rect x="6" y="7" width="1" height="1" fill="#797979"/><rect x="7" y="7" width="1" height="1" fill="#8d8d8d"/><rect x="8" y="7" width="1" height="1" fill="#8a8a8a"/><rect x="9" y="7" width="1" height="1" fill="#808080"/><rect x="10" y="7" width="1" height="1" fill="#808080"/><rect x="11" y="7" width="1" height="1" fill="#808080"/><rect x="12" y="7" width="1" height="1" fill="#9b9b9b"/><rect x="13" y="7" width="1" height="1" fill="#9b9b9b"/><rect x="-1" y="8" width="1" height="1" fill="#6b6b6b"/><rect x="0" y="8" width="1" height="1" fill="#6b6b6b"/><rect x="1" y="8" width="1" height="1" fill="#6b6b6b"/><rect x="2" y="8" width="1" height="1" fill="#575757"/><rect x="3" y="8" width="1" height="1" fill="#494949"/><rect x="4" y="8" width="1" height="1" fill="#464646"/><rect x="5" y="8" width="1" height="1" fill="#505050"/><rect x="6" y="8" width="1" height="1" fill="#6b6b6b"/><rect x="7" y="8" width="1" height="1" fill="#797979"/><rect x="8" y="8" width="1" height="1" fill="#646464"/><rect x="9" y="8" width="1" height="1" fill="#575757"/><rect x="10" y="8" width="1" height="1" fill="#575757"/><rect x="11" y="8" width="1" height="1" fill="#505050"/><rect x="12" y="8" width="1" height="1" fill="#505050"/><rect x="13" y="8" width="1" height="1" fill="#505050"/><rect x="-1" y="9" width="1" height="1" fill="#6b6b6b"/><rect x="0" y="9" width="1" height="1" fill="#6b6b6b"/><rect x="1" y="9" width="1" height="1" fill="#575757"/><rect x="2" y="9" width="1" height="1" fill="#575757"/><rect x="3" y="9" width="1" height="1" fill="#494949"/><rect x="4" y="9" width="1" height="1" fill="#494949"/><rect x="5" y="9" width="1" height="1" fill="#505050"/><rect x="6" y="9" width="1" height="1" fill="#505050"/><rect x="7" y="9" width="1" height="1" fill="#797979"/><rect x="8" y="9" width="1" height="1" fill="#646464"/><rect x="9" y="9" width="1" height="1" fill="#494949"/><rect x="10" y="9" width="1" height="1" fill="#505050"/><rect x="11" y="9" width="1" height="1" fill="#505050"/><rect x="12" y="9" width="1" height="1" fill="#505050"/><rect x="13" y="9" width="1" height="1" fill="#505050"/><rect x="-1" y="10" width="1" height="1" fill="#575757"/><rect x="0" y="10" width="1" height="1" fill="#575757"/><rect x="1" y="10" width="1" height="1" fill="#575757"/><rect x="2" y="10" width="1" height="1" fill="#575757"/><rect x="3" y="10" width="1" height="1" fill="#494949"/><rect x="4" y="10" width="1" height="1" fill="#494949"/><rect x="5" y="10" width="1" height="1" fill="#505050"/><rect x="6" y="10" width="1" height="1" fill="#505050"/><rect x="7" y="10" width="1" height="1" fill="#505050"/><rect x="8" y="10" width="1" height="1" fill="#494949"/><rect x="9" y="10" width="1" height="1" fill="#494949"/><rect x="10" y="10" width="1" height="1" fill="#505050"/><rect x="11" y="10" width="1" height="1" fill="#505050"/><rect x="12" y="10" width="1" height="1" fill="#505050"/><rect x="13" y="10" width="1" height="1" fill="#505050"/><rect x="-1" y="11" width="1" height="1" fill="#575757"/><rect x="0" y="11" width="1" height="1" fill="#575757"/><rect x="1" y="11" width="1" height="1" fill="#575757"/><rect x="2" y="11" width="1" height="1" fill="#575757"/><rect x="3" y="11" width="1" height="1" fill="#494949"/><rect x="4" y="11" width="1" height="1" fill="#494949"/><rect x="5" y="11" width="1" height="1" fill="#505050"/><rect x="6" y="11" width="1" height="1" fill="#505050"/><rect x="7" y="11" width="1" height="1" fill="#505050"/><rect x="8" y="11" width="1" height="1" fill="#494949"/><rect x="9" y="11" width="1" height="1" fill="#494949"/><rect x="10" y="11" width="1" height="1" fill="#505050"/><rect x="11" y="11" width="1" height="1" fill="#505050"/><rect x="12" y="11" width="1" height="1" fill="#505050"/><rect x="13" y="11" width="1" height="1" fill="#505050"/></g></g></g><use href="#mask"/></g>
<use href="#west"/><use href="#gulfcal"/>
<use href="#borders" fill="none" stroke="#000" stroke-width="0.75"/>
<use href="#usoutline" fill="none" stroke="#000" stroke-width="0.9"/>
<use href="#coastx" fill="none" stroke="#000" stroke-width="0.8"/>
</g>
<path d="M1.6 2.2V102.4M1.1 2.7H128.2" stroke="#fff" stroke-width="1"/>
<rect x="0.1" y="0.9" width="128.9" height="102.4" fill="none" stroke="#111" stroke-width="1.25"/>
<rect x="54.0" y="88.1" width="39.6" height="13.6" rx="1.6" fill="#000"/>
<text x="55.7" y="99" font-size="12" fill="#fff">MID85</text>
</g>
<text x="287.4" y="174.6" font-size="19" fill="#000">h</text>
<g transform="translate(420 179)"><g clip-path="url(#pclip)">
<rect width="130" height="104" fill="#f0f0f0"/>
<use href="#water"/>
<g clip-path="url(#usclip)"><g filter="url(#c8)"><g filter="url(#b4)"><g class="fg" transform="scale(10)"><rect x="-1" y="-1" width="1" height="1" fill="#9b9b9b"/><rect x="0" y="-1" width="1" height="1" fill="#9b9b9b"/><rect x="1" y="-1" width="1" height="1" fill="#9b9b9b"/><rect x="2" y="-1" width="1" height="1" fill="#949494"/><rect x="3" y="-1" width="1" height="1" fill="#9b9b9b"/><rect x="4" y="-1" width="1" height="1" fill="#949494"/><rect x="5" y="-1" width="1" height="1" fill="#949494"/><rect x="6" y="-1" width="1" height="1" fill="#949494"/><rect x="7" y="-1" width="1" height="1" fill="#9b9b9b"/><rect x="8" y="-1" width="1" height="1" fill="#9b9b9b"/><rect x="9" y="-1" width="1" height="1" fill="#9b9b9b"/><rect x="10" y="-1" width="1" height="1" fill="#afafaf"/><rect x="11" y="-1" width="1" height="1" fill="#afafaf"/><rect x="12" y="-1" width="1" height="1" fill="#afafaf"/><rect x="13" y="-1" width="1" height="1" fill="#afafaf"/><rect x="-1" y="0" width="1" height="1" fill="#9b9b9b"/><rect x="0" y="0" width="1" height="1" fill="#9b9b9b"/><rect x="1" y="0" width="1" height="1" fill="#9b9b9b"/><rect x="2" y="0" width="1" height="1" fill="#949494"/><rect x="3" y="0" width="1" height="1" fill="#9b9b9b"/><rect x="4" y="0" width="1" height="1" fill="#949494"/><rect x="5" y="0" width="1" height="1" fill="#949494"/><rect x="6" y="0" width="1" height="1" fill="#949494"/><rect x="7" y="0" width="1" height="1" fill="#9b9b9b"/><rect x="8" y="0" width="1" height="1" fill="#9b9b9b"/><rect x="9" y="0" width="1" height="1" fill="#9b9b9b"/><rect x="10" y="0" width="1" height="1" fill="#afafaf"/><rect x="11" y="0" width="1" height="1" fill="#afafaf"/><rect x="12" y="0" width="1" height="1" fill="#afafaf"/><rect x="13" y="0" width="1" height="1" fill="#afafaf"/><rect x="-1" y="1" width="1" height="1" fill="#9b9b9b"/><rect x="0" y="1" width="1" height="1" fill="#9b9b9b"/><rect x="1" y="1" width="1" height="1" fill="#9b9b9b"/><rect x="2" y="1" width="1" height="1" fill="#949494"/><rect x="3" y="1" width="1" height="1" fill="#9b9b9b"/><rect x="4" y="1" width="1" height="1" fill="#949494"/><rect x="5" y="1" width="1" height="1" fill="#949494"/><rect x="6" y="1" width="1" height="1" fill="#949494"/><rect x="7" y="1" width="1" height="1" fill="#9b9b9b"/><rect x="8" y="1" width="1" height="1" fill="#9b9b9b"/><rect x="9" y="1" width="1" height="1" fill="#a2a2a2"/><rect x="10" y="1" width="1" height="1" fill="#b6b6b6"/><rect x="11" y="1" width="1" height="1" fill="#afafaf"/><rect x="12" y="1" width="1" height="1" fill="#afafaf"/><rect x="13" y="1" width="1" height="1" fill="#afafaf"/><rect x="-1" y="2" width="1" height="1" fill="#9b9b9b"/><rect x="0" y="2" width="1" height="1" fill="#9b9b9b"/><rect x="1" y="2" width="1" height="1" fill="#949494"/><rect x="2" y="2" width="1" height="1" fill="#9b9b9b"/><rect x="3" y="2" width="1" height="1" fill="#757575"/><rect x="4" y="2" width="1" height="1" fill="#808080"/><rect x="5" y="2" width="1" height="1" fill="#838383"/><rect x="6" y="2" width="1" height="1" fill="#a2a2a2"/><rect x="7" y="2" width="1" height="1" fill="#a2a2a2"/><rect x="8" y="2" width="1" height="1" fill="#a2a2a2"/><rect x="9" y="2" width="1" height="1" fill="#a2a2a2"/><rect x="10" y="2" width="1" height="1" fill="#b6b6b6"/><rect x="11" y="2" width="1" height="1" fill="#b6b6b6"/><rect x="12" y="2" width="1" height="1" fill="#b6b6b6"/><rect x="13" y="2" width="1" height="1" fill="#b6b6b6"/><rect x="-1" y="3" width="1" height="1" fill="#949494"/><rect x="0" y="3" width="1" height="1" fill="#949494"/><rect x="1" y="3" width="1" height="1" fill="#949494"/><rect x="2" y="3" width="1" height="1" fill="#949494"/><rect x="3" y="3" width="1" height="1" fill="#8d8d8d"/><rect x="4" y="3" width="1" height="1" fill="#949494"/><rect x="5" y="3" width="1" height="1" fill="#a2a2a2"/><rect x="6" y="3" width="1" height="1" fill="#a2a2a2"/><rect x="7" y="3" width="1" height="1" fill="#afafaf"/><rect x="8" y="3" width="1" height="1" fill="#b6b6b6"/><rect x="9" y="3" width="1" height="1" fill="#b6b6b6"/><rect x="10" y="3" width="1" height="1" fill="#b6b6b6"/><rect x="11" y="3" width="1" height="1" fill="#afafaf"/><rect x="12" y="3" width="1" height="1" fill="#afafaf"/><rect x="13" y="3" width="1" height="1" fill="#afafaf"/><rect x="-1" y="4" width="1" height="1" fill="#727272"/><rect x="0" y="4" width="1" height="1" fill="#727272"/><rect x="1" y="4" width="1" height="1" fill="#727272"/><rect x="2" y="4" width="1" height="1" fill="#727272"/><rect x="3" y="4" width="1" height="1" fill="#8a8a8a"/><rect x="4" y="4" width="1" height="1" fill="#949494"/><rect x="5" y="4" width="1" height="1" fill="#9b9b9b"/><rect x="6" y="4" width="1" height="1" fill="#a8a8a8"/><rect x="7" y="4" width="1" height="1" fill="#b6b6b6"/><rect x="8" y="4" width="1" height="1" fill="#b9b9b9"/><rect x="9" y="4" width="1" height="1" fill="#b6b6b6"/><rect x="10" y="4" width="1" height="1" fill="#a8a8a8"/><rect x="11" y="4" width="1" height="1" fill="#a8a8a8"/><rect x="12" y="4" width="1" height="1" fill="#a8a8a8"/><rect x="13" y="4" width="1" height="1" fill="#a8a8a8"/><rect x="-1" y="5" width="1" height="1" fill="#757575"/><rect x="0" y="5" width="1" height="1" fill="#757575"/><rect x="1" y="5" width="1" height="1" fill="#757575"/><rect x="2" y="5" width="1" height="1" fill="#757575"/><rect x="3" y="5" width="1" height="1" fill="#838383"/><rect x="4" y="5" width="1" height="1" fill="#8d8d8d"/><rect x="5" y="5" width="1" height="1" fill="#9b9b9b"/><rect x="6" y="5" width="1" height="1" fill="#a2a2a2"/><rect x="7" y="5" width="1" height="1" fill="#bdbdbd"/><rect x="8" y="5" width="1" height="1" fill="#b6b6b6"/><rect x="9" y="5" width="1" height="1" fill="#afafaf"/><rect x="10" y="5" width="1" height="1" fill="#a2a2a2"/><rect x="11" y="5" width="1" height="1" fill="#a2a2a2"/><rect x="12" y="5" width="1" height="1" fill="#a8a8a8"/><rect x="13" y="5" width="1" height="1" fill="#a8a8a8"/><rect x="-1" y="6" width="1" height="1" fill="#7c7c7c"/><rect x="0" y="6" width="1" height="1" fill="#7c7c7c"/><rect x="1" y="6" width="1" height="1" fill="#7c7c7c"/><rect x="2" y="6" width="1" height="1" fill="#797979"/><rect x="3" y="6" width="1" height="1" fill="#838383"/><rect x="4" y="6" width="1" height="1" fill="#757575"/><rect x="5" y="6" width="1" height="1" fill="#868686"/><rect x="6" y="6" width="1" height="1" fill="#a8a8a8"/><rect x="7" y="6" width="1" height="1" fill="#b6b6b6"/><rect x="8" y="6" width="1" height="1" fill="#afafaf"/><rect x="9" y="6" width="1" height="1" fill="#a2a2a2"/><rect x="10" y="6" width="1" height="1" fill="#a2a2a2"/><rect x="11" y="6" width="1" height="1" fill="#a2a2a2"/><rect x="12" y="6" width="1" height="1" fill="#a2a2a2"/><rect x="13" y="6" width="1" height="1" fill="#a2a2a2"/><rect x="-1" y="7" width="1" height="1" fill="#7c7c7c"/><rect x="0" y="7" width="1" height="1" fill="#7c7c7c"/><rect x="1" y="7" width="1" height="1" fill="#7c7c7c"/><rect x="2" y="7" width="1" height="1" fill="#757575"/><rect x="3" y="7" width="1" height="1" fill="#6b6b6b"/><rect x="4" y="7" width="1" height="1" fill="#5a5a5a"/><rect x="5" y="7" width="1" height="1" fill="#6e6e6e"/><rect x="6" y="7" width="1" height="1" fill="#a2a2a2"/><rect x="7" y="7" width="1" height="1" fill="#a8a8a8"/><rect x="8" y="7" width="1" height="1" fill="#9b9b9b"/><rect x="9" y="7" width="1" height="1" fill="#949494"/><rect x="10" y="7" width="1" height="1" fill="#949494"/><rect x="11" y="7" width="1" height="1" fill="#949494"/><rect x="12" y="7" width="1" height="1" fill="#a2a2a2"/><rect x="13" y="7" width="1" height="1" fill="#a2a2a2"/><rect x="-1" y="8" width="1" height="1" fill="#7c7c7c"/><rect x="0" y="8" width="1" height="1" fill="#7c7c7c"/><rect x="1" y="8" width="1" height="1" fill="#7c7c7c"/><rect x="2" y="8" width="1" height="1" fill="#757575"/><rect x="3" y="8" width="1" height="1" fill="#686868"/><rect x="4" y="8" width="1" height="1" fill="#5e5e5e"/><rect x="5" y="8" width="1" height="1" fill="#6e6e6e"/><rect x="6" y="8" width="1" height="1" fill="#8d8d8d"/><rect x="7" y="8" width="1" height="1" fill="#868686"/><rect x="8" y="8" width="1" height="1" fill="#808080"/><rect x="9" y="8" width="1" height="1" fill="#6b6b6b"/><rect x="10" y="8" width="1" height="1" fill="#6b6b6b"/><rect x="11" y="8" width="1" height="1" fill="#5e5e5e"/><rect x="12" y="8" width="1" height="1" fill="#5e5e5e"/><rect x="13" y="8" width="1" height="1" fill="#5e5e5e"/><rect x="-1" y="9" width="1" height="1" fill="#7c7c7c"/><rect x="0" y="9" width="1" height="1" fill="#7c7c7c"/><rect x="1" y="9" width="1" height="1" fill="#757575"/><rect x="2" y="9" width="1" height="1" fill="#757575"/><rect x="3" y="9" width="1" height="1" fill="#686868"/><rect x="4" y="9" width="1" height="1" fill="#646464"/><rect x="5" y="9" width="1" height="1" fill="#727272"/><rect x="6" y="9" width="1" height="1" fill="#727272"/><rect x="7" y="9" width="1" height="1" fill="#868686"/><rect x="8" y="9" width="1" height="1" fill="#808080"/><rect x="9" y="9" width="1" height="1" fill="#575757"/><rect x="10" y="9" width="1" height="1" fill="#5e5e5e"/><rect x="11" y="9" width="1" height="1" fill="#5e5e5e"/><rect x="12" y="9" width="1" height="1" fill="#5e5e5e"/><rect x="13" y="9" width="1" height="1" fill="#5e5e5e"/><rect x="-1" y="10" width="1" height="1" fill="#757575"/><rect x="0" y="10" width="1" height="1" fill="#757575"/><rect x="1" y="10" width="1" height="1" fill="#757575"/><rect x="2" y="10" width="1" height="1" fill="#757575"/><rect x="3" y="10" width="1" height="1" fill="#646464"/><rect x="4" y="10" width="1" height="1" fill="#646464"/><rect x="5" y="10" width="1" height="1" fill="#727272"/><rect x="6" y="10" width="1" height="1" fill="#727272"/><rect x="7" y="10" width="1" height="1" fill="#727272"/><rect x="8" y="10" width="1" height="1" fill="#575757"/><rect x="9" y="10" width="1" height="1" fill="#575757"/><rect x="10" y="10" width="1" height="1" fill="#5e5e5e"/><rect x="11" y="10" width="1" height="1" fill="#5e5e5e"/><rect x="12" y="10" width="1" height="1" fill="#5e5e5e"/><rect x="13" y="10" width="1" height="1" fill="#5e5e5e"/><rect x="-1" y="11" width="1" height="1" fill="#757575"/><rect x="0" y="11" width="1" height="1" fill="#757575"/><rect x="1" y="11" width="1" height="1" fill="#757575"/><rect x="2" y="11" width="1" height="1" fill="#757575"/><rect x="3" y="11" width="1" height="1" fill="#646464"/><rect x="4" y="11" width="1" height="1" fill="#646464"/><rect x="5" y="11" width="1" height="1" fill="#727272"/><rect x="6" y="11" width="1" height="1" fill="#727272"/><rect x="7" y="11" width="1" height="1" fill="#727272"/><rect x="8" y="11" width="1" height="1" fill="#575757"/><rect x="9" y="11" width="1" height="1" fill="#575757"/><rect x="10" y="11" width="1" height="1" fill="#5e5e5e"/><rect x="11" y="11" width="1" height="1" fill="#5e5e5e"/><rect x="12" y="11" width="1" height="1" fill="#5e5e5e"/><rect x="13" y="11" width="1" height="1" fill="#5e5e5e"/></g></g></g><use href="#mask"/></g>
<use href="#west"/><use href="#gulfcal"/>
<use href="#borders" fill="none" stroke="#000" stroke-width="0.75"/>
<use href="#usoutline" fill="none" stroke="#000" stroke-width="0.9"/>
<use href="#coastx" fill="none" stroke="#000" stroke-width="0.8"/>
</g>
<path d="M1.6 2.2V102.4M1.1 2.7H128.2" stroke="#fff" stroke-width="1"/>
<rect x="0.1" y="0.9" width="128.9" height="102.4" fill="none" stroke="#111" stroke-width="1.25"/>
<rect x="54.0" y="88.1" width="43.0" height="13.6" rx="1.6" fill="#000"/>
<text x="55.7" y="99" font-size="12" fill="#fff">END45</text>
</g>
<text x="421.4" y="174.6" font-size="19" fill="#000">i</text>
<g transform="translate(554 179)"><g clip-path="url(#pclip)">
<rect width="130" height="104" fill="#f0f0f0"/>
<use href="#water"/>
<g clip-path="url(#usclip)"><g filter="url(#c9)"><g filter="url(#b4)"><g class="fg" transform="scale(10)"><rect x="-1" y="-1" width="1" height="1" fill="#9b9b9b"/><rect x="0" y="-1" width="1" height="1" fill="#9b9b9b"/><rect x="1" y="-1" width="1" height="1" fill="#8d8d8d"/><rect x="2" y="-1" width="1" height="1" fill="#8d8d8d"/><rect x="3" y="-1" width="1" height="1" fill="#afafaf"/><rect x="4" y="-1" width="1" height="1" fill="#afafaf"/><rect x="5" y="-1" width="1" height="1" fill="#bdbdbd"/><rect x="6" y="-1" width="1" height="1" fill="#c4c4c4"/><rect x="7" y="-1" width="1" height="1" fill="#bdbdbd"/><rect x="8" y="-1" width="1" height="1" fill="#bdbdbd"/><rect x="9" y="-1" width="1" height="1" fill="#bdbdbd"/><rect x="10" y="-1" width="1" height="1" fill="#bdbdbd"/><rect x="11" y="-1" width="1" height="1" fill="#bdbdbd"/><rect x="12" y="-1" width="1" height="1" fill="#bdbdbd"/><rect x="13" y="-1" width="1" height="1" fill="#bdbdbd"/><rect x="-1" y="0" width="1" height="1" fill="#9b9b9b"/><rect x="0" y="0" width="1" height="1" fill="#9b9b9b"/><rect x="1" y="0" width="1" height="1" fill="#8d8d8d"/><rect x="2" y="0" width="1" height="1" fill="#8d8d8d"/><rect x="3" y="0" width="1" height="1" fill="#afafaf"/><rect x="4" y="0" width="1" height="1" fill="#afafaf"/><rect x="5" y="0" width="1" height="1" fill="#bdbdbd"/><rect x="6" y="0" width="1" height="1" fill="#c4c4c4"/><rect x="7" y="0" width="1" height="1" fill="#bdbdbd"/><rect x="8" y="0" width="1" height="1" fill="#bdbdbd"/><rect x="9" y="0" width="1" height="1" fill="#bdbdbd"/><rect x="10" y="0" width="1" height="1" fill="#bdbdbd"/><rect x="11" y="0" width="1" height="1" fill="#bdbdbd"/><rect x="12" y="0" width="1" height="1" fill="#bdbdbd"/><rect x="13" y="0" width="1" height="1" fill="#bdbdbd"/><rect x="-1" y="1" width="1" height="1" fill="#9b9b9b"/><rect x="0" y="1" width="1" height="1" fill="#9b9b9b"/><rect x="1" y="1" width="1" height="1" fill="#8d8d8d"/><rect x="2" y="1" width="1" height="1" fill="#8d8d8d"/><rect x="3" y="1" width="1" height="1" fill="#afafaf"/><rect x="4" y="1" width="1" height="1" fill="#afafaf"/><rect x="5" y="1" width="1" height="1" fill="#bdbdbd"/><rect x="6" y="1" width="1" height="1" fill="#c4c4c4"/><rect x="7" y="1" width="1" height="1" fill="#bdbdbd"/><rect x="8" y="1" width="1" height="1" fill="#bdbdbd"/><rect x="9" y="1" width="1" height="1" fill="#bdbdbd"/><rect x="10" y="1" width="1" height="1" fill="#c4c4c4"/><rect x="11" y="1" width="1" height="1" fill="#bdbdbd"/><rect x="12" y="1" width="1" height="1" fill="#bdbdbd"/><rect x="13" y="1" width="1" height="1" fill="#bdbdbd"/><rect x="-1" y="2" width="1" height="1" fill="#9b9b9b"/><rect x="0" y="2" width="1" height="1" fill="#9b9b9b"/><rect x="1" y="2" width="1" height="1" fill="#949494"/><rect x="2" y="2" width="1" height="1" fill="#949494"/><rect x="3" y="2" width="1" height="1" fill="#a8a8a8"/><rect x="4" y="2" width="1" height="1" fill="#afafaf"/><rect x="5" y="2" width="1" height="1" fill="#cacaca"/><rect x="6" y="2" width="1" height="1" fill="#cacaca"/><rect x="7" y="2" width="1" height="1" fill="#c4c4c4"/><rect x="8" y="2" width="1" height="1" fill="#bdbdbd"/><rect x="9" y="2" width="1" height="1" fill="#bdbdbd"/><rect x="10" y="2" width="1" height="1" fill="#c4c4c4"/><rect x="11" y="2" width="1" height="1" fill="#c4c4c4"/><rect x="12" y="2" width="1" height="1" fill="#c4c4c4"/><rect x="13" y="2" width="1" height="1" fill="#c4c4c4"/><rect x="-1" y="3" width="1" height="1" fill="#949494"/><rect x="0" y="3" width="1" height="1" fill="#949494"/><rect x="1" y="3" width="1" height="1" fill="#949494"/><rect x="2" y="3" width="1" height="1" fill="#949494"/><rect x="3" y="3" width="1" height="1" fill="#a8a8a8"/><rect x="4" y="3" width="1" height="1" fill="#afafaf"/><rect x="5" y="3" width="1" height="1" fill="#c4c4c4"/><rect x="6" y="3" width="1" height="1" fill="#c4c4c4"/><rect x="7" y="3" width="1" height="1" fill="#cacaca"/><rect x="8" y="3" width="1" height="1" fill="#d1d1d1"/><rect x="9" y="3" width="1" height="1" fill="#d1d1d1"/><rect x="10" y="3" width="1" height="1" fill="#cacaca"/><rect x="11" y="3" width="1" height="1" fill="#c4c4c4"/><rect x="12" y="3" width="1" height="1" fill="#c4c4c4"/><rect x="13" y="3" width="1" height="1" fill="#c4c4c4"/><rect x="-1" y="4" width="1" height="1" fill="#797979"/><rect x="0" y="4" width="1" height="1" fill="#797979"/><rect x="1" y="4" width="1" height="1" fill="#797979"/><rect x="2" y="4" width="1" height="1" fill="#797979"/><rect x="3" y="4" width="1" height="1" fill="#9b9b9b"/><rect x="4" y="4" width="1" height="1" fill="#a5a5a5"/><rect x="5" y="4" width="1" height="1" fill="#bdbdbd"/><rect x="6" y="4" width="1" height="1" fill="#c4c4c4"/><rect x="7" y="4" width="1" height="1" fill="#d1d1d1"/><rect x="8" y="4" width="1" height="1" fill="#d4d4d4"/><rect x="9" y="4" width="1" height="1" fill="#d1d1d1"/><rect x="10" y="4" width="1" height="1" fill="#c4c4c4"/><rect x="11" y="4" width="1" height="1" fill="#bdbdbd"/><rect x="12" y="4" width="1" height="1" fill="#bdbdbd"/><rect x="13" y="4" width="1" height="1" fill="#bdbdbd"/><rect x="-1" y="5" width="1" height="1" fill="#727272"/><rect x="0" y="5" width="1" height="1" fill="#727272"/><rect x="1" y="5" width="1" height="1" fill="#727272"/><rect x="2" y="5" width="1" height="1" fill="#727272"/><rect x="3" y="5" width="1" height="1" fill="#8d8d8d"/><rect x="4" y="5" width="1" height="1" fill="#9b9b9b"/><rect x="5" y="5" width="1" height="1" fill="#b6b6b6"/><rect x="6" y="5" width="1" height="1" fill="#b6b6b6"/><rect x="7" y="5" width="1" height="1" fill="#d8d8d8"/><rect x="8" y="5" width="1" height="1" fill="#d1d1d1"/><rect x="9" y="5" width="1" height="1" fill="#c4c4c4"/><rect x="10" y="5" width="1" height="1" fill="#afafaf"/><rect x="11" y="5" width="1" height="1" fill="#afafaf"/><rect x="12" y="5" width="1" height="1" fill="#bdbdbd"/><rect x="13" y="5" width="1" height="1" fill="#bdbdbd"/><rect x="-1" y="6" width="1" height="1" fill="#757575"/><rect x="0" y="6" width="1" height="1" fill="#757575"/><rect x="1" y="6" width="1" height="1" fill="#757575"/><rect x="2" y="6" width="1" height="1" fill="#6e6e6e"/><rect x="3" y="6" width="1" height="1" fill="#797979"/><rect x="4" y="6" width="1" height="1" fill="#868686"/><rect x="5" y="6" width="1" height="1" fill="#a2a2a2"/><rect x="6" y="6" width="1" height="1" fill="#b6b6b6"/><rect x="7" y="6" width="1" height="1" fill="#cacaca"/><rect x="8" y="6" width="1" height="1" fill="#c4c4c4"/><rect x="9" y="6" width="1" height="1" fill="#b6b6b6"/><rect x="10" y="6" width="1" height="1" fill="#b6b6b6"/><rect x="11" y="6" width="1" height="1" fill="#afafaf"/><rect x="12" y="6" width="1" height="1" fill="#afafaf"/><rect x="13" y="6" width="1" height="1" fill="#afafaf"/><rect x="-1" y="7" width="1" height="1" fill="#757575"/><rect x="0" y="7" width="1" height="1" fill="#757575"/><rect x="1" y="7" width="1" height="1" fill="#757575"/><rect x="2" y="7" width="1" height="1" fill="#6b6b6b"/><rect x="3" y="7" width="1" height="1" fill="#5a5a5a"/><rect x="4" y="7" width="1" height="1" fill="#424242"/><rect x="5" y="7" width="1" height="1" fill="#494949"/><rect x="6" y="7" width="1" height="1" fill="#949494"/><rect x="7" y="7" width="1" height="1" fill="#bdbdbd"/><rect x="8" y="7" width="1" height="1" fill="#afafaf"/><rect x="9" y="7" width="1" height="1" fill="#a2a2a2"/><rect x="10" y="7" width="1" height="1" fill="#a2a2a2"/><rect x="11" y="7" width="1" height="1" fill="#a2a2a2"/><rect x="12" y="7" width="1" height="1" fill="#afafaf"/><rect x="13" y="7" width="1" height="1" fill="#afafaf"/><rect x="-1" y="8" width="1" height="1" fill="#757575"/><rect x="0" y="8" width="1" height="1" fill="#757575"/><rect x="1" y="8" width="1" height="1" fill="#757575"/><rect x="2" y="8" width="1" height="1" fill="#6e6e6e"/><rect x="3" y="8" width="1" height="1" fill="#575757"/><rect x="4" y="8" width="1" height="1" fill="#424242"/><rect x="5" y="8" width="1" height="1" fill="#464646"/><rect x="6" y="8" width="1" height="1" fill="#797979"/><rect x="7" y="8" width="1" height="1" fill="#727272"/><rect x="8" y="8" width="1" height="1" fill="#646464"/><rect x="9" y="8" width="1" height="1" fill="#505050"/><rect x="10" y="8" width="1" height="1" fill="#505050"/><rect x="11" y="8" width="1" height="1" fill="#424242"/><rect x="12" y="8" width="1" height="1" fill="#424242"/><rect x="13" y="8" width="1" height="1" fill="#424242"/><rect x="-1" y="9" width="1" height="1" fill="#757575"/><rect x="0" y="9" width="1" height="1" fill="#757575"/><rect x="1" y="9" width="1" height="1" fill="#6e6e6e"/><rect x="2" y="9" width="1" height="1" fill="#6e6e6e"/><rect x="3" y="9" width="1" height="1" fill="#575757"/><rect x="4" y="9" width="1" height="1" fill="#424242"/><rect x="5" y="9" width="1" height="1" fill="#494949"/><rect x="6" y="9" width="1" height="1" fill="#494949"/><rect x="7" y="9" width="1" height="1" fill="#727272"/><rect x="8" y="9" width="1" height="1" fill="#646464"/><rect x="9" y="9" width="1" height="1" fill="#3f3f3f"/><rect x="10" y="9" width="1" height="1" fill="#424242"/><rect x="11" y="9" width="1" height="1" fill="#424242"/><rect x="12" y="9" width="1" height="1" fill="#424242"/><rect x="13" y="9" width="1" height="1" fill="#424242"/><rect x="-1" y="10" width="1" height="1" fill="#6e6e6e"/><rect x="0" y="10" width="1" height="1" fill="#6e6e6e"/><rect x="1" y="10" width="1" height="1" fill="#6e6e6e"/><rect x="2" y="10" width="1" height="1" fill="#6e6e6e"/><rect x="3" y="10" width="1" height="1" fill="#424242"/><rect x="4" y="10" width="1" height="1" fill="#424242"/><rect x="5" y="10" width="1" height="1" fill="#494949"/><rect x="6" y="10" width="1" height="1" fill="#494949"/><rect x="7" y="10" width="1" height="1" fill="#494949"/><rect x="8" y="10" width="1" height="1" fill="#3f3f3f"/><rect x="9" y="10" width="1" height="1" fill="#3f3f3f"/><rect x="10" y="10" width="1" height="1" fill="#424242"/><rect x="11" y="10" width="1" height="1" fill="#424242"/><rect x="12" y="10" width="1" height="1" fill="#424242"/><rect x="13" y="10" width="1" height="1" fill="#424242"/><rect x="-1" y="11" width="1" height="1" fill="#6e6e6e"/><rect x="0" y="11" width="1" height="1" fill="#6e6e6e"/><rect x="1" y="11" width="1" height="1" fill="#6e6e6e"/><rect x="2" y="11" width="1" height="1" fill="#6e6e6e"/><rect x="3" y="11" width="1" height="1" fill="#424242"/><rect x="4" y="11" width="1" height="1" fill="#424242"/><rect x="5" y="11" width="1" height="1" fill="#494949"/><rect x="6" y="11" width="1" height="1" fill="#494949"/><rect x="7" y="11" width="1" height="1" fill="#494949"/><rect x="8" y="11" width="1" height="1" fill="#3f3f3f"/><rect x="9" y="11" width="1" height="1" fill="#3f3f3f"/><rect x="10" y="11" width="1" height="1" fill="#424242"/><rect x="11" y="11" width="1" height="1" fill="#424242"/><rect x="12" y="11" width="1" height="1" fill="#424242"/><rect x="13" y="11" width="1" height="1" fill="#424242"/></g></g></g><use href="#mask"/></g>
<use href="#west"/><use href="#gulfcal"/>
<use href="#borders" fill="none" stroke="#000" stroke-width="0.75"/>
<use href="#usoutline" fill="none" stroke="#000" stroke-width="0.9"/>
<use href="#coastx" fill="none" stroke="#000" stroke-width="0.8"/>
</g>
<path d="M1.6 2.2V102.4M1.1 2.7H128.2" stroke="#fff" stroke-width="1"/>
<rect x="0.1" y="0.9" width="128.9" height="102.4" fill="none" stroke="#111" stroke-width="1.25"/>
<rect x="54.0" y="88.1" width="43.0" height="13.6" rx="1.6" fill="#000"/>
<text x="55.7" y="99" font-size="12" fill="#fff">END85</text>
</g>
<text x="555.4" y="172.8" font-size="19" fill="#000">j</text>
<text transform="translate(15.2 112.1) rotate(-90)" font-size="14">Near Surface</text>
<text transform="translate(10.1 286.9) rotate(-90)" font-size="12.4" textLength="113.6" lengthAdjust="spacing">Column Maximum</text>
<polygon points="140.8,130.3 147.2,134.95000000000002 140.8,139.60000000000002" fill="#3c38a8"/>
<rect x="18.3" y="130.3" width="122.50000000000001" height="9.3" fill="url(#gterr)"/>
<polygon points="18.3,130.3 140.8,130.3 147.2,134.95000000000002 140.8,139.60000000000002 18.3,139.60000000000002" fill="none" stroke="#000" stroke-width="1"/>
<line x1="18.3" y1="139.60000000000002" x2="18.3" y2="141.20000000000002" stroke="#000" stroke-width="0.8"/>
<text x="18.3" y="154.7" font-size="12.3" text-anchor="middle">0</text>
<line x1="48.9" y1="139.60000000000002" x2="48.9" y2="141.20000000000002" stroke="#000" stroke-width="0.8"/>
<text x="48.9" y="154.7" font-size="12.3" text-anchor="middle">2</text>
<line x1="79.6" y1="139.60000000000002" x2="79.6" y2="141.20000000000002" stroke="#000" stroke-width="0.8"/>
<text x="79.6" y="154.7" font-size="12.3" text-anchor="middle">4</text>
<line x1="110.2" y1="139.60000000000002" x2="110.2" y2="141.20000000000002" stroke="#000" stroke-width="0.8"/>
<text x="110.2" y="154.7" font-size="12.3" text-anchor="middle">6</text>
<line x1="140.8" y1="139.60000000000002" x2="140.8" y2="141.20000000000002" stroke="#000" stroke-width="0.8"/>
<text x="140.8" y="154.7" font-size="12.3" text-anchor="middle">8</text>
<text x="154.2" y="148.7" font-size="14">Days</text>
<polygon points="140.8,289.3 147.2,293.95 140.8,298.6" fill="#3c38a8"/>
<rect x="18.3" y="289.3" width="122.50000000000001" height="9.3" fill="url(#gterr)"/>
<polygon points="18.3,289.3 140.8,289.3 147.2,293.95 140.8,298.6 18.3,298.6" fill="none" stroke="#000" stroke-width="1"/>
<line x1="18.3" y1="298.6" x2="18.3" y2="300.20000000000005" stroke="#000" stroke-width="0.8"/>
<text x="18.3" y="313.7" font-size="12.3" text-anchor="middle">0</text>
<line x1="55.1" y1="298.6" x2="55.1" y2="300.20000000000005" stroke="#000" stroke-width="0.8"/>
<text x="55.1" y="313.7" font-size="12.3" text-anchor="middle">15</text>
<line x1="91.8" y1="298.6" x2="91.8" y2="300.20000000000005" stroke="#000" stroke-width="0.8"/>
<text x="91.8" y="313.7" font-size="12.3" text-anchor="middle">30</text>
<line x1="128.6" y1="298.6" x2="128.6" y2="300.20000000000005" stroke="#000" stroke-width="0.8"/>
<text x="128.6" y="313.7" font-size="12.3" text-anchor="middle">45</text>
<text x="154.2" y="309.1" font-size="14">Days</text>
<polygon points="269.1,130.3 253.8,134.95000000000002 269.1,139.60000000000002" fill="#00004c"/>
<polygon points="573.5,130.3 588.4,134.95000000000002 573.5,139.60000000000002" fill="#7f0000"/>
<rect x="269.1" y="130.3" width="304.4" height="9.3" fill="url(#gseis)"/>
<polygon points="269.1,130.3 573.5,130.3 588.4,134.95000000000002 573.5,139.60000000000002 269.1,139.60000000000002 253.8,134.95000000000002" fill="none" stroke="#000" stroke-width="1"/>
<line x1="269.1" y1="139.60000000000002" x2="269.1" y2="141.20000000000002" stroke="#000" stroke-width="0.8"/>
<text x="269.1" y="154.7" font-size="12.3" text-anchor="middle">−5</text>
<line x1="330.0" y1="139.60000000000002" x2="330.0" y2="141.20000000000002" stroke="#000" stroke-width="0.8"/>
<text x="330.0" y="154.7" font-size="12.3" text-anchor="middle">−3</text>
<line x1="390.9" y1="139.60000000000002" x2="390.9" y2="141.20000000000002" stroke="#000" stroke-width="0.8"/>
<text x="390.9" y="154.7" font-size="12.3" text-anchor="middle">−1</text>
<line x1="451.7" y1="139.60000000000002" x2="451.7" y2="141.20000000000002" stroke="#000" stroke-width="0.8"/>
<text x="451.7" y="154.7" font-size="12.3" text-anchor="middle">1</text>
<line x1="512.6" y1="139.60000000000002" x2="512.6" y2="141.20000000000002" stroke="#000" stroke-width="0.8"/>
<text x="512.6" y="154.7" font-size="12.3" text-anchor="middle">3</text>
<line x1="573.5" y1="139.60000000000002" x2="573.5" y2="141.20000000000002" stroke="#000" stroke-width="0.8"/>
<text x="573.5" y="154.7" font-size="12.3" text-anchor="middle">5</text>
<text x="592" y="148.1" font-size="13.6" style="font-family:'DejaVu Sans',sans-serif;font-weight:normal">Δ</text>
<text x="605.8" y="148.4" font-size="14">Days</text>
<polygon points="269.1,289.3 253.8,293.95 269.1,298.6" fill="#00004c"/>
<polygon points="573.5,289.3 588.4,293.95 573.5,298.6" fill="#7f0000"/>
<rect x="269.1" y="289.3" width="304.4" height="9.3" fill="url(#gseis)"/>
<polygon points="269.1,289.3 573.5,289.3 588.4,293.95 573.5,298.6 269.1,298.6 253.8,293.95" fill="none" stroke="#000" stroke-width="1"/>
<line x1="269.1" y1="298.6" x2="269.1" y2="300.20000000000005" stroke="#000" stroke-width="0.8"/>
<text x="269.1" y="313.7" font-size="12.3" text-anchor="middle">−15</text>
<line x1="319.8" y1="298.6" x2="319.8" y2="300.20000000000005" stroke="#000" stroke-width="0.8"/>
<text x="319.8" y="313.7" font-size="12.3" text-anchor="middle">−10</text>
<line x1="370.6" y1="298.6" x2="370.6" y2="300.20000000000005" stroke="#000" stroke-width="0.8"/>
<text x="370.6" y="313.7" font-size="12.3" text-anchor="middle">−5</text>
<line x1="421.3" y1="298.6" x2="421.3" y2="300.20000000000005" stroke="#000" stroke-width="0.8"/>
<text x="421.3" y="313.7" font-size="12.3" text-anchor="middle">0</text>
<line x1="472.0" y1="298.6" x2="472.0" y2="300.20000000000005" stroke="#000" stroke-width="0.8"/>
<text x="472.0" y="313.7" font-size="12.3" text-anchor="middle">5</text>
<line x1="522.8" y1="298.6" x2="522.8" y2="300.20000000000005" stroke="#000" stroke-width="0.8"/>
<text x="522.8" y="313.7" font-size="12.3" text-anchor="middle">10</text>
<line x1="573.5" y1="298.6" x2="573.5" y2="300.20000000000005" stroke="#000" stroke-width="0.8"/>
<text x="573.5" y="313.7" font-size="12.3" text-anchor="middle">15</text>
<text x="592" y="308.5" font-size="13.6" style="font-family:'DejaVu Sans',sans-serif;font-weight:normal">Δ</text>
<text x="605.8" y="308.8" font-size="14">Days</text></svg>
</body></html>
